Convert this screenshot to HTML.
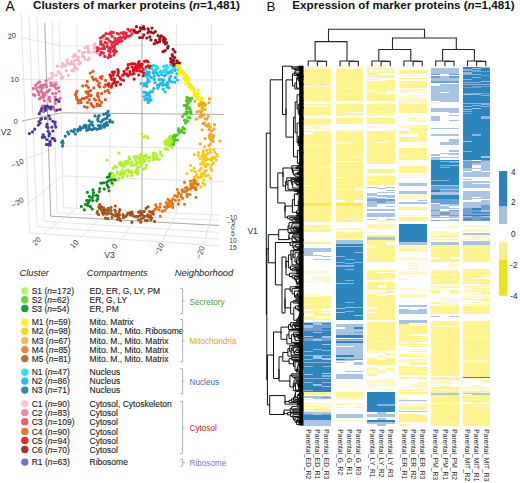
<!DOCTYPE html>
<html><head><meta charset="utf-8"><style>
html,body{margin:0;padding:0;background:#fff;}
svg{display:block;font-family:"Liberation Sans", sans-serif;}
.t{stroke:currentColor;stroke-width:0.22px;}
</style></head><body>
<svg width="520" height="483" viewBox="0 0 520 483">
<rect width="520" height="483" fill="#fff"/>
<text x="5.6" y="10.8" font-size="13.8" fill="#111">A</text>
<text x="33.0" y="9.3" font-size="11.7" font-weight="bold" fill="#111">Clusters of marker proteins (<tspan font-style="italic">n</tspan>=1,481)</text>
<text x="266.6" y="11.0" font-size="13.4" fill="#111">B</text>
<text x="292.3" y="9.3" font-size="11.65" font-weight="bold" fill="#111">Expression of marker proteins (<tspan font-style="italic">n</tspan>=1,481)</text>
<line x1="62.0" y1="46.0" x2="223.5" y2="44.3" stroke="#dedede" stroke-width="0.8"/>
<line x1="62.0" y1="79.6" x2="223.5" y2="80.0" stroke="#dedede" stroke-width="0.8"/>
<line x1="62.0" y1="112.8" x2="223.5" y2="114.5" stroke="#a9a9a9" stroke-width="1.0"/>
<line x1="62.0" y1="145.8" x2="223.5" y2="148.8" stroke="#dedede" stroke-width="0.8"/>
<line x1="62.0" y1="176.0" x2="223.5" y2="181.6" stroke="#dedede" stroke-width="0.8"/>
<line x1="76.7" y1="24.0" x2="76.7" y2="208.3" stroke="#dedede" stroke-width="0.8"/>
<line x1="110.0" y1="24.0" x2="110.0" y2="209.9" stroke="#dedede" stroke-width="0.8"/>
<line x1="142.0" y1="24.0" x2="142.0" y2="211.4" stroke="#a9a9a9" stroke-width="1.0"/>
<line x1="176.6" y1="24.0" x2="176.6" y2="213.1" stroke="#dedede" stroke-width="0.8"/>
<line x1="211.4" y1="24.0" x2="211.4" y2="214.7" stroke="#dedede" stroke-width="0.8"/>
<line x1="21.0" y1="37.6" x2="62.0" y2="46.0" stroke="#dedede" stroke-width="0.8"/>
<line x1="21.0" y1="79.3" x2="62.0" y2="79.6" stroke="#dedede" stroke-width="0.8"/>
<line x1="22.0" y1="121.0" x2="62.0" y2="112.8" stroke="#a9a9a9" stroke-width="1.0"/>
<line x1="25.0" y1="159.5" x2="62.0" y2="145.8" stroke="#dedede" stroke-width="0.8"/>
<line x1="27.0" y1="204.7" x2="62.0" y2="176.0" stroke="#dedede" stroke-width="0.8"/>
<line x1="59.0" y1="22.0" x2="63.4" y2="207.7" stroke="#dedede" stroke-width="0.8"/>
<line x1="63.4" y1="207.7" x2="219.0" y2="215.1" stroke="#dedede" stroke-width="0.8"/>
<line x1="52.0" y1="20.0" x2="57.0" y2="213.0" stroke="#dedede" stroke-width="0.8"/>
<line x1="57.0" y1="213.0" x2="219.0" y2="220.4" stroke="#dedede" stroke-width="0.8"/>
<line x1="44.8" y1="23.0" x2="50.7" y2="216.2" stroke="#a9a9a9" stroke-width="1.0"/>
<line x1="50.7" y1="216.2" x2="219.0" y2="225.5" stroke="#a9a9a9" stroke-width="1.0"/>
<line x1="37.0" y1="17.0" x2="44.3" y2="221.4" stroke="#dedede" stroke-width="0.8"/>
<line x1="44.3" y1="221.4" x2="219.0" y2="232.5" stroke="#dedede" stroke-width="0.8"/>
<line x1="29.0" y1="15.0" x2="37.0" y2="226.7" stroke="#dedede" stroke-width="0.8"/>
<line x1="37.0" y1="226.7" x2="219.0" y2="239.2" stroke="#dedede" stroke-width="0.8"/>
<line x1="21.0" y1="13.0" x2="29.5" y2="233.0" stroke="#dedede" stroke-width="0.8"/>
<line x1="29.5" y1="233.0" x2="219.0" y2="245.8" stroke="#dedede" stroke-width="0.8"/>
<line x1="76.7" y1="208.3" x2="43.0" y2="234.5" stroke="#dedede" stroke-width="0.8"/>
<line x1="110.0" y1="209.9" x2="80.0" y2="238.0" stroke="#dedede" stroke-width="0.8"/>
<line x1="142.0" y1="211.4" x2="119.0" y2="242.0" stroke="#dedede" stroke-width="0.8"/>
<line x1="176.6" y1="213.1" x2="161.0" y2="243.5" stroke="#dedede" stroke-width="0.8"/>
<line x1="211.4" y1="214.7" x2="204.0" y2="245.0" stroke="#dedede" stroke-width="0.8"/>
<text x="8.2" y="39.2" font-size="7.6" fill="#333" transform="rotate(-10 8.2 39.2)">20</text>
<text x="10.6" y="81.9" font-size="7.6" fill="#333">10</text>
<text x="13.6" y="124.2" font-size="7.6" fill="#333">0</text>
<text x="12.6" y="168.2" font-size="7.6" fill="#333" transform="rotate(-24 12.6 168.2)">−10</text>
<text x="13.4" y="208.2" font-size="7.6" fill="#333" transform="rotate(-32 13.4 208.2)">−20</text>
<text x="35.5" y="246" font-size="7.6" fill="#333" transform="rotate(-45 35.5 246)">20</text>
<text x="73.5" y="249" font-size="7.6" fill="#333" transform="rotate(-50 73.5 249)">10</text>
<text x="115.5" y="249.5" font-size="7.6" fill="#333" transform="rotate(-55 115.5 249.5)">0</text>
<text x="158" y="256" font-size="7.6" fill="#333" transform="rotate(-60 158 256)">−10</text>
<text x="200.5" y="259.5" font-size="7.6" fill="#333" transform="rotate(-70 200.5 259.5)">−20</text>
<text x="225.9" y="219.8" font-size="6.6" fill="#333">−10</text>
<text x="227.6" y="224.8" font-size="6.6" fill="#333">−5</text>
<text x="231.0" y="229.8" font-size="6.6" fill="#333">0</text>
<text x="231.0" y="236.0" font-size="6.6" fill="#333">5</text>
<text x="229.3" y="242.8" font-size="6.6" fill="#333">10</text>
<text x="229.3" y="250.0" font-size="6.6" fill="#333">15</text>
<text x="0.8" y="134.6" font-size="8.6" fill="#333">V2</text>
<text x="104.3" y="258.2" font-size="8.6" fill="#333">V3</text>
<text x="247.4" y="233.8" font-size="8.6" fill="#333">V1</text>
<path d="M74.2 55.9a1.6 1.6 0 1 0 3.2 0a1.6 1.6 0 1 0 -3.2 0M76.8 57.4a1.6 1.6 0 1 0 3.2 0a1.6 1.6 0 1 0 -3.2 0M101.9 40.3a1.6 1.6 0 1 0 3.2 0a1.6 1.6 0 1 0 -3.2 0M94.5 52.2a1.6 1.6 0 1 0 3.2 0a1.6 1.6 0 1 0 -3.2 0M59.8 78.0a1.6 1.6 0 1 0 3.2 0a1.6 1.6 0 1 0 -3.2 0M80.7 56.2a1.6 1.6 0 1 0 3.2 0a1.6 1.6 0 1 0 -3.2 0M83.3 59.0a1.6 1.6 0 1 0 3.2 0a1.6 1.6 0 1 0 -3.2 0M60.2 66.7a1.6 1.6 0 1 0 3.2 0a1.6 1.6 0 1 0 -3.2 0M55.8 66.1a1.6 1.6 0 1 0 3.2 0a1.6 1.6 0 1 0 -3.2 0M86.4 52.1a1.6 1.6 0 1 0 3.2 0a1.6 1.6 0 1 0 -3.2 0M102.2 43.8a1.6 1.6 0 1 0 3.2 0a1.6 1.6 0 1 0 -3.2 0M66.7 75.1a1.6 1.6 0 1 0 3.2 0a1.6 1.6 0 1 0 -3.2 0M95.6 53.4a1.6 1.6 0 1 0 3.2 0a1.6 1.6 0 1 0 -3.2 0M76.9 60.4a1.6 1.6 0 1 0 3.2 0a1.6 1.6 0 1 0 -3.2 0M70.3 70.5a1.6 1.6 0 1 0 3.2 0a1.6 1.6 0 1 0 -3.2 0M92.2 51.9a1.6 1.6 0 1 0 3.2 0a1.6 1.6 0 1 0 -3.2 0M64.7 70.8a1.6 1.6 0 1 0 3.2 0a1.6 1.6 0 1 0 -3.2 0M100.7 45.4a1.6 1.6 0 1 0 3.2 0a1.6 1.6 0 1 0 -3.2 0M77.5 50.9a1.6 1.6 0 1 0 3.2 0a1.6 1.6 0 1 0 -3.2 0M63.7 65.8a1.6 1.6 0 1 0 3.2 0a1.6 1.6 0 1 0 -3.2 0M72.9 68.3a1.6 1.6 0 1 0 3.2 0a1.6 1.6 0 1 0 -3.2 0M69.8 61.7a1.6 1.6 0 1 0 3.2 0a1.6 1.6 0 1 0 -3.2 0M92.6 45.9a1.6 1.6 0 1 0 3.2 0a1.6 1.6 0 1 0 -3.2 0M41.9 84.6a1.6 1.6 0 1 0 3.2 0a1.6 1.6 0 1 0 -3.2 0M50.9 75.8a1.6 1.6 0 1 0 3.2 0a1.6 1.6 0 1 0 -3.2 0M56.7 71.9a1.6 1.6 0 1 0 3.2 0a1.6 1.6 0 1 0 -3.2 0M61.3 77.2a1.6 1.6 0 1 0 3.2 0a1.6 1.6 0 1 0 -3.2 0M86.1 46.3a1.6 1.6 0 1 0 3.2 0a1.6 1.6 0 1 0 -3.2 0M49.6 78.5a1.6 1.6 0 1 0 3.2 0a1.6 1.6 0 1 0 -3.2 0M62.5 64.9a1.6 1.6 0 1 0 3.2 0a1.6 1.6 0 1 0 -3.2 0M92.4 48.3a1.6 1.6 0 1 0 3.2 0a1.6 1.6 0 1 0 -3.2 0M48.7 82.6a1.6 1.6 0 1 0 3.2 0a1.6 1.6 0 1 0 -3.2 0M72.0 64.1a1.6 1.6 0 1 0 3.2 0a1.6 1.6 0 1 0 -3.2 0M60.9 63.4a1.6 1.6 0 1 0 3.2 0a1.6 1.6 0 1 0 -3.2 0M79.0 62.8a1.6 1.6 0 1 0 3.2 0a1.6 1.6 0 1 0 -3.2 0M68.9 64.1a1.6 1.6 0 1 0 3.2 0a1.6 1.6 0 1 0 -3.2 0M50.1 73.1a1.6 1.6 0 1 0 3.2 0a1.6 1.6 0 1 0 -3.2 0M65.5 61.9a1.6 1.6 0 1 0 3.2 0a1.6 1.6 0 1 0 -3.2 0M72.9 54.6a1.6 1.6 0 1 0 3.2 0a1.6 1.6 0 1 0 -3.2 0M75.3 59.6a1.6 1.6 0 1 0 3.2 0a1.6 1.6 0 1 0 -3.2 0M44.5 86.3a1.6 1.6 0 1 0 3.2 0a1.6 1.6 0 1 0 -3.2 0M45.0 84.0a1.6 1.6 0 1 0 3.2 0a1.6 1.6 0 1 0 -3.2 0M45.7 80.0a1.6 1.6 0 1 0 3.2 0a1.6 1.6 0 1 0 -3.2 0M88.2 52.2a1.6 1.6 0 1 0 3.2 0a1.6 1.6 0 1 0 -3.2 0M99.3 43.2a1.6 1.6 0 1 0 3.2 0a1.6 1.6 0 1 0 -3.2 0M77.3 63.9a1.6 1.6 0 1 0 3.2 0a1.6 1.6 0 1 0 -3.2 0M47.0 79.0a1.6 1.6 0 1 0 3.2 0a1.6 1.6 0 1 0 -3.2 0M75.6 68.8a1.6 1.6 0 1 0 3.2 0a1.6 1.6 0 1 0 -3.2 0M86.8 50.4a1.6 1.6 0 1 0 3.2 0a1.6 1.6 0 1 0 -3.2 0M86.3 48.1a1.6 1.6 0 1 0 3.2 0a1.6 1.6 0 1 0 -3.2 0M71.5 56.7a1.6 1.6 0 1 0 3.2 0a1.6 1.6 0 1 0 -3.2 0M83.0 52.3a1.6 1.6 0 1 0 3.2 0a1.6 1.6 0 1 0 -3.2 0M72.9 60.8a1.6 1.6 0 1 0 3.2 0a1.6 1.6 0 1 0 -3.2 0M96.7 47.8a1.6 1.6 0 1 0 3.2 0a1.6 1.6 0 1 0 -3.2 0M55.0 82.0a1.6 1.6 0 1 0 3.2 0a1.6 1.6 0 1 0 -3.2 0M93.3 43.9a1.6 1.6 0 1 0 3.2 0a1.6 1.6 0 1 0 -3.2 0M97.2 52.2a1.6 1.6 0 1 0 3.2 0a1.6 1.6 0 1 0 -3.2 0M86.5 60.1a1.6 1.6 0 1 0 3.2 0a1.6 1.6 0 1 0 -3.2 0M59.2 74.2a1.6 1.6 0 1 0 3.2 0a1.6 1.6 0 1 0 -3.2 0M53.5 82.4a1.6 1.6 0 1 0 3.2 0a1.6 1.6 0 1 0 -3.2 0M87.6 58.2a1.6 1.6 0 1 0 3.2 0a1.6 1.6 0 1 0 -3.2 0M66.5 63.7a1.6 1.6 0 1 0 3.2 0a1.6 1.6 0 1 0 -3.2 0M94.8 48.6a1.6 1.6 0 1 0 3.2 0a1.6 1.6 0 1 0 -3.2 0M65.6 59.8a1.6 1.6 0 1 0 3.2 0a1.6 1.6 0 1 0 -3.2 0M81.1 52.9a1.6 1.6 0 1 0 3.2 0a1.6 1.6 0 1 0 -3.2 0M73.4 66.6a1.6 1.6 0 1 0 3.2 0a1.6 1.6 0 1 0 -3.2 0M71.8 71.0a1.6 1.6 0 1 0 3.2 0a1.6 1.6 0 1 0 -3.2 0M83.4 47.7a1.6 1.6 0 1 0 3.2 0a1.6 1.6 0 1 0 -3.2 0M54.4 75.3a1.6 1.6 0 1 0 3.2 0a1.6 1.6 0 1 0 -3.2 0M52.1 83.9a1.6 1.6 0 1 0 3.2 0a1.6 1.6 0 1 0 -3.2 0M82.3 56.6a1.6 1.6 0 1 0 3.2 0a1.6 1.6 0 1 0 -3.2 0M101.1 48.2a1.6 1.6 0 1 0 3.2 0a1.6 1.6 0 1 0 -3.2 0" fill="#f6b6c8"/>
<path d="M40.7 106.1a1.6 1.6 0 1 0 3.2 0a1.6 1.6 0 1 0 -3.2 0M54.2 93.3a1.6 1.6 0 1 0 3.2 0a1.6 1.6 0 1 0 -3.2 0M31.8 94.6a1.6 1.6 0 1 0 3.2 0a1.6 1.6 0 1 0 -3.2 0M41.2 109.3a1.6 1.6 0 1 0 3.2 0a1.6 1.6 0 1 0 -3.2 0M36.0 91.0a1.6 1.6 0 1 0 3.2 0a1.6 1.6 0 1 0 -3.2 0M42.3 105.8a1.6 1.6 0 1 0 3.2 0a1.6 1.6 0 1 0 -3.2 0M57.1 87.5a1.6 1.6 0 1 0 3.2 0a1.6 1.6 0 1 0 -3.2 0M52.1 108.7a1.6 1.6 0 1 0 3.2 0a1.6 1.6 0 1 0 -3.2 0M40.2 88.0a1.6 1.6 0 1 0 3.2 0a1.6 1.6 0 1 0 -3.2 0M57.0 99.9a1.6 1.6 0 1 0 3.2 0a1.6 1.6 0 1 0 -3.2 0M37.2 94.7a1.6 1.6 0 1 0 3.2 0a1.6 1.6 0 1 0 -3.2 0M41.6 87.3a1.6 1.6 0 1 0 3.2 0a1.6 1.6 0 1 0 -3.2 0M42.9 95.3a1.6 1.6 0 1 0 3.2 0a1.6 1.6 0 1 0 -3.2 0M53.7 103.4a1.6 1.6 0 1 0 3.2 0a1.6 1.6 0 1 0 -3.2 0M48.0 89.8a1.6 1.6 0 1 0 3.2 0a1.6 1.6 0 1 0 -3.2 0M39.7 90.9a1.6 1.6 0 1 0 3.2 0a1.6 1.6 0 1 0 -3.2 0M38.1 81.8a1.6 1.6 0 1 0 3.2 0a1.6 1.6 0 1 0 -3.2 0M33.2 95.4a1.6 1.6 0 1 0 3.2 0a1.6 1.6 0 1 0 -3.2 0M51.0 93.7a1.6 1.6 0 1 0 3.2 0a1.6 1.6 0 1 0 -3.2 0M37.2 92.8a1.6 1.6 0 1 0 3.2 0a1.6 1.6 0 1 0 -3.2 0M48.4 101.2a1.6 1.6 0 1 0 3.2 0a1.6 1.6 0 1 0 -3.2 0M52.1 107.0a1.6 1.6 0 1 0 3.2 0a1.6 1.6 0 1 0 -3.2 0M49.7 83.0a1.6 1.6 0 1 0 3.2 0a1.6 1.6 0 1 0 -3.2 0M54.8 88.7a1.6 1.6 0 1 0 3.2 0a1.6 1.6 0 1 0 -3.2 0M46.8 91.3a1.6 1.6 0 1 0 3.2 0a1.6 1.6 0 1 0 -3.2 0M51.8 85.6a1.6 1.6 0 1 0 3.2 0a1.6 1.6 0 1 0 -3.2 0M37.6 87.1a1.6 1.6 0 1 0 3.2 0a1.6 1.6 0 1 0 -3.2 0M41.9 111.8a1.6 1.6 0 1 0 3.2 0a1.6 1.6 0 1 0 -3.2 0M45.1 86.6a1.6 1.6 0 1 0 3.2 0a1.6 1.6 0 1 0 -3.2 0M53.8 100.6a1.6 1.6 0 1 0 3.2 0a1.6 1.6 0 1 0 -3.2 0M44.2 106.0a1.6 1.6 0 1 0 3.2 0a1.6 1.6 0 1 0 -3.2 0M31.6 88.7a1.6 1.6 0 1 0 3.2 0a1.6 1.6 0 1 0 -3.2 0M33.9 85.3a1.6 1.6 0 1 0 3.2 0a1.6 1.6 0 1 0 -3.2 0M58.6 98.2a1.6 1.6 0 1 0 3.2 0a1.6 1.6 0 1 0 -3.2 0M57.4 91.3a1.6 1.6 0 1 0 3.2 0a1.6 1.6 0 1 0 -3.2 0M47.7 99.5a1.6 1.6 0 1 0 3.2 0a1.6 1.6 0 1 0 -3.2 0M37.8 98.8a1.6 1.6 0 1 0 3.2 0a1.6 1.6 0 1 0 -3.2 0M49.3 85.7a1.6 1.6 0 1 0 3.2 0a1.6 1.6 0 1 0 -3.2 0M39.5 85.7a1.6 1.6 0 1 0 3.2 0a1.6 1.6 0 1 0 -3.2 0M53.5 97.1a1.6 1.6 0 1 0 3.2 0a1.6 1.6 0 1 0 -3.2 0M41.9 97.2a1.6 1.6 0 1 0 3.2 0a1.6 1.6 0 1 0 -3.2 0M39.5 97.7a1.6 1.6 0 1 0 3.2 0a1.6 1.6 0 1 0 -3.2 0M40.8 92.7a1.6 1.6 0 1 0 3.2 0a1.6 1.6 0 1 0 -3.2 0M40.9 85.5a1.6 1.6 0 1 0 3.2 0a1.6 1.6 0 1 0 -3.2 0M42.2 108.1a1.6 1.6 0 1 0 3.2 0a1.6 1.6 0 1 0 -3.2 0M43.8 84.4a1.6 1.6 0 1 0 3.2 0a1.6 1.6 0 1 0 -3.2 0M49.0 109.0a1.6 1.6 0 1 0 3.2 0a1.6 1.6 0 1 0 -3.2 0M41.2 95.6a1.6 1.6 0 1 0 3.2 0a1.6 1.6 0 1 0 -3.2 0M34.6 88.3a1.6 1.6 0 1 0 3.2 0a1.6 1.6 0 1 0 -3.2 0M45.5 109.5a1.6 1.6 0 1 0 3.2 0a1.6 1.6 0 1 0 -3.2 0M53.7 110.9a1.6 1.6 0 1 0 3.2 0a1.6 1.6 0 1 0 -3.2 0M36.1 83.2a1.6 1.6 0 1 0 3.2 0a1.6 1.6 0 1 0 -3.2 0M44.4 80.8a1.6 1.6 0 1 0 3.2 0a1.6 1.6 0 1 0 -3.2 0M54.3 84.3a1.6 1.6 0 1 0 3.2 0a1.6 1.6 0 1 0 -3.2 0M53.2 86.3a1.6 1.6 0 1 0 3.2 0a1.6 1.6 0 1 0 -3.2 0M45.4 91.7a1.6 1.6 0 1 0 3.2 0a1.6 1.6 0 1 0 -3.2 0M47.8 97.2a1.6 1.6 0 1 0 3.2 0a1.6 1.6 0 1 0 -3.2 0M42.7 100.7a1.6 1.6 0 1 0 3.2 0a1.6 1.6 0 1 0 -3.2 0M43.4 93.5a1.6 1.6 0 1 0 3.2 0a1.6 1.6 0 1 0 -3.2 0" fill="#dc6e98"/>
<path d="M37.7 113.7a1.6 1.6 0 1 0 3.2 0a1.6 1.6 0 1 0 -3.2 0M43.8 108.3a1.6 1.6 0 1 0 3.2 0a1.6 1.6 0 1 0 -3.2 0M47.3 115.9a1.6 1.6 0 1 0 3.2 0a1.6 1.6 0 1 0 -3.2 0M43.6 106.5a1.6 1.6 0 1 0 3.2 0a1.6 1.6 0 1 0 -3.2 0M39.1 111.0a1.6 1.6 0 1 0 3.2 0a1.6 1.6 0 1 0 -3.2 0M45.7 106.2a1.6 1.6 0 1 0 3.2 0a1.6 1.6 0 1 0 -3.2 0M44.0 110.3a1.6 1.6 0 1 0 3.2 0a1.6 1.6 0 1 0 -3.2 0M49.8 106.9a1.6 1.6 0 1 0 3.2 0a1.6 1.6 0 1 0 -3.2 0M48.5 118.9a1.6 1.6 0 1 0 3.2 0a1.6 1.6 0 1 0 -3.2 0M39.9 118.7a1.6 1.6 0 1 0 3.2 0a1.6 1.6 0 1 0 -3.2 0M43.8 118.4a1.6 1.6 0 1 0 3.2 0a1.6 1.6 0 1 0 -3.2 0M47.2 107.2a1.6 1.6 0 1 0 3.2 0a1.6 1.6 0 1 0 -3.2 0M49.1 108.8a1.6 1.6 0 1 0 3.2 0a1.6 1.6 0 1 0 -3.2 0M40.1 108.7a1.6 1.6 0 1 0 3.2 0a1.6 1.6 0 1 0 -3.2 0" fill="#4b379b"/>
<path d="M57.4 101.5a1.6 1.6 0 1 0 3.2 0a1.6 1.6 0 1 0 -3.2 0M54.6 99.5a1.6 1.6 0 1 0 3.2 0a1.6 1.6 0 1 0 -3.2 0M55.4 110.1a1.6 1.6 0 1 0 3.2 0a1.6 1.6 0 1 0 -3.2 0M58.5 109.5a1.6 1.6 0 1 0 3.2 0a1.6 1.6 0 1 0 -3.2 0" fill="#4b379b"/>
<path d="M37.4 121.7a1.6 1.6 0 1 0 3.2 0a1.6 1.6 0 1 0 -3.2 0M36.7 125.1a1.6 1.6 0 1 0 3.2 0a1.6 1.6 0 1 0 -3.2 0M33.2 129.2a1.6 1.6 0 1 0 3.2 0a1.6 1.6 0 1 0 -3.2 0M27.8 133.6a1.6 1.6 0 1 0 3.2 0a1.6 1.6 0 1 0 -3.2 0M38.6 123.1a1.6 1.6 0 1 0 3.2 0a1.6 1.6 0 1 0 -3.2 0M30.9 131.9a1.6 1.6 0 1 0 3.2 0a1.6 1.6 0 1 0 -3.2 0M39.1 119.4a1.6 1.6 0 1 0 3.2 0a1.6 1.6 0 1 0 -3.2 0" fill="#4b379b"/>
<path d="M53.4 124.3a1.6 1.6 0 1 0 3.2 0a1.6 1.6 0 1 0 -3.2 0M40.7 137.3a1.6 1.6 0 1 0 3.2 0a1.6 1.6 0 1 0 -3.2 0M47.5 135.7a1.6 1.6 0 1 0 3.2 0a1.6 1.6 0 1 0 -3.2 0M45.4 124.4a1.6 1.6 0 1 0 3.2 0a1.6 1.6 0 1 0 -3.2 0M54.2 127.1a1.6 1.6 0 1 0 3.2 0a1.6 1.6 0 1 0 -3.2 0M48.5 142.8a1.6 1.6 0 1 0 3.2 0a1.6 1.6 0 1 0 -3.2 0M51.3 131.0a1.6 1.6 0 1 0 3.2 0a1.6 1.6 0 1 0 -3.2 0M43.1 137.1a1.6 1.6 0 1 0 3.2 0a1.6 1.6 0 1 0 -3.2 0M44.8 144.4a1.6 1.6 0 1 0 3.2 0a1.6 1.6 0 1 0 -3.2 0M50.3 127.2a1.6 1.6 0 1 0 3.2 0a1.6 1.6 0 1 0 -3.2 0M53.6 122.1a1.6 1.6 0 1 0 3.2 0a1.6 1.6 0 1 0 -3.2 0M46.5 131.1a1.6 1.6 0 1 0 3.2 0a1.6 1.6 0 1 0 -3.2 0M51.2 121.3a1.6 1.6 0 1 0 3.2 0a1.6 1.6 0 1 0 -3.2 0M46.9 144.5a1.6 1.6 0 1 0 3.2 0a1.6 1.6 0 1 0 -3.2 0M48.0 133.7a1.6 1.6 0 1 0 3.2 0a1.6 1.6 0 1 0 -3.2 0M48.6 141.3a1.6 1.6 0 1 0 3.2 0a1.6 1.6 0 1 0 -3.2 0M53.3 140.6a1.6 1.6 0 1 0 3.2 0a1.6 1.6 0 1 0 -3.2 0M45.2 139.5a1.6 1.6 0 1 0 3.2 0a1.6 1.6 0 1 0 -3.2 0M45.0 126.6a1.6 1.6 0 1 0 3.2 0a1.6 1.6 0 1 0 -3.2 0M50.6 138.4a1.6 1.6 0 1 0 3.2 0a1.6 1.6 0 1 0 -3.2 0M52.5 138.8a1.6 1.6 0 1 0 3.2 0a1.6 1.6 0 1 0 -3.2 0M41.5 134.8a1.6 1.6 0 1 0 3.2 0a1.6 1.6 0 1 0 -3.2 0M46.3 127.6a1.6 1.6 0 1 0 3.2 0a1.6 1.6 0 1 0 -3.2 0M48.6 145.1a1.6 1.6 0 1 0 3.2 0a1.6 1.6 0 1 0 -3.2 0" fill="#4b379b"/>
<path d="M61.5 143.3a1.6 1.6 0 1 0 3.2 0a1.6 1.6 0 1 0 -3.2 0M61.0 140.9a1.6 1.6 0 1 0 3.2 0a1.6 1.6 0 1 0 -3.2 0M66.2 132.2a1.6 1.6 0 1 0 3.2 0a1.6 1.6 0 1 0 -3.2 0M63.7 136.2a1.6 1.6 0 1 0 3.2 0a1.6 1.6 0 1 0 -3.2 0M60.1 142.3a1.6 1.6 0 1 0 3.2 0a1.6 1.6 0 1 0 -3.2 0M60.9 146.0a1.6 1.6 0 1 0 3.2 0a1.6 1.6 0 1 0 -3.2 0M67.2 134.0a1.6 1.6 0 1 0 3.2 0a1.6 1.6 0 1 0 -3.2 0" fill="#1a7a98"/>
<path d="M99.2 125.5a1.6 1.6 0 1 0 3.2 0a1.6 1.6 0 1 0 -3.2 0M99.4 128.2a1.6 1.6 0 1 0 3.2 0a1.6 1.6 0 1 0 -3.2 0M85.0 130.3a1.6 1.6 0 1 0 3.2 0a1.6 1.6 0 1 0 -3.2 0M72.2 131.6a1.6 1.6 0 1 0 3.2 0a1.6 1.6 0 1 0 -3.2 0M96.6 116.5a1.6 1.6 0 1 0 3.2 0a1.6 1.6 0 1 0 -3.2 0M102.0 114.3a1.6 1.6 0 1 0 3.2 0a1.6 1.6 0 1 0 -3.2 0M81.6 127.6a1.6 1.6 0 1 0 3.2 0a1.6 1.6 0 1 0 -3.2 0M110.9 122.1a1.6 1.6 0 1 0 3.2 0a1.6 1.6 0 1 0 -3.2 0M106.0 125.1a1.6 1.6 0 1 0 3.2 0a1.6 1.6 0 1 0 -3.2 0M88.2 129.1a1.6 1.6 0 1 0 3.2 0a1.6 1.6 0 1 0 -3.2 0M84.3 127.3a1.6 1.6 0 1 0 3.2 0a1.6 1.6 0 1 0 -3.2 0M106.5 111.4a1.6 1.6 0 1 0 3.2 0a1.6 1.6 0 1 0 -3.2 0M104.7 113.4a1.6 1.6 0 1 0 3.2 0a1.6 1.6 0 1 0 -3.2 0M90.5 129.7a1.6 1.6 0 1 0 3.2 0a1.6 1.6 0 1 0 -3.2 0M99.5 122.0a1.6 1.6 0 1 0 3.2 0a1.6 1.6 0 1 0 -3.2 0M72.9 129.5a1.6 1.6 0 1 0 3.2 0a1.6 1.6 0 1 0 -3.2 0M96.4 118.2a1.6 1.6 0 1 0 3.2 0a1.6 1.6 0 1 0 -3.2 0M108.2 122.0a1.6 1.6 0 1 0 3.2 0a1.6 1.6 0 1 0 -3.2 0M92.3 128.6a1.6 1.6 0 1 0 3.2 0a1.6 1.6 0 1 0 -3.2 0M101.8 125.8a1.6 1.6 0 1 0 3.2 0a1.6 1.6 0 1 0 -3.2 0M76.1 130.9a1.6 1.6 0 1 0 3.2 0a1.6 1.6 0 1 0 -3.2 0M97.9 128.3a1.6 1.6 0 1 0 3.2 0a1.6 1.6 0 1 0 -3.2 0M102.7 124.1a1.6 1.6 0 1 0 3.2 0a1.6 1.6 0 1 0 -3.2 0M107.5 115.2a1.6 1.6 0 1 0 3.2 0a1.6 1.6 0 1 0 -3.2 0M73.8 134.0a1.6 1.6 0 1 0 3.2 0a1.6 1.6 0 1 0 -3.2 0M100.9 120.3a1.6 1.6 0 1 0 3.2 0a1.6 1.6 0 1 0 -3.2 0M86.6 129.6a1.6 1.6 0 1 0 3.2 0a1.6 1.6 0 1 0 -3.2 0M96.6 121.0a1.6 1.6 0 1 0 3.2 0a1.6 1.6 0 1 0 -3.2 0M108.4 120.2a1.6 1.6 0 1 0 3.2 0a1.6 1.6 0 1 0 -3.2 0M94.1 128.5a1.6 1.6 0 1 0 3.2 0a1.6 1.6 0 1 0 -3.2 0M102.7 127.2a1.6 1.6 0 1 0 3.2 0a1.6 1.6 0 1 0 -3.2 0M82.9 125.3a1.6 1.6 0 1 0 3.2 0a1.6 1.6 0 1 0 -3.2 0M87.6 120.8a1.6 1.6 0 1 0 3.2 0a1.6 1.6 0 1 0 -3.2 0M96.1 119.6a1.6 1.6 0 1 0 3.2 0a1.6 1.6 0 1 0 -3.2 0M102.9 119.1a1.6 1.6 0 1 0 3.2 0a1.6 1.6 0 1 0 -3.2 0M76.3 129.3a1.6 1.6 0 1 0 3.2 0a1.6 1.6 0 1 0 -3.2 0M91.4 125.6a1.6 1.6 0 1 0 3.2 0a1.6 1.6 0 1 0 -3.2 0M105.0 122.6a1.6 1.6 0 1 0 3.2 0a1.6 1.6 0 1 0 -3.2 0M78.4 126.8a1.6 1.6 0 1 0 3.2 0a1.6 1.6 0 1 0 -3.2 0M87.5 127.2a1.6 1.6 0 1 0 3.2 0a1.6 1.6 0 1 0 -3.2 0M79.1 128.3a1.6 1.6 0 1 0 3.2 0a1.6 1.6 0 1 0 -3.2 0M78.8 129.8a1.6 1.6 0 1 0 3.2 0a1.6 1.6 0 1 0 -3.2 0M104.2 125.5a1.6 1.6 0 1 0 3.2 0a1.6 1.6 0 1 0 -3.2 0M89.6 123.6a1.6 1.6 0 1 0 3.2 0a1.6 1.6 0 1 0 -3.2 0M84.6 125.6a1.6 1.6 0 1 0 3.2 0a1.6 1.6 0 1 0 -3.2 0M105.3 118.2a1.6 1.6 0 1 0 3.2 0a1.6 1.6 0 1 0 -3.2 0M106.0 116.0a1.6 1.6 0 1 0 3.2 0a1.6 1.6 0 1 0 -3.2 0M87.8 125.6a1.6 1.6 0 1 0 3.2 0a1.6 1.6 0 1 0 -3.2 0M97.6 115.5a1.6 1.6 0 1 0 3.2 0a1.6 1.6 0 1 0 -3.2 0M95.6 129.3a1.6 1.6 0 1 0 3.2 0a1.6 1.6 0 1 0 -3.2 0M93.3 115.9a1.6 1.6 0 1 0 3.2 0a1.6 1.6 0 1 0 -3.2 0M90.5 122.0a1.6 1.6 0 1 0 3.2 0a1.6 1.6 0 1 0 -3.2 0M69.7 130.9a1.6 1.6 0 1 0 3.2 0a1.6 1.6 0 1 0 -3.2 0M96.8 125.5a1.6 1.6 0 1 0 3.2 0a1.6 1.6 0 1 0 -3.2 0" fill="#1a7a98"/>
<path d="M74.5 92.8a1.6 1.6 0 1 0 3.2 0a1.6 1.6 0 1 0 -3.2 0M98.7 105.3a1.6 1.6 0 1 0 3.2 0a1.6 1.6 0 1 0 -3.2 0M85.6 107.3a1.6 1.6 0 1 0 3.2 0a1.6 1.6 0 1 0 -3.2 0M92.3 87.9a1.6 1.6 0 1 0 3.2 0a1.6 1.6 0 1 0 -3.2 0M100.0 93.4a1.6 1.6 0 1 0 3.2 0a1.6 1.6 0 1 0 -3.2 0M85.9 102.6a1.6 1.6 0 1 0 3.2 0a1.6 1.6 0 1 0 -3.2 0M86.9 87.5a1.6 1.6 0 1 0 3.2 0a1.6 1.6 0 1 0 -3.2 0M92.8 99.1a1.6 1.6 0 1 0 3.2 0a1.6 1.6 0 1 0 -3.2 0M81.2 86.0a1.6 1.6 0 1 0 3.2 0a1.6 1.6 0 1 0 -3.2 0M89.0 90.6a1.6 1.6 0 1 0 3.2 0a1.6 1.6 0 1 0 -3.2 0M104.0 80.4a1.6 1.6 0 1 0 3.2 0a1.6 1.6 0 1 0 -3.2 0M104.0 84.7a1.6 1.6 0 1 0 3.2 0a1.6 1.6 0 1 0 -3.2 0M92.0 79.6a1.6 1.6 0 1 0 3.2 0a1.6 1.6 0 1 0 -3.2 0M92.1 107.0a1.6 1.6 0 1 0 3.2 0a1.6 1.6 0 1 0 -3.2 0M97.6 99.9a1.6 1.6 0 1 0 3.2 0a1.6 1.6 0 1 0 -3.2 0M85.6 81.4a1.6 1.6 0 1 0 3.2 0a1.6 1.6 0 1 0 -3.2 0M84.5 91.9a1.6 1.6 0 1 0 3.2 0a1.6 1.6 0 1 0 -3.2 0M74.9 97.2a1.6 1.6 0 1 0 3.2 0a1.6 1.6 0 1 0 -3.2 0M106.2 90.3a1.6 1.6 0 1 0 3.2 0a1.6 1.6 0 1 0 -3.2 0M107.5 92.7a1.6 1.6 0 1 0 3.2 0a1.6 1.6 0 1 0 -3.2 0M96.2 93.4a1.6 1.6 0 1 0 3.2 0a1.6 1.6 0 1 0 -3.2 0M98.6 77.3a1.6 1.6 0 1 0 3.2 0a1.6 1.6 0 1 0 -3.2 0M98.1 86.9a1.6 1.6 0 1 0 3.2 0a1.6 1.6 0 1 0 -3.2 0M97.7 83.4a1.6 1.6 0 1 0 3.2 0a1.6 1.6 0 1 0 -3.2 0M103.8 99.7a1.6 1.6 0 1 0 3.2 0a1.6 1.6 0 1 0 -3.2 0M94.2 79.1a1.6 1.6 0 1 0 3.2 0a1.6 1.6 0 1 0 -3.2 0M84.6 85.4a1.6 1.6 0 1 0 3.2 0a1.6 1.6 0 1 0 -3.2 0M97.1 105.4a1.6 1.6 0 1 0 3.2 0a1.6 1.6 0 1 0 -3.2 0M75.4 91.1a1.6 1.6 0 1 0 3.2 0a1.6 1.6 0 1 0 -3.2 0M103.4 91.4a1.6 1.6 0 1 0 3.2 0a1.6 1.6 0 1 0 -3.2 0M107.4 86.4a1.6 1.6 0 1 0 3.2 0a1.6 1.6 0 1 0 -3.2 0M95.3 105.6a1.6 1.6 0 1 0 3.2 0a1.6 1.6 0 1 0 -3.2 0M109.7 87.5a1.6 1.6 0 1 0 3.2 0a1.6 1.6 0 1 0 -3.2 0M88.7 73.0a1.6 1.6 0 1 0 3.2 0a1.6 1.6 0 1 0 -3.2 0M76.7 102.9a1.6 1.6 0 1 0 3.2 0a1.6 1.6 0 1 0 -3.2 0M100.0 78.4a1.6 1.6 0 1 0 3.2 0a1.6 1.6 0 1 0 -3.2 0M100.5 76.3a1.6 1.6 0 1 0 3.2 0a1.6 1.6 0 1 0 -3.2 0M75.3 99.2a1.6 1.6 0 1 0 3.2 0a1.6 1.6 0 1 0 -3.2 0M99.8 102.4a1.6 1.6 0 1 0 3.2 0a1.6 1.6 0 1 0 -3.2 0M96.7 96.7a1.6 1.6 0 1 0 3.2 0a1.6 1.6 0 1 0 -3.2 0M90.4 105.4a1.6 1.6 0 1 0 3.2 0a1.6 1.6 0 1 0 -3.2 0M82.8 106.6a1.6 1.6 0 1 0 3.2 0a1.6 1.6 0 1 0 -3.2 0M73.9 94.4a1.6 1.6 0 1 0 3.2 0a1.6 1.6 0 1 0 -3.2 0M84.9 97.4a1.6 1.6 0 1 0 3.2 0a1.6 1.6 0 1 0 -3.2 0M79.5 102.6a1.6 1.6 0 1 0 3.2 0a1.6 1.6 0 1 0 -3.2 0M91.4 71.3a1.6 1.6 0 1 0 3.2 0a1.6 1.6 0 1 0 -3.2 0M87.0 91.4a1.6 1.6 0 1 0 3.2 0a1.6 1.6 0 1 0 -3.2 0M89.6 95.4a1.6 1.6 0 1 0 3.2 0a1.6 1.6 0 1 0 -3.2 0M78.8 100.1a1.6 1.6 0 1 0 3.2 0a1.6 1.6 0 1 0 -3.2 0M86.8 94.2a1.6 1.6 0 1 0 3.2 0a1.6 1.6 0 1 0 -3.2 0M96.7 85.3a1.6 1.6 0 1 0 3.2 0a1.6 1.6 0 1 0 -3.2 0M87.7 99.7a1.6 1.6 0 1 0 3.2 0a1.6 1.6 0 1 0 -3.2 0M85.7 92.6a1.6 1.6 0 1 0 3.2 0a1.6 1.6 0 1 0 -3.2 0M95.6 81.0a1.6 1.6 0 1 0 3.2 0a1.6 1.6 0 1 0 -3.2 0M89.3 103.6a1.6 1.6 0 1 0 3.2 0a1.6 1.6 0 1 0 -3.2 0M87.3 95.7a1.6 1.6 0 1 0 3.2 0a1.6 1.6 0 1 0 -3.2 0M95.7 103.9a1.6 1.6 0 1 0 3.2 0a1.6 1.6 0 1 0 -3.2 0M93.9 100.1a1.6 1.6 0 1 0 3.2 0a1.6 1.6 0 1 0 -3.2 0M80.8 98.3a1.6 1.6 0 1 0 3.2 0a1.6 1.6 0 1 0 -3.2 0M95.9 95.4a1.6 1.6 0 1 0 3.2 0a1.6 1.6 0 1 0 -3.2 0M90.6 77.1a1.6 1.6 0 1 0 3.2 0a1.6 1.6 0 1 0 -3.2 0M82.8 98.3a1.6 1.6 0 1 0 3.2 0a1.6 1.6 0 1 0 -3.2 0M102.7 86.9a1.6 1.6 0 1 0 3.2 0a1.6 1.6 0 1 0 -3.2 0M76.6 100.5a1.6 1.6 0 1 0 3.2 0a1.6 1.6 0 1 0 -3.2 0" fill="#ee5418"/>
<path d="M139.9 66.3a1.6 1.6 0 1 0 3.2 0a1.6 1.6 0 1 0 -3.2 0M145.1 74.1a1.6 1.6 0 1 0 3.2 0a1.6 1.6 0 1 0 -3.2 0M126.3 75.9a1.6 1.6 0 1 0 3.2 0a1.6 1.6 0 1 0 -3.2 0M112.7 78.9a1.6 1.6 0 1 0 3.2 0a1.6 1.6 0 1 0 -3.2 0M121.1 75.2a1.6 1.6 0 1 0 3.2 0a1.6 1.6 0 1 0 -3.2 0M122.9 74.0a1.6 1.6 0 1 0 3.2 0a1.6 1.6 0 1 0 -3.2 0M109.3 77.1a1.6 1.6 0 1 0 3.2 0a1.6 1.6 0 1 0 -3.2 0M140.6 64.2a1.6 1.6 0 1 0 3.2 0a1.6 1.6 0 1 0 -3.2 0M131.9 69.3a1.6 1.6 0 1 0 3.2 0a1.6 1.6 0 1 0 -3.2 0M130.5 67.1a1.6 1.6 0 1 0 3.2 0a1.6 1.6 0 1 0 -3.2 0M140.2 71.5a1.6 1.6 0 1 0 3.2 0a1.6 1.6 0 1 0 -3.2 0M146.3 61.7a1.6 1.6 0 1 0 3.2 0a1.6 1.6 0 1 0 -3.2 0M131.9 70.7a1.6 1.6 0 1 0 3.2 0a1.6 1.6 0 1 0 -3.2 0M109.9 85.9a1.6 1.6 0 1 0 3.2 0a1.6 1.6 0 1 0 -3.2 0M116.2 75.2a1.6 1.6 0 1 0 3.2 0a1.6 1.6 0 1 0 -3.2 0M135.2 70.6a1.6 1.6 0 1 0 3.2 0a1.6 1.6 0 1 0 -3.2 0M116.2 69.5a1.6 1.6 0 1 0 3.2 0a1.6 1.6 0 1 0 -3.2 0M142.9 61.3a1.6 1.6 0 1 0 3.2 0a1.6 1.6 0 1 0 -3.2 0M135.5 68.1a1.6 1.6 0 1 0 3.2 0a1.6 1.6 0 1 0 -3.2 0M126.5 64.6a1.6 1.6 0 1 0 3.2 0a1.6 1.6 0 1 0 -3.2 0M137.4 65.3a1.6 1.6 0 1 0 3.2 0a1.6 1.6 0 1 0 -3.2 0M106.1 85.0a1.6 1.6 0 1 0 3.2 0a1.6 1.6 0 1 0 -3.2 0M114.5 85.2a1.6 1.6 0 1 0 3.2 0a1.6 1.6 0 1 0 -3.2 0M110.8 72.1a1.6 1.6 0 1 0 3.2 0a1.6 1.6 0 1 0 -3.2 0M125.2 69.2a1.6 1.6 0 1 0 3.2 0a1.6 1.6 0 1 0 -3.2 0M142.3 72.9a1.6 1.6 0 1 0 3.2 0a1.6 1.6 0 1 0 -3.2 0M133.3 63.9a1.6 1.6 0 1 0 3.2 0a1.6 1.6 0 1 0 -3.2 0M137.2 74.9a1.6 1.6 0 1 0 3.2 0a1.6 1.6 0 1 0 -3.2 0M111.1 83.5a1.6 1.6 0 1 0 3.2 0a1.6 1.6 0 1 0 -3.2 0M116.7 71.1a1.6 1.6 0 1 0 3.2 0a1.6 1.6 0 1 0 -3.2 0M143.0 69.0a1.6 1.6 0 1 0 3.2 0a1.6 1.6 0 1 0 -3.2 0M112.1 73.3a1.6 1.6 0 1 0 3.2 0a1.6 1.6 0 1 0 -3.2 0M119.0 84.4a1.6 1.6 0 1 0 3.2 0a1.6 1.6 0 1 0 -3.2 0M135.1 65.7a1.6 1.6 0 1 0 3.2 0a1.6 1.6 0 1 0 -3.2 0M126.4 67.7a1.6 1.6 0 1 0 3.2 0a1.6 1.6 0 1 0 -3.2 0M137.8 67.9a1.6 1.6 0 1 0 3.2 0a1.6 1.6 0 1 0 -3.2 0M141.5 69.2a1.6 1.6 0 1 0 3.2 0a1.6 1.6 0 1 0 -3.2 0M112.9 71.8a1.6 1.6 0 1 0 3.2 0a1.6 1.6 0 1 0 -3.2 0M146.4 65.9a1.6 1.6 0 1 0 3.2 0a1.6 1.6 0 1 0 -3.2 0M130.7 63.7a1.6 1.6 0 1 0 3.2 0a1.6 1.6 0 1 0 -3.2 0M112.7 80.8a1.6 1.6 0 1 0 3.2 0a1.6 1.6 0 1 0 -3.2 0M132.4 73.4a1.6 1.6 0 1 0 3.2 0a1.6 1.6 0 1 0 -3.2 0M132.6 79.1a1.6 1.6 0 1 0 3.2 0a1.6 1.6 0 1 0 -3.2 0M141.7 75.7a1.6 1.6 0 1 0 3.2 0a1.6 1.6 0 1 0 -3.2 0M138.1 71.0a1.6 1.6 0 1 0 3.2 0a1.6 1.6 0 1 0 -3.2 0M137.6 61.5a1.6 1.6 0 1 0 3.2 0a1.6 1.6 0 1 0 -3.2 0M146.3 72.9a1.6 1.6 0 1 0 3.2 0a1.6 1.6 0 1 0 -3.2 0M144.5 67.2a1.6 1.6 0 1 0 3.2 0a1.6 1.6 0 1 0 -3.2 0M113.0 82.5a1.6 1.6 0 1 0 3.2 0a1.6 1.6 0 1 0 -3.2 0M124.9 73.9a1.6 1.6 0 1 0 3.2 0a1.6 1.6 0 1 0 -3.2 0M110.0 79.3a1.6 1.6 0 1 0 3.2 0a1.6 1.6 0 1 0 -3.2 0M119.2 79.2a1.6 1.6 0 1 0 3.2 0a1.6 1.6 0 1 0 -3.2 0M121.9 80.3a1.6 1.6 0 1 0 3.2 0a1.6 1.6 0 1 0 -3.2 0M107.2 83.6a1.6 1.6 0 1 0 3.2 0a1.6 1.6 0 1 0 -3.2 0M128.0 74.3a1.6 1.6 0 1 0 3.2 0a1.6 1.6 0 1 0 -3.2 0M148.9 66.0a1.6 1.6 0 1 0 3.2 0a1.6 1.6 0 1 0 -3.2 0M115.9 82.1a1.6 1.6 0 1 0 3.2 0a1.6 1.6 0 1 0 -3.2 0M130.9 74.1a1.6 1.6 0 1 0 3.2 0a1.6 1.6 0 1 0 -3.2 0M136.7 62.8a1.6 1.6 0 1 0 3.2 0a1.6 1.6 0 1 0 -3.2 0M111.2 75.5a1.6 1.6 0 1 0 3.2 0a1.6 1.6 0 1 0 -3.2 0M138.7 64.4a1.6 1.6 0 1 0 3.2 0a1.6 1.6 0 1 0 -3.2 0M122.3 71.4a1.6 1.6 0 1 0 3.2 0a1.6 1.6 0 1 0 -3.2 0M143.0 74.2a1.6 1.6 0 1 0 3.2 0a1.6 1.6 0 1 0 -3.2 0M133.5 69.8a1.6 1.6 0 1 0 3.2 0a1.6 1.6 0 1 0 -3.2 0M145.1 60.9a1.6 1.6 0 1 0 3.2 0a1.6 1.6 0 1 0 -3.2 0M133.9 67.2a1.6 1.6 0 1 0 3.2 0a1.6 1.6 0 1 0 -3.2 0M128.3 71.7a1.6 1.6 0 1 0 3.2 0a1.6 1.6 0 1 0 -3.2 0M148.1 67.8a1.6 1.6 0 1 0 3.2 0a1.6 1.6 0 1 0 -3.2 0M118.4 77.5a1.6 1.6 0 1 0 3.2 0a1.6 1.6 0 1 0 -3.2 0M116.7 72.6a1.6 1.6 0 1 0 3.2 0a1.6 1.6 0 1 0 -3.2 0M129.0 64.0a1.6 1.6 0 1 0 3.2 0a1.6 1.6 0 1 0 -3.2 0M108.4 74.8a1.6 1.6 0 1 0 3.2 0a1.6 1.6 0 1 0 -3.2 0" fill="#dc1018"/>
<path d="M102.9 48.7a1.6 1.6 0 1 0 3.2 0a1.6 1.6 0 1 0 -3.2 0M113.8 43.5a1.6 1.6 0 1 0 3.2 0a1.6 1.6 0 1 0 -3.2 0M120.1 41.0a1.6 1.6 0 1 0 3.2 0a1.6 1.6 0 1 0 -3.2 0M107.4 33.8a1.6 1.6 0 1 0 3.2 0a1.6 1.6 0 1 0 -3.2 0M103.7 42.4a1.6 1.6 0 1 0 3.2 0a1.6 1.6 0 1 0 -3.2 0M110.5 44.7a1.6 1.6 0 1 0 3.2 0a1.6 1.6 0 1 0 -3.2 0M130.6 33.6a1.6 1.6 0 1 0 3.2 0a1.6 1.6 0 1 0 -3.2 0M117.8 41.7a1.6 1.6 0 1 0 3.2 0a1.6 1.6 0 1 0 -3.2 0M106.4 57.6a1.6 1.6 0 1 0 3.2 0a1.6 1.6 0 1 0 -3.2 0M106.8 50.7a1.6 1.6 0 1 0 3.2 0a1.6 1.6 0 1 0 -3.2 0M112.9 49.5a1.6 1.6 0 1 0 3.2 0a1.6 1.6 0 1 0 -3.2 0M100.9 36.8a1.6 1.6 0 1 0 3.2 0a1.6 1.6 0 1 0 -3.2 0M109.2 47.6a1.6 1.6 0 1 0 3.2 0a1.6 1.6 0 1 0 -3.2 0M132.8 30.1a1.6 1.6 0 1 0 3.2 0a1.6 1.6 0 1 0 -3.2 0M118.4 39.4a1.6 1.6 0 1 0 3.2 0a1.6 1.6 0 1 0 -3.2 0M119.9 38.1a1.6 1.6 0 1 0 3.2 0a1.6 1.6 0 1 0 -3.2 0M113.4 40.7a1.6 1.6 0 1 0 3.2 0a1.6 1.6 0 1 0 -3.2 0M124.8 35.4a1.6 1.6 0 1 0 3.2 0a1.6 1.6 0 1 0 -3.2 0M110.5 36.3a1.6 1.6 0 1 0 3.2 0a1.6 1.6 0 1 0 -3.2 0M115.4 40.2a1.6 1.6 0 1 0 3.2 0a1.6 1.6 0 1 0 -3.2 0M102.1 35.7a1.6 1.6 0 1 0 3.2 0a1.6 1.6 0 1 0 -3.2 0M100.5 44.4a1.6 1.6 0 1 0 3.2 0a1.6 1.6 0 1 0 -3.2 0M134.7 32.5a1.6 1.6 0 1 0 3.2 0a1.6 1.6 0 1 0 -3.2 0M112.3 55.1a1.6 1.6 0 1 0 3.2 0a1.6 1.6 0 1 0 -3.2 0M116.1 42.6a1.6 1.6 0 1 0 3.2 0a1.6 1.6 0 1 0 -3.2 0M123.2 38.5a1.6 1.6 0 1 0 3.2 0a1.6 1.6 0 1 0 -3.2 0M109.1 56.3a1.6 1.6 0 1 0 3.2 0a1.6 1.6 0 1 0 -3.2 0M98.6 38.0a1.6 1.6 0 1 0 3.2 0a1.6 1.6 0 1 0 -3.2 0M112.9 46.0a1.6 1.6 0 1 0 3.2 0a1.6 1.6 0 1 0 -3.2 0M111.7 51.2a1.6 1.6 0 1 0 3.2 0a1.6 1.6 0 1 0 -3.2 0M107.3 48.1a1.6 1.6 0 1 0 3.2 0a1.6 1.6 0 1 0 -3.2 0M122.5 32.3a1.6 1.6 0 1 0 3.2 0a1.6 1.6 0 1 0 -3.2 0M115.3 43.7a1.6 1.6 0 1 0 3.2 0a1.6 1.6 0 1 0 -3.2 0M105.6 46.7a1.6 1.6 0 1 0 3.2 0a1.6 1.6 0 1 0 -3.2 0M126.3 29.4a1.6 1.6 0 1 0 3.2 0a1.6 1.6 0 1 0 -3.2 0M126.8 36.3a1.6 1.6 0 1 0 3.2 0a1.6 1.6 0 1 0 -3.2 0M124.4 37.3a1.6 1.6 0 1 0 3.2 0a1.6 1.6 0 1 0 -3.2 0M98.6 54.9a1.6 1.6 0 1 0 3.2 0a1.6 1.6 0 1 0 -3.2 0M118.9 37.2a1.6 1.6 0 1 0 3.2 0a1.6 1.6 0 1 0 -3.2 0M113.3 38.3a1.6 1.6 0 1 0 3.2 0a1.6 1.6 0 1 0 -3.2 0M107.6 54.8a1.6 1.6 0 1 0 3.2 0a1.6 1.6 0 1 0 -3.2 0M128.7 35.7a1.6 1.6 0 1 0 3.2 0a1.6 1.6 0 1 0 -3.2 0M104.6 38.5a1.6 1.6 0 1 0 3.2 0a1.6 1.6 0 1 0 -3.2 0M124.6 33.1a1.6 1.6 0 1 0 3.2 0a1.6 1.6 0 1 0 -3.2 0M114.7 51.4a1.6 1.6 0 1 0 3.2 0a1.6 1.6 0 1 0 -3.2 0M109.5 32.0a1.6 1.6 0 1 0 3.2 0a1.6 1.6 0 1 0 -3.2 0M116.8 38.3a1.6 1.6 0 1 0 3.2 0a1.6 1.6 0 1 0 -3.2 0M99.6 52.4a1.6 1.6 0 1 0 3.2 0a1.6 1.6 0 1 0 -3.2 0M109.2 33.8a1.6 1.6 0 1 0 3.2 0a1.6 1.6 0 1 0 -3.2 0M122.3 36.9a1.6 1.6 0 1 0 3.2 0a1.6 1.6 0 1 0 -3.2 0M100.9 48.6a1.6 1.6 0 1 0 3.2 0a1.6 1.6 0 1 0 -3.2 0M129.5 30.1a1.6 1.6 0 1 0 3.2 0a1.6 1.6 0 1 0 -3.2 0M113.0 52.8a1.6 1.6 0 1 0 3.2 0a1.6 1.6 0 1 0 -3.2 0M128.2 31.1a1.6 1.6 0 1 0 3.2 0a1.6 1.6 0 1 0 -3.2 0M109.2 49.1a1.6 1.6 0 1 0 3.2 0a1.6 1.6 0 1 0 -3.2 0M103.1 56.4a1.6 1.6 0 1 0 3.2 0a1.6 1.6 0 1 0 -3.2 0M115.6 33.3a1.6 1.6 0 1 0 3.2 0a1.6 1.6 0 1 0 -3.2 0M119.9 32.8a1.6 1.6 0 1 0 3.2 0a1.6 1.6 0 1 0 -3.2 0M131.0 29.9a1.6 1.6 0 1 0 3.2 0a1.6 1.6 0 1 0 -3.2 0M110.6 47.0a1.6 1.6 0 1 0 3.2 0a1.6 1.6 0 1 0 -3.2 0M101.8 53.2a1.6 1.6 0 1 0 3.2 0a1.6 1.6 0 1 0 -3.2 0M99.0 44.0a1.6 1.6 0 1 0 3.2 0a1.6 1.6 0 1 0 -3.2 0M109.6 42.0a1.6 1.6 0 1 0 3.2 0a1.6 1.6 0 1 0 -3.2 0M106.3 38.9a1.6 1.6 0 1 0 3.2 0a1.6 1.6 0 1 0 -3.2 0M95.6 47.7a1.6 1.6 0 1 0 3.2 0a1.6 1.6 0 1 0 -3.2 0M112.7 47.9a1.6 1.6 0 1 0 3.2 0a1.6 1.6 0 1 0 -3.2 0M112.4 42.4a1.6 1.6 0 1 0 3.2 0a1.6 1.6 0 1 0 -3.2 0M105.4 43.5a1.6 1.6 0 1 0 3.2 0a1.6 1.6 0 1 0 -3.2 0M117.2 34.0a1.6 1.6 0 1 0 3.2 0a1.6 1.6 0 1 0 -3.2 0M111.7 32.4a1.6 1.6 0 1 0 3.2 0a1.6 1.6 0 1 0 -3.2 0M104.4 33.7a1.6 1.6 0 1 0 3.2 0a1.6 1.6 0 1 0 -3.2 0M108.4 52.1a1.6 1.6 0 1 0 3.2 0a1.6 1.6 0 1 0 -3.2 0M108.0 41.0a1.6 1.6 0 1 0 3.2 0a1.6 1.6 0 1 0 -3.2 0M97.9 48.9a1.6 1.6 0 1 0 3.2 0a1.6 1.6 0 1 0 -3.2 0M99.0 41.6a1.6 1.6 0 1 0 3.2 0a1.6 1.6 0 1 0 -3.2 0M121.8 34.0a1.6 1.6 0 1 0 3.2 0a1.6 1.6 0 1 0 -3.2 0M95.6 50.8a1.6 1.6 0 1 0 3.2 0a1.6 1.6 0 1 0 -3.2 0M102.2 46.4a1.6 1.6 0 1 0 3.2 0a1.6 1.6 0 1 0 -3.2 0" fill="#e8283e"/>
<path d="M171.1 56.2a1.6 1.6 0 1 0 3.2 0a1.6 1.6 0 1 0 -3.2 0M146.4 32.8a1.6 1.6 0 1 0 3.2 0a1.6 1.6 0 1 0 -3.2 0M142.1 26.7a1.6 1.6 0 1 0 3.2 0a1.6 1.6 0 1 0 -3.2 0M170.6 54.6a1.6 1.6 0 1 0 3.2 0a1.6 1.6 0 1 0 -3.2 0M174.8 64.7a1.6 1.6 0 1 0 3.2 0a1.6 1.6 0 1 0 -3.2 0M138.1 37.6a1.6 1.6 0 1 0 3.2 0a1.6 1.6 0 1 0 -3.2 0M134.8 26.7a1.6 1.6 0 1 0 3.2 0a1.6 1.6 0 1 0 -3.2 0M151.9 33.0a1.6 1.6 0 1 0 3.2 0a1.6 1.6 0 1 0 -3.2 0M171.6 60.9a1.6 1.6 0 1 0 3.2 0a1.6 1.6 0 1 0 -3.2 0M155.6 42.7a1.6 1.6 0 1 0 3.2 0a1.6 1.6 0 1 0 -3.2 0M158.0 39.6a1.6 1.6 0 1 0 3.2 0a1.6 1.6 0 1 0 -3.2 0M140.0 28.6a1.6 1.6 0 1 0 3.2 0a1.6 1.6 0 1 0 -3.2 0M178.0 63.2a1.6 1.6 0 1 0 3.2 0a1.6 1.6 0 1 0 -3.2 0M163.5 50.6a1.6 1.6 0 1 0 3.2 0a1.6 1.6 0 1 0 -3.2 0M162.1 37.6a1.6 1.6 0 1 0 3.2 0a1.6 1.6 0 1 0 -3.2 0M163.7 43.8a1.6 1.6 0 1 0 3.2 0a1.6 1.6 0 1 0 -3.2 0M158.1 41.6a1.6 1.6 0 1 0 3.2 0a1.6 1.6 0 1 0 -3.2 0M136.0 32.6a1.6 1.6 0 1 0 3.2 0a1.6 1.6 0 1 0 -3.2 0M142.8 29.0a1.6 1.6 0 1 0 3.2 0a1.6 1.6 0 1 0 -3.2 0M156.4 35.6a1.6 1.6 0 1 0 3.2 0a1.6 1.6 0 1 0 -3.2 0M150.4 28.1a1.6 1.6 0 1 0 3.2 0a1.6 1.6 0 1 0 -3.2 0M149.6 32.2a1.6 1.6 0 1 0 3.2 0a1.6 1.6 0 1 0 -3.2 0M140.8 37.6a1.6 1.6 0 1 0 3.2 0a1.6 1.6 0 1 0 -3.2 0M165.1 42.9a1.6 1.6 0 1 0 3.2 0a1.6 1.6 0 1 0 -3.2 0M175.4 61.6a1.6 1.6 0 1 0 3.2 0a1.6 1.6 0 1 0 -3.2 0M171.5 49.4a1.6 1.6 0 1 0 3.2 0a1.6 1.6 0 1 0 -3.2 0M147.2 31.3a1.6 1.6 0 1 0 3.2 0a1.6 1.6 0 1 0 -3.2 0M163.7 41.5a1.6 1.6 0 1 0 3.2 0a1.6 1.6 0 1 0 -3.2 0M153.7 31.6a1.6 1.6 0 1 0 3.2 0a1.6 1.6 0 1 0 -3.2 0M149.4 39.9a1.6 1.6 0 1 0 3.2 0a1.6 1.6 0 1 0 -3.2 0M132.6 31.1a1.6 1.6 0 1 0 3.2 0a1.6 1.6 0 1 0 -3.2 0M173.1 57.5a1.6 1.6 0 1 0 3.2 0a1.6 1.6 0 1 0 -3.2 0M161.4 51.7a1.6 1.6 0 1 0 3.2 0a1.6 1.6 0 1 0 -3.2 0M148.2 36.8a1.6 1.6 0 1 0 3.2 0a1.6 1.6 0 1 0 -3.2 0M166.6 46.4a1.6 1.6 0 1 0 3.2 0a1.6 1.6 0 1 0 -3.2 0M161.5 39.7a1.6 1.6 0 1 0 3.2 0a1.6 1.6 0 1 0 -3.2 0M154.0 40.4a1.6 1.6 0 1 0 3.2 0a1.6 1.6 0 1 0 -3.2 0M142.3 34.9a1.6 1.6 0 1 0 3.2 0a1.6 1.6 0 1 0 -3.2 0M152.6 43.7a1.6 1.6 0 1 0 3.2 0a1.6 1.6 0 1 0 -3.2 0M158.3 37.7a1.6 1.6 0 1 0 3.2 0a1.6 1.6 0 1 0 -3.2 0M138.7 27.8a1.6 1.6 0 1 0 3.2 0a1.6 1.6 0 1 0 -3.2 0M145.2 38.0a1.6 1.6 0 1 0 3.2 0a1.6 1.6 0 1 0 -3.2 0M166.0 48.2a1.6 1.6 0 1 0 3.2 0a1.6 1.6 0 1 0 -3.2 0M134.3 32.5a1.6 1.6 0 1 0 3.2 0a1.6 1.6 0 1 0 -3.2 0M173.3 51.9a1.6 1.6 0 1 0 3.2 0a1.6 1.6 0 1 0 -3.2 0M162.2 42.0a1.6 1.6 0 1 0 3.2 0a1.6 1.6 0 1 0 -3.2 0M163.7 39.2a1.6 1.6 0 1 0 3.2 0a1.6 1.6 0 1 0 -3.2 0M159.7 35.8a1.6 1.6 0 1 0 3.2 0a1.6 1.6 0 1 0 -3.2 0M146.5 28.9a1.6 1.6 0 1 0 3.2 0a1.6 1.6 0 1 0 -3.2 0M138.1 31.0a1.6 1.6 0 1 0 3.2 0a1.6 1.6 0 1 0 -3.2 0" fill="#a0101c"/>
<path d="M171.4 64.8a1.6 1.6 0 1 0 3.2 0a1.6 1.6 0 1 0 -3.2 0M172.8 67.8a1.6 1.6 0 1 0 3.2 0a1.6 1.6 0 1 0 -3.2 0M164.6 69.3a1.6 1.6 0 1 0 3.2 0a1.6 1.6 0 1 0 -3.2 0M166.4 67.0a1.6 1.6 0 1 0 3.2 0a1.6 1.6 0 1 0 -3.2 0M170.6 66.3a1.6 1.6 0 1 0 3.2 0a1.6 1.6 0 1 0 -3.2 0M169.7 70.9a1.6 1.6 0 1 0 3.2 0a1.6 1.6 0 1 0 -3.2 0M162.0 66.5a1.6 1.6 0 1 0 3.2 0a1.6 1.6 0 1 0 -3.2 0M162.7 69.9a1.6 1.6 0 1 0 3.2 0a1.6 1.6 0 1 0 -3.2 0M150.2 68.5a1.6 1.6 0 1 0 3.2 0a1.6 1.6 0 1 0 -3.2 0M165.1 65.6a1.6 1.6 0 1 0 3.2 0a1.6 1.6 0 1 0 -3.2 0M176.6 67.3a1.6 1.6 0 1 0 3.2 0a1.6 1.6 0 1 0 -3.2 0M152.9 65.6a1.6 1.6 0 1 0 3.2 0a1.6 1.6 0 1 0 -3.2 0M170.5 72.3a1.6 1.6 0 1 0 3.2 0a1.6 1.6 0 1 0 -3.2 0M177.9 68.5a1.6 1.6 0 1 0 3.2 0a1.6 1.6 0 1 0 -3.2 0M158.1 72.1a1.6 1.6 0 1 0 3.2 0a1.6 1.6 0 1 0 -3.2 0M151.6 70.6a1.6 1.6 0 1 0 3.2 0a1.6 1.6 0 1 0 -3.2 0M160.5 71.8a1.6 1.6 0 1 0 3.2 0a1.6 1.6 0 1 0 -3.2 0M176.7 69.6a1.6 1.6 0 1 0 3.2 0a1.6 1.6 0 1 0 -3.2 0M155.1 66.3a1.6 1.6 0 1 0 3.2 0a1.6 1.6 0 1 0 -3.2 0M156.3 67.9a1.6 1.6 0 1 0 3.2 0a1.6 1.6 0 1 0 -3.2 0M171.2 69.8a1.6 1.6 0 1 0 3.2 0a1.6 1.6 0 1 0 -3.2 0M154.9 69.1a1.6 1.6 0 1 0 3.2 0a1.6 1.6 0 1 0 -3.2 0M153.1 71.8a1.6 1.6 0 1 0 3.2 0a1.6 1.6 0 1 0 -3.2 0M174.5 66.4a1.6 1.6 0 1 0 3.2 0a1.6 1.6 0 1 0 -3.2 0M163.0 72.0a1.6 1.6 0 1 0 3.2 0a1.6 1.6 0 1 0 -3.2 0M153.2 70.1a1.6 1.6 0 1 0 3.2 0a1.6 1.6 0 1 0 -3.2 0M165.8 71.9a1.6 1.6 0 1 0 3.2 0a1.6 1.6 0 1 0 -3.2 0M154.7 72.0a1.6 1.6 0 1 0 3.2 0a1.6 1.6 0 1 0 -3.2 0M159.2 71.0a1.6 1.6 0 1 0 3.2 0a1.6 1.6 0 1 0 -3.2 0M151.7 72.8a1.6 1.6 0 1 0 3.2 0a1.6 1.6 0 1 0 -3.2 0M151.3 65.5a1.6 1.6 0 1 0 3.2 0a1.6 1.6 0 1 0 -3.2 0M168.9 64.8a1.6 1.6 0 1 0 3.2 0a1.6 1.6 0 1 0 -3.2 0M163.5 66.1a1.6 1.6 0 1 0 3.2 0a1.6 1.6 0 1 0 -3.2 0" fill="#22dcf2"/>
<path d="M160.9 85.2a1.6 1.6 0 1 0 3.2 0a1.6 1.6 0 1 0 -3.2 0M145.1 98.4a1.6 1.6 0 1 0 3.2 0a1.6 1.6 0 1 0 -3.2 0M173.8 77.4a1.6 1.6 0 1 0 3.2 0a1.6 1.6 0 1 0 -3.2 0M147.9 93.0a1.6 1.6 0 1 0 3.2 0a1.6 1.6 0 1 0 -3.2 0M167.2 87.7a1.6 1.6 0 1 0 3.2 0a1.6 1.6 0 1 0 -3.2 0M148.1 100.7a1.6 1.6 0 1 0 3.2 0a1.6 1.6 0 1 0 -3.2 0M167.7 80.8a1.6 1.6 0 1 0 3.2 0a1.6 1.6 0 1 0 -3.2 0M156.7 86.8a1.6 1.6 0 1 0 3.2 0a1.6 1.6 0 1 0 -3.2 0M162.1 80.1a1.6 1.6 0 1 0 3.2 0a1.6 1.6 0 1 0 -3.2 0M156.1 88.1a1.6 1.6 0 1 0 3.2 0a1.6 1.6 0 1 0 -3.2 0M146.6 102.7a1.6 1.6 0 1 0 3.2 0a1.6 1.6 0 1 0 -3.2 0M146.2 100.1a1.6 1.6 0 1 0 3.2 0a1.6 1.6 0 1 0 -3.2 0M163.7 84.8a1.6 1.6 0 1 0 3.2 0a1.6 1.6 0 1 0 -3.2 0M143.9 92.3a1.6 1.6 0 1 0 3.2 0a1.6 1.6 0 1 0 -3.2 0M151.0 91.7a1.6 1.6 0 1 0 3.2 0a1.6 1.6 0 1 0 -3.2 0M149.5 99.8a1.6 1.6 0 1 0 3.2 0a1.6 1.6 0 1 0 -3.2 0M147.8 98.7a1.6 1.6 0 1 0 3.2 0a1.6 1.6 0 1 0 -3.2 0M152.2 88.7a1.6 1.6 0 1 0 3.2 0a1.6 1.6 0 1 0 -3.2 0M166.4 84.0a1.6 1.6 0 1 0 3.2 0a1.6 1.6 0 1 0 -3.2 0M170.2 81.8a1.6 1.6 0 1 0 3.2 0a1.6 1.6 0 1 0 -3.2 0M169.1 76.3a1.6 1.6 0 1 0 3.2 0a1.6 1.6 0 1 0 -3.2 0M146.9 95.2a1.6 1.6 0 1 0 3.2 0a1.6 1.6 0 1 0 -3.2 0M161.3 82.3a1.6 1.6 0 1 0 3.2 0a1.6 1.6 0 1 0 -3.2 0M148.3 96.3a1.6 1.6 0 1 0 3.2 0a1.6 1.6 0 1 0 -3.2 0M157.4 85.5a1.6 1.6 0 1 0 3.2 0a1.6 1.6 0 1 0 -3.2 0M149.1 91.7a1.6 1.6 0 1 0 3.2 0a1.6 1.6 0 1 0 -3.2 0M168.6 72.1a1.6 1.6 0 1 0 3.2 0a1.6 1.6 0 1 0 -3.2 0M173.1 82.2a1.6 1.6 0 1 0 3.2 0a1.6 1.6 0 1 0 -3.2 0M175.3 73.8a1.6 1.6 0 1 0 3.2 0a1.6 1.6 0 1 0 -3.2 0M165.7 86.9a1.6 1.6 0 1 0 3.2 0a1.6 1.6 0 1 0 -3.2 0M161.6 89.2a1.6 1.6 0 1 0 3.2 0a1.6 1.6 0 1 0 -3.2 0M143.4 99.7a1.6 1.6 0 1 0 3.2 0a1.6 1.6 0 1 0 -3.2 0M155.9 85.2a1.6 1.6 0 1 0 3.2 0a1.6 1.6 0 1 0 -3.2 0M146.4 93.1a1.6 1.6 0 1 0 3.2 0a1.6 1.6 0 1 0 -3.2 0M145.1 95.0a1.6 1.6 0 1 0 3.2 0a1.6 1.6 0 1 0 -3.2 0M163.5 92.0a1.6 1.6 0 1 0 3.2 0a1.6 1.6 0 1 0 -3.2 0M175.8 80.0a1.6 1.6 0 1 0 3.2 0a1.6 1.6 0 1 0 -3.2 0M173.5 70.4a1.6 1.6 0 1 0 3.2 0a1.6 1.6 0 1 0 -3.2 0M167.8 78.5a1.6 1.6 0 1 0 3.2 0a1.6 1.6 0 1 0 -3.2 0M142.3 92.2a1.6 1.6 0 1 0 3.2 0a1.6 1.6 0 1 0 -3.2 0M165.5 82.5a1.6 1.6 0 1 0 3.2 0a1.6 1.6 0 1 0 -3.2 0M158.7 83.5a1.6 1.6 0 1 0 3.2 0a1.6 1.6 0 1 0 -3.2 0M142.5 96.5a1.6 1.6 0 1 0 3.2 0a1.6 1.6 0 1 0 -3.2 0M153.4 82.5a1.6 1.6 0 1 0 3.2 0a1.6 1.6 0 1 0 -3.2 0" fill="#1fb8ec"/>
<path d="M145.6 82.3a1.6 1.6 0 1 0 3.2 0a1.6 1.6 0 1 0 -3.2 0M145.4 71.8a1.6 1.6 0 1 0 3.2 0a1.6 1.6 0 1 0 -3.2 0M144.8 85.0a1.6 1.6 0 1 0 3.2 0a1.6 1.6 0 1 0 -3.2 0M147.6 81.4a1.6 1.6 0 1 0 3.2 0a1.6 1.6 0 1 0 -3.2 0M144.2 74.6a1.6 1.6 0 1 0 3.2 0a1.6 1.6 0 1 0 -3.2 0M142.7 83.7a1.6 1.6 0 1 0 3.2 0a1.6 1.6 0 1 0 -3.2 0M152.0 72.8a1.6 1.6 0 1 0 3.2 0a1.6 1.6 0 1 0 -3.2 0M147.7 72.1a1.6 1.6 0 1 0 3.2 0a1.6 1.6 0 1 0 -3.2 0M139.4 83.6a1.6 1.6 0 1 0 3.2 0a1.6 1.6 0 1 0 -3.2 0M147.6 76.0a1.6 1.6 0 1 0 3.2 0a1.6 1.6 0 1 0 -3.2 0M142.4 85.7a1.6 1.6 0 1 0 3.2 0a1.6 1.6 0 1 0 -3.2 0M143.7 69.0a1.6 1.6 0 1 0 3.2 0a1.6 1.6 0 1 0 -3.2 0M144.5 76.1a1.6 1.6 0 1 0 3.2 0a1.6 1.6 0 1 0 -3.2 0M146.2 79.0a1.6 1.6 0 1 0 3.2 0a1.6 1.6 0 1 0 -3.2 0M147.5 74.4a1.6 1.6 0 1 0 3.2 0a1.6 1.6 0 1 0 -3.2 0M146.3 80.4a1.6 1.6 0 1 0 3.2 0a1.6 1.6 0 1 0 -3.2 0M149.9 77.6a1.6 1.6 0 1 0 3.2 0a1.6 1.6 0 1 0 -3.2 0M145.3 86.4a1.6 1.6 0 1 0 3.2 0a1.6 1.6 0 1 0 -3.2 0" fill="#1fb8ec"/>
<path d="M152.5 79.4a1.6 1.6 0 1 0 3.2 0a1.6 1.6 0 1 0 -3.2 0M160.0 74.5a1.6 1.6 0 1 0 3.2 0a1.6 1.6 0 1 0 -3.2 0M160.0 79.6a1.6 1.6 0 1 0 3.2 0a1.6 1.6 0 1 0 -3.2 0M157.0 75.6a1.6 1.6 0 1 0 3.2 0a1.6 1.6 0 1 0 -3.2 0M152.7 76.1a1.6 1.6 0 1 0 3.2 0a1.6 1.6 0 1 0 -3.2 0M166.4 73.2a1.6 1.6 0 1 0 3.2 0a1.6 1.6 0 1 0 -3.2 0M162.8 76.0a1.6 1.6 0 1 0 3.2 0a1.6 1.6 0 1 0 -3.2 0M163.9 75.0a1.6 1.6 0 1 0 3.2 0a1.6 1.6 0 1 0 -3.2 0M155.2 73.4a1.6 1.6 0 1 0 3.2 0a1.6 1.6 0 1 0 -3.2 0M157.5 79.7a1.6 1.6 0 1 0 3.2 0a1.6 1.6 0 1 0 -3.2 0" fill="#1fb8ec"/>
<path d="M169.2 61.8a1.6 1.6 0 1 0 3.2 0a1.6 1.6 0 1 0 -3.2 0M170.5 62.0a1.6 1.6 0 1 0 3.2 0a1.6 1.6 0 1 0 -3.2 0M175.5 63.1a1.6 1.6 0 1 0 3.2 0a1.6 1.6 0 1 0 -3.2 0M169.0 58.5a1.6 1.6 0 1 0 3.2 0a1.6 1.6 0 1 0 -3.2 0M174.6 64.1a1.6 1.6 0 1 0 3.2 0a1.6 1.6 0 1 0 -3.2 0M171.5 64.1a1.6 1.6 0 1 0 3.2 0a1.6 1.6 0 1 0 -3.2 0M172.6 65.2a1.6 1.6 0 1 0 3.2 0a1.6 1.6 0 1 0 -3.2 0M172.1 60.1a1.6 1.6 0 1 0 3.2 0a1.6 1.6 0 1 0 -3.2 0M169.8 59.4a1.6 1.6 0 1 0 3.2 0a1.6 1.6 0 1 0 -3.2 0M175.5 60.8a1.6 1.6 0 1 0 3.2 0a1.6 1.6 0 1 0 -3.2 0M172.9 63.8a1.6 1.6 0 1 0 3.2 0a1.6 1.6 0 1 0 -3.2 0" fill="#a0101c"/>
<path d="M196.1 97.6a1.6 1.6 0 1 0 3.2 0a1.6 1.6 0 1 0 -3.2 0M180.5 71.5a1.6 1.6 0 1 0 3.2 0a1.6 1.6 0 1 0 -3.2 0M192.4 91.1a1.6 1.6 0 1 0 3.2 0a1.6 1.6 0 1 0 -3.2 0M198.3 100.1a1.6 1.6 0 1 0 3.2 0a1.6 1.6 0 1 0 -3.2 0M197.4 99.1a1.6 1.6 0 1 0 3.2 0a1.6 1.6 0 1 0 -3.2 0M194.1 94.3a1.6 1.6 0 1 0 3.2 0a1.6 1.6 0 1 0 -3.2 0M200.1 99.4a1.6 1.6 0 1 0 3.2 0a1.6 1.6 0 1 0 -3.2 0M192.6 95.7a1.6 1.6 0 1 0 3.2 0a1.6 1.6 0 1 0 -3.2 0M181.2 73.7a1.6 1.6 0 1 0 3.2 0a1.6 1.6 0 1 0 -3.2 0M183.2 78.9a1.6 1.6 0 1 0 3.2 0a1.6 1.6 0 1 0 -3.2 0M196.6 93.7a1.6 1.6 0 1 0 3.2 0a1.6 1.6 0 1 0 -3.2 0M189.8 88.1a1.6 1.6 0 1 0 3.2 0a1.6 1.6 0 1 0 -3.2 0M195.8 93.1a1.6 1.6 0 1 0 3.2 0a1.6 1.6 0 1 0 -3.2 0M175.3 65.7a1.6 1.6 0 1 0 3.2 0a1.6 1.6 0 1 0 -3.2 0M185.3 82.4a1.6 1.6 0 1 0 3.2 0a1.6 1.6 0 1 0 -3.2 0M182.3 78.2a1.6 1.6 0 1 0 3.2 0a1.6 1.6 0 1 0 -3.2 0M190.4 89.1a1.6 1.6 0 1 0 3.2 0a1.6 1.6 0 1 0 -3.2 0M195.4 95.0a1.6 1.6 0 1 0 3.2 0a1.6 1.6 0 1 0 -3.2 0M200.7 98.1a1.6 1.6 0 1 0 3.2 0a1.6 1.6 0 1 0 -3.2 0M177.8 71.8a1.6 1.6 0 1 0 3.2 0a1.6 1.6 0 1 0 -3.2 0M184.9 77.9a1.6 1.6 0 1 0 3.2 0a1.6 1.6 0 1 0 -3.2 0M196.7 96.7a1.6 1.6 0 1 0 3.2 0a1.6 1.6 0 1 0 -3.2 0M192.5 89.1a1.6 1.6 0 1 0 3.2 0a1.6 1.6 0 1 0 -3.2 0M184.8 81.2a1.6 1.6 0 1 0 3.2 0a1.6 1.6 0 1 0 -3.2 0M197.9 97.4a1.6 1.6 0 1 0 3.2 0a1.6 1.6 0 1 0 -3.2 0M177.5 65.6a1.6 1.6 0 1 0 3.2 0a1.6 1.6 0 1 0 -3.2 0M176.3 66.9a1.6 1.6 0 1 0 3.2 0a1.6 1.6 0 1 0 -3.2 0M191.7 88.0a1.6 1.6 0 1 0 3.2 0a1.6 1.6 0 1 0 -3.2 0M191.9 90.2a1.6 1.6 0 1 0 3.2 0a1.6 1.6 0 1 0 -3.2 0M187.1 86.3a1.6 1.6 0 1 0 3.2 0a1.6 1.6 0 1 0 -3.2 0M187.3 83.8a1.6 1.6 0 1 0 3.2 0a1.6 1.6 0 1 0 -3.2 0M192.9 92.5a1.6 1.6 0 1 0 3.2 0a1.6 1.6 0 1 0 -3.2 0M185.6 78.8a1.6 1.6 0 1 0 3.2 0a1.6 1.6 0 1 0 -3.2 0M182.0 71.4a1.6 1.6 0 1 0 3.2 0a1.6 1.6 0 1 0 -3.2 0M187.3 78.2a1.6 1.6 0 1 0 3.2 0a1.6 1.6 0 1 0 -3.2 0M195.4 98.5a1.6 1.6 0 1 0 3.2 0a1.6 1.6 0 1 0 -3.2 0M182.4 74.8a1.6 1.6 0 1 0 3.2 0a1.6 1.6 0 1 0 -3.2 0M192.4 93.5a1.6 1.6 0 1 0 3.2 0a1.6 1.6 0 1 0 -3.2 0M189.1 89.0a1.6 1.6 0 1 0 3.2 0a1.6 1.6 0 1 0 -3.2 0M185.3 76.4a1.6 1.6 0 1 0 3.2 0a1.6 1.6 0 1 0 -3.2 0M195.0 96.6a1.6 1.6 0 1 0 3.2 0a1.6 1.6 0 1 0 -3.2 0M183.6 80.2a1.6 1.6 0 1 0 3.2 0a1.6 1.6 0 1 0 -3.2 0M178.8 68.7a1.6 1.6 0 1 0 3.2 0a1.6 1.6 0 1 0 -3.2 0M190.9 86.7a1.6 1.6 0 1 0 3.2 0a1.6 1.6 0 1 0 -3.2 0M188.7 87.3a1.6 1.6 0 1 0 3.2 0a1.6 1.6 0 1 0 -3.2 0M183.1 77.3a1.6 1.6 0 1 0 3.2 0a1.6 1.6 0 1 0 -3.2 0M178.6 72.9a1.6 1.6 0 1 0 3.2 0a1.6 1.6 0 1 0 -3.2 0M194.6 93.3a1.6 1.6 0 1 0 3.2 0a1.6 1.6 0 1 0 -3.2 0M177.3 74.9a1.6 1.6 0 1 0 3.2 0a1.6 1.6 0 1 0 -3.2 0M186.4 82.4a1.6 1.6 0 1 0 3.2 0a1.6 1.6 0 1 0 -3.2 0M187.1 81.1a1.6 1.6 0 1 0 3.2 0a1.6 1.6 0 1 0 -3.2 0M196.5 90.1a1.6 1.6 0 1 0 3.2 0a1.6 1.6 0 1 0 -3.2 0M182.2 73.1a1.6 1.6 0 1 0 3.2 0a1.6 1.6 0 1 0 -3.2 0M185.0 75.0a1.6 1.6 0 1 0 3.2 0a1.6 1.6 0 1 0 -3.2 0M178.4 69.8a1.6 1.6 0 1 0 3.2 0a1.6 1.6 0 1 0 -3.2 0M184.4 83.6a1.6 1.6 0 1 0 3.2 0a1.6 1.6 0 1 0 -3.2 0M189.1 85.2a1.6 1.6 0 1 0 3.2 0a1.6 1.6 0 1 0 -3.2 0" fill="#fbee14"/>
<path d="M169.7 139.4a1.6 1.6 0 1 0 3.2 0a1.6 1.6 0 1 0 -3.2 0M170.6 144.9a1.6 1.6 0 1 0 3.2 0a1.6 1.6 0 1 0 -3.2 0M170.9 136.8a1.6 1.6 0 1 0 3.2 0a1.6 1.6 0 1 0 -3.2 0M188.3 109.5a1.6 1.6 0 1 0 3.2 0a1.6 1.6 0 1 0 -3.2 0M174.2 135.6a1.6 1.6 0 1 0 3.2 0a1.6 1.6 0 1 0 -3.2 0M171.5 140.2a1.6 1.6 0 1 0 3.2 0a1.6 1.6 0 1 0 -3.2 0M168.5 138.7a1.6 1.6 0 1 0 3.2 0a1.6 1.6 0 1 0 -3.2 0M188.1 108.0a1.6 1.6 0 1 0 3.2 0a1.6 1.6 0 1 0 -3.2 0M181.3 127.5a1.6 1.6 0 1 0 3.2 0a1.6 1.6 0 1 0 -3.2 0M186.2 121.0a1.6 1.6 0 1 0 3.2 0a1.6 1.6 0 1 0 -3.2 0M188.7 100.7a1.6 1.6 0 1 0 3.2 0a1.6 1.6 0 1 0 -3.2 0M180.2 130.2a1.6 1.6 0 1 0 3.2 0a1.6 1.6 0 1 0 -3.2 0M184.0 105.4a1.6 1.6 0 1 0 3.2 0a1.6 1.6 0 1 0 -3.2 0M167.5 144.7a1.6 1.6 0 1 0 3.2 0a1.6 1.6 0 1 0 -3.2 0M172.8 135.0a1.6 1.6 0 1 0 3.2 0a1.6 1.6 0 1 0 -3.2 0M186.0 99.3a1.6 1.6 0 1 0 3.2 0a1.6 1.6 0 1 0 -3.2 0M170.5 142.5a1.6 1.6 0 1 0 3.2 0a1.6 1.6 0 1 0 -3.2 0M187.2 102.4a1.6 1.6 0 1 0 3.2 0a1.6 1.6 0 1 0 -3.2 0M186.1 106.9a1.6 1.6 0 1 0 3.2 0a1.6 1.6 0 1 0 -3.2 0M175.6 134.9a1.6 1.6 0 1 0 3.2 0a1.6 1.6 0 1 0 -3.2 0M185.4 97.2a1.6 1.6 0 1 0 3.2 0a1.6 1.6 0 1 0 -3.2 0M184.9 100.8a1.6 1.6 0 1 0 3.2 0a1.6 1.6 0 1 0 -3.2 0M185.0 108.6a1.6 1.6 0 1 0 3.2 0a1.6 1.6 0 1 0 -3.2 0M169.3 145.7a1.6 1.6 0 1 0 3.2 0a1.6 1.6 0 1 0 -3.2 0M186.6 117.3a1.6 1.6 0 1 0 3.2 0a1.6 1.6 0 1 0 -3.2 0M166.5 142.8a1.6 1.6 0 1 0 3.2 0a1.6 1.6 0 1 0 -3.2 0M177.0 128.7a1.6 1.6 0 1 0 3.2 0a1.6 1.6 0 1 0 -3.2 0M175.8 140.0a1.6 1.6 0 1 0 3.2 0a1.6 1.6 0 1 0 -3.2 0M176.9 130.8a1.6 1.6 0 1 0 3.2 0a1.6 1.6 0 1 0 -3.2 0M169.0 143.3a1.6 1.6 0 1 0 3.2 0a1.6 1.6 0 1 0 -3.2 0M184.6 120.4a1.6 1.6 0 1 0 3.2 0a1.6 1.6 0 1 0 -3.2 0M187.1 112.5a1.6 1.6 0 1 0 3.2 0a1.6 1.6 0 1 0 -3.2 0M188.0 98.5a1.6 1.6 0 1 0 3.2 0a1.6 1.6 0 1 0 -3.2 0M189.2 111.4a1.6 1.6 0 1 0 3.2 0a1.6 1.6 0 1 0 -3.2 0M184.6 114.3a1.6 1.6 0 1 0 3.2 0a1.6 1.6 0 1 0 -3.2 0M177.8 132.5a1.6 1.6 0 1 0 3.2 0a1.6 1.6 0 1 0 -3.2 0M182.9 120.3a1.6 1.6 0 1 0 3.2 0a1.6 1.6 0 1 0 -3.2 0M172.1 144.3a1.6 1.6 0 1 0 3.2 0a1.6 1.6 0 1 0 -3.2 0M178.8 131.4a1.6 1.6 0 1 0 3.2 0a1.6 1.6 0 1 0 -3.2 0M182.6 105.4a1.6 1.6 0 1 0 3.2 0a1.6 1.6 0 1 0 -3.2 0M181.0 116.5a1.6 1.6 0 1 0 3.2 0a1.6 1.6 0 1 0 -3.2 0M185.7 104.1a1.6 1.6 0 1 0 3.2 0a1.6 1.6 0 1 0 -3.2 0M189.4 113.4a1.6 1.6 0 1 0 3.2 0a1.6 1.6 0 1 0 -3.2 0M182.7 132.8a1.6 1.6 0 1 0 3.2 0a1.6 1.6 0 1 0 -3.2 0M182.7 114.0a1.6 1.6 0 1 0 3.2 0a1.6 1.6 0 1 0 -3.2 0M190.3 98.3a1.6 1.6 0 1 0 3.2 0a1.6 1.6 0 1 0 -3.2 0M184.0 123.0a1.6 1.6 0 1 0 3.2 0a1.6 1.6 0 1 0 -3.2 0M188.2 117.8a1.6 1.6 0 1 0 3.2 0a1.6 1.6 0 1 0 -3.2 0M180.3 131.8a1.6 1.6 0 1 0 3.2 0a1.6 1.6 0 1 0 -3.2 0M173.3 137.0a1.6 1.6 0 1 0 3.2 0a1.6 1.6 0 1 0 -3.2 0M183.2 129.1a1.6 1.6 0 1 0 3.2 0a1.6 1.6 0 1 0 -3.2 0M173.8 139.8a1.6 1.6 0 1 0 3.2 0a1.6 1.6 0 1 0 -3.2 0M172.5 141.5a1.6 1.6 0 1 0 3.2 0a1.6 1.6 0 1 0 -3.2 0M184.9 111.8a1.6 1.6 0 1 0 3.2 0a1.6 1.6 0 1 0 -3.2 0" fill="#4cc81e"/>
<path d="M129.9 171.3a1.6 1.6 0 1 0 3.2 0a1.6 1.6 0 1 0 -3.2 0M111.4 173.2a1.6 1.6 0 1 0 3.2 0a1.6 1.6 0 1 0 -3.2 0M134.0 165.2a1.6 1.6 0 1 0 3.2 0a1.6 1.6 0 1 0 -3.2 0M136.2 172.3a1.6 1.6 0 1 0 3.2 0a1.6 1.6 0 1 0 -3.2 0M134.9 156.4a1.6 1.6 0 1 0 3.2 0a1.6 1.6 0 1 0 -3.2 0M117.9 163.9a1.6 1.6 0 1 0 3.2 0a1.6 1.6 0 1 0 -3.2 0M147.7 157.2a1.6 1.6 0 1 0 3.2 0a1.6 1.6 0 1 0 -3.2 0M145.3 158.0a1.6 1.6 0 1 0 3.2 0a1.6 1.6 0 1 0 -3.2 0M138.5 161.8a1.6 1.6 0 1 0 3.2 0a1.6 1.6 0 1 0 -3.2 0M135.6 174.0a1.6 1.6 0 1 0 3.2 0a1.6 1.6 0 1 0 -3.2 0M125.1 163.6a1.6 1.6 0 1 0 3.2 0a1.6 1.6 0 1 0 -3.2 0M111.6 168.5a1.6 1.6 0 1 0 3.2 0a1.6 1.6 0 1 0 -3.2 0M123.0 172.1a1.6 1.6 0 1 0 3.2 0a1.6 1.6 0 1 0 -3.2 0M134.7 170.0a1.6 1.6 0 1 0 3.2 0a1.6 1.6 0 1 0 -3.2 0M116.4 174.0a1.6 1.6 0 1 0 3.2 0a1.6 1.6 0 1 0 -3.2 0M142.1 169.0a1.6 1.6 0 1 0 3.2 0a1.6 1.6 0 1 0 -3.2 0M132.5 156.9a1.6 1.6 0 1 0 3.2 0a1.6 1.6 0 1 0 -3.2 0M138.2 159.2a1.6 1.6 0 1 0 3.2 0a1.6 1.6 0 1 0 -3.2 0M115.5 171.9a1.6 1.6 0 1 0 3.2 0a1.6 1.6 0 1 0 -3.2 0M119.3 172.3a1.6 1.6 0 1 0 3.2 0a1.6 1.6 0 1 0 -3.2 0M113.1 179.0a1.6 1.6 0 1 0 3.2 0a1.6 1.6 0 1 0 -3.2 0M122.1 166.7a1.6 1.6 0 1 0 3.2 0a1.6 1.6 0 1 0 -3.2 0M121.5 163.5a1.6 1.6 0 1 0 3.2 0a1.6 1.6 0 1 0 -3.2 0M128.0 158.8a1.6 1.6 0 1 0 3.2 0a1.6 1.6 0 1 0 -3.2 0M134.0 171.9a1.6 1.6 0 1 0 3.2 0a1.6 1.6 0 1 0 -3.2 0M119.2 174.8a1.6 1.6 0 1 0 3.2 0a1.6 1.6 0 1 0 -3.2 0M136.8 162.6a1.6 1.6 0 1 0 3.2 0a1.6 1.6 0 1 0 -3.2 0M135.6 168.0a1.6 1.6 0 1 0 3.2 0a1.6 1.6 0 1 0 -3.2 0M134.4 158.2a1.6 1.6 0 1 0 3.2 0a1.6 1.6 0 1 0 -3.2 0M130.3 172.7a1.6 1.6 0 1 0 3.2 0a1.6 1.6 0 1 0 -3.2 0M109.7 172.7a1.6 1.6 0 1 0 3.2 0a1.6 1.6 0 1 0 -3.2 0M141.0 160.3a1.6 1.6 0 1 0 3.2 0a1.6 1.6 0 1 0 -3.2 0M121.3 172.6a1.6 1.6 0 1 0 3.2 0a1.6 1.6 0 1 0 -3.2 0M113.3 166.2a1.6 1.6 0 1 0 3.2 0a1.6 1.6 0 1 0 -3.2 0M129.8 161.9a1.6 1.6 0 1 0 3.2 0a1.6 1.6 0 1 0 -3.2 0M137.8 166.9a1.6 1.6 0 1 0 3.2 0a1.6 1.6 0 1 0 -3.2 0M140.2 154.2a1.6 1.6 0 1 0 3.2 0a1.6 1.6 0 1 0 -3.2 0M135.8 157.7a1.6 1.6 0 1 0 3.2 0a1.6 1.6 0 1 0 -3.2 0M121.4 165.3a1.6 1.6 0 1 0 3.2 0a1.6 1.6 0 1 0 -3.2 0M123.6 164.4a1.6 1.6 0 1 0 3.2 0a1.6 1.6 0 1 0 -3.2 0M127.1 170.1a1.6 1.6 0 1 0 3.2 0a1.6 1.6 0 1 0 -3.2 0M133.8 160.0a1.6 1.6 0 1 0 3.2 0a1.6 1.6 0 1 0 -3.2 0M140.0 164.1a1.6 1.6 0 1 0 3.2 0a1.6 1.6 0 1 0 -3.2 0M115.1 167.0a1.6 1.6 0 1 0 3.2 0a1.6 1.6 0 1 0 -3.2 0M142.6 156.1a1.6 1.6 0 1 0 3.2 0a1.6 1.6 0 1 0 -3.2 0M125.9 161.1a1.6 1.6 0 1 0 3.2 0a1.6 1.6 0 1 0 -3.2 0M127.5 172.5a1.6 1.6 0 1 0 3.2 0a1.6 1.6 0 1 0 -3.2 0M138.5 154.9a1.6 1.6 0 1 0 3.2 0a1.6 1.6 0 1 0 -3.2 0M116.3 179.7a1.6 1.6 0 1 0 3.2 0a1.6 1.6 0 1 0 -3.2 0M112.8 175.4a1.6 1.6 0 1 0 3.2 0a1.6 1.6 0 1 0 -3.2 0M118.9 165.1a1.6 1.6 0 1 0 3.2 0a1.6 1.6 0 1 0 -3.2 0M143.4 160.6a1.6 1.6 0 1 0 3.2 0a1.6 1.6 0 1 0 -3.2 0M125.6 175.7a1.6 1.6 0 1 0 3.2 0a1.6 1.6 0 1 0 -3.2 0M143.8 168.2a1.6 1.6 0 1 0 3.2 0a1.6 1.6 0 1 0 -3.2 0M108.8 173.9a1.6 1.6 0 1 0 3.2 0a1.6 1.6 0 1 0 -3.2 0M147.4 160.8a1.6 1.6 0 1 0 3.2 0a1.6 1.6 0 1 0 -3.2 0M119.3 162.0a1.6 1.6 0 1 0 3.2 0a1.6 1.6 0 1 0 -3.2 0M123.8 161.6a1.6 1.6 0 1 0 3.2 0a1.6 1.6 0 1 0 -3.2 0M117.7 178.3a1.6 1.6 0 1 0 3.2 0a1.6 1.6 0 1 0 -3.2 0M125.2 170.1a1.6 1.6 0 1 0 3.2 0a1.6 1.6 0 1 0 -3.2 0M141.7 158.6a1.6 1.6 0 1 0 3.2 0a1.6 1.6 0 1 0 -3.2 0M135.3 162.4a1.6 1.6 0 1 0 3.2 0a1.6 1.6 0 1 0 -3.2 0M142.0 161.4a1.6 1.6 0 1 0 3.2 0a1.6 1.6 0 1 0 -3.2 0M144.4 155.2a1.6 1.6 0 1 0 3.2 0a1.6 1.6 0 1 0 -3.2 0M136.2 170.6a1.6 1.6 0 1 0 3.2 0a1.6 1.6 0 1 0 -3.2 0M110.4 177.1a1.6 1.6 0 1 0 3.2 0a1.6 1.6 0 1 0 -3.2 0M130.9 164.7a1.6 1.6 0 1 0 3.2 0a1.6 1.6 0 1 0 -3.2 0M122.3 174.5a1.6 1.6 0 1 0 3.2 0a1.6 1.6 0 1 0 -3.2 0M138.8 157.0a1.6 1.6 0 1 0 3.2 0a1.6 1.6 0 1 0 -3.2 0M127.3 163.1a1.6 1.6 0 1 0 3.2 0a1.6 1.6 0 1 0 -3.2 0M121.1 170.0a1.6 1.6 0 1 0 3.2 0a1.6 1.6 0 1 0 -3.2 0M145.1 165.1a1.6 1.6 0 1 0 3.2 0a1.6 1.6 0 1 0 -3.2 0M121.2 177.2a1.6 1.6 0 1 0 3.2 0a1.6 1.6 0 1 0 -3.2 0M129.7 165.5a1.6 1.6 0 1 0 3.2 0a1.6 1.6 0 1 0 -3.2 0M129.9 175.6a1.6 1.6 0 1 0 3.2 0a1.6 1.6 0 1 0 -3.2 0" fill="#b3f02c"/>
<path d="M158.9 153.6a1.6 1.6 0 1 0 3.2 0a1.6 1.6 0 1 0 -3.2 0M152.1 157.4a1.6 1.6 0 1 0 3.2 0a1.6 1.6 0 1 0 -3.2 0M154.6 153.8a1.6 1.6 0 1 0 3.2 0a1.6 1.6 0 1 0 -3.2 0M157.9 159.3a1.6 1.6 0 1 0 3.2 0a1.6 1.6 0 1 0 -3.2 0M151.8 153.0a1.6 1.6 0 1 0 3.2 0a1.6 1.6 0 1 0 -3.2 0M151.6 155.5a1.6 1.6 0 1 0 3.2 0a1.6 1.6 0 1 0 -3.2 0M155.4 156.7a1.6 1.6 0 1 0 3.2 0a1.6 1.6 0 1 0 -3.2 0M151.1 159.6a1.6 1.6 0 1 0 3.2 0a1.6 1.6 0 1 0 -3.2 0M158.9 151.8a1.6 1.6 0 1 0 3.2 0a1.6 1.6 0 1 0 -3.2 0M160.3 155.5a1.6 1.6 0 1 0 3.2 0a1.6 1.6 0 1 0 -3.2 0M153.7 159.2a1.6 1.6 0 1 0 3.2 0a1.6 1.6 0 1 0 -3.2 0M155.4 159.0a1.6 1.6 0 1 0 3.2 0a1.6 1.6 0 1 0 -3.2 0" fill="#b3f02c"/>
<path d="M168.7 138.2a1.6 1.6 0 1 0 3.2 0a1.6 1.6 0 1 0 -3.2 0M166.9 145.0a1.6 1.6 0 1 0 3.2 0a1.6 1.6 0 1 0 -3.2 0M164.8 140.1a1.6 1.6 0 1 0 3.2 0a1.6 1.6 0 1 0 -3.2 0M167.5 137.4a1.6 1.6 0 1 0 3.2 0a1.6 1.6 0 1 0 -3.2 0M170.7 147.2a1.6 1.6 0 1 0 3.2 0a1.6 1.6 0 1 0 -3.2 0M164.0 144.8a1.6 1.6 0 1 0 3.2 0a1.6 1.6 0 1 0 -3.2 0M164.9 148.6a1.6 1.6 0 1 0 3.2 0a1.6 1.6 0 1 0 -3.2 0M163.2 142.9a1.6 1.6 0 1 0 3.2 0a1.6 1.6 0 1 0 -3.2 0M169.4 140.5a1.6 1.6 0 1 0 3.2 0a1.6 1.6 0 1 0 -3.2 0M165.5 143.6a1.6 1.6 0 1 0 3.2 0a1.6 1.6 0 1 0 -3.2 0M167.5 139.0a1.6 1.6 0 1 0 3.2 0a1.6 1.6 0 1 0 -3.2 0M166.6 141.3a1.6 1.6 0 1 0 3.2 0a1.6 1.6 0 1 0 -3.2 0M170.4 141.9a1.6 1.6 0 1 0 3.2 0a1.6 1.6 0 1 0 -3.2 0M163.4 149.0a1.6 1.6 0 1 0 3.2 0a1.6 1.6 0 1 0 -3.2 0M168.8 136.1a1.6 1.6 0 1 0 3.2 0a1.6 1.6 0 1 0 -3.2 0M168.6 145.9a1.6 1.6 0 1 0 3.2 0a1.6 1.6 0 1 0 -3.2 0M163.3 141.5a1.6 1.6 0 1 0 3.2 0a1.6 1.6 0 1 0 -3.2 0M168.5 142.0a1.6 1.6 0 1 0 3.2 0a1.6 1.6 0 1 0 -3.2 0M167.6 143.4a1.6 1.6 0 1 0 3.2 0a1.6 1.6 0 1 0 -3.2 0M166.1 149.4a1.6 1.6 0 1 0 3.2 0a1.6 1.6 0 1 0 -3.2 0" fill="#b3f02c"/>
<path d="M140.4 134.0a1.6 1.6 0 1 0 3.2 0a1.6 1.6 0 1 0 -3.2 0" fill="#b3f02c"/>
<path d="M144.4 136.0a1.6 1.6 0 1 0 3.2 0a1.6 1.6 0 1 0 -3.2 0" fill="#b3f02c"/>
<path d="M146.4 138.0a1.6 1.6 0 1 0 3.2 0a1.6 1.6 0 1 0 -3.2 0" fill="#b3f02c"/>
<path d="M117.4 153.0a1.6 1.6 0 1 0 3.2 0a1.6 1.6 0 1 0 -3.2 0" fill="#b3f02c"/>
<path d="M105.4 160.0a1.6 1.6 0 1 0 3.2 0a1.6 1.6 0 1 0 -3.2 0" fill="#b3f02c"/>
<path d="M142.4 137.0a1.6 1.6 0 1 0 3.2 0a1.6 1.6 0 1 0 -3.2 0" fill="#b3f02c"/>
<path d="M127.4 157.0a1.6 1.6 0 1 0 3.2 0a1.6 1.6 0 1 0 -3.2 0" fill="#b3f02c"/>
<path d="M111.4 185.0a1.6 1.6 0 1 0 3.2 0a1.6 1.6 0 1 0 -3.2 0" fill="#b3f02c"/>
<path d="M85.8 192.3a1.6 1.6 0 1 0 3.2 0a1.6 1.6 0 1 0 -3.2 0M87.8 196.4a1.6 1.6 0 1 0 3.2 0a1.6 1.6 0 1 0 -3.2 0M105.0 182.3a1.6 1.6 0 1 0 3.2 0a1.6 1.6 0 1 0 -3.2 0M109.4 179.9a1.6 1.6 0 1 0 3.2 0a1.6 1.6 0 1 0 -3.2 0M90.5 197.8a1.6 1.6 0 1 0 3.2 0a1.6 1.6 0 1 0 -3.2 0M86.8 202.4a1.6 1.6 0 1 0 3.2 0a1.6 1.6 0 1 0 -3.2 0M85.7 204.1a1.6 1.6 0 1 0 3.2 0a1.6 1.6 0 1 0 -3.2 0M106.9 187.3a1.6 1.6 0 1 0 3.2 0a1.6 1.6 0 1 0 -3.2 0M97.7 191.6a1.6 1.6 0 1 0 3.2 0a1.6 1.6 0 1 0 -3.2 0M85.1 200.4a1.6 1.6 0 1 0 3.2 0a1.6 1.6 0 1 0 -3.2 0M96.2 198.7a1.6 1.6 0 1 0 3.2 0a1.6 1.6 0 1 0 -3.2 0M108.2 174.1a1.6 1.6 0 1 0 3.2 0a1.6 1.6 0 1 0 -3.2 0M88.9 206.7a1.6 1.6 0 1 0 3.2 0a1.6 1.6 0 1 0 -3.2 0M102.7 188.9a1.6 1.6 0 1 0 3.2 0a1.6 1.6 0 1 0 -3.2 0M91.7 195.6a1.6 1.6 0 1 0 3.2 0a1.6 1.6 0 1 0 -3.2 0M113.7 180.1a1.6 1.6 0 1 0 3.2 0a1.6 1.6 0 1 0 -3.2 0M86.3 205.4a1.6 1.6 0 1 0 3.2 0a1.6 1.6 0 1 0 -3.2 0M79.7 206.4a1.6 1.6 0 1 0 3.2 0a1.6 1.6 0 1 0 -3.2 0M105.9 177.2a1.6 1.6 0 1 0 3.2 0a1.6 1.6 0 1 0 -3.2 0M110.5 183.0a1.6 1.6 0 1 0 3.2 0a1.6 1.6 0 1 0 -3.2 0M82.7 209.8a1.6 1.6 0 1 0 3.2 0a1.6 1.6 0 1 0 -3.2 0M99.2 183.2a1.6 1.6 0 1 0 3.2 0a1.6 1.6 0 1 0 -3.2 0M112.1 179.6a1.6 1.6 0 1 0 3.2 0a1.6 1.6 0 1 0 -3.2 0M91.2 200.6a1.6 1.6 0 1 0 3.2 0a1.6 1.6 0 1 0 -3.2 0M105.6 185.2a1.6 1.6 0 1 0 3.2 0a1.6 1.6 0 1 0 -3.2 0M102.0 182.9a1.6 1.6 0 1 0 3.2 0a1.6 1.6 0 1 0 -3.2 0M90.6 209.0a1.6 1.6 0 1 0 3.2 0a1.6 1.6 0 1 0 -3.2 0M91.9 192.7a1.6 1.6 0 1 0 3.2 0a1.6 1.6 0 1 0 -3.2 0M96.2 195.9a1.6 1.6 0 1 0 3.2 0a1.6 1.6 0 1 0 -3.2 0M95.2 200.6a1.6 1.6 0 1 0 3.2 0a1.6 1.6 0 1 0 -3.2 0M98.1 188.7a1.6 1.6 0 1 0 3.2 0a1.6 1.6 0 1 0 -3.2 0M94.9 195.3a1.6 1.6 0 1 0 3.2 0a1.6 1.6 0 1 0 -3.2 0M83.9 204.4a1.6 1.6 0 1 0 3.2 0a1.6 1.6 0 1 0 -3.2 0M107.4 190.8a1.6 1.6 0 1 0 3.2 0a1.6 1.6 0 1 0 -3.2 0M88.0 200.2a1.6 1.6 0 1 0 3.2 0a1.6 1.6 0 1 0 -3.2 0M106.9 180.8a1.6 1.6 0 1 0 3.2 0a1.6 1.6 0 1 0 -3.2 0M91.4 189.9a1.6 1.6 0 1 0 3.2 0a1.6 1.6 0 1 0 -3.2 0M107.6 176.6a1.6 1.6 0 1 0 3.2 0a1.6 1.6 0 1 0 -3.2 0" fill="#0f8c22"/>
<path d="M207.6 136.1a1.6 1.6 0 1 0 3.2 0a1.6 1.6 0 1 0 -3.2 0M201.1 106.3a1.6 1.6 0 1 0 3.2 0a1.6 1.6 0 1 0 -3.2 0M210.1 135.2a1.6 1.6 0 1 0 3.2 0a1.6 1.6 0 1 0 -3.2 0M200.5 129.9a1.6 1.6 0 1 0 3.2 0a1.6 1.6 0 1 0 -3.2 0M212.9 124.7a1.6 1.6 0 1 0 3.2 0a1.6 1.6 0 1 0 -3.2 0M209.6 140.2a1.6 1.6 0 1 0 3.2 0a1.6 1.6 0 1 0 -3.2 0M208.5 133.8a1.6 1.6 0 1 0 3.2 0a1.6 1.6 0 1 0 -3.2 0M218.5 141.0a1.6 1.6 0 1 0 3.2 0a1.6 1.6 0 1 0 -3.2 0M207.2 124.1a1.6 1.6 0 1 0 3.2 0a1.6 1.6 0 1 0 -3.2 0M201.3 123.6a1.6 1.6 0 1 0 3.2 0a1.6 1.6 0 1 0 -3.2 0M204.2 125.2a1.6 1.6 0 1 0 3.2 0a1.6 1.6 0 1 0 -3.2 0M198.0 116.9a1.6 1.6 0 1 0 3.2 0a1.6 1.6 0 1 0 -3.2 0M207.3 102.7a1.6 1.6 0 1 0 3.2 0a1.6 1.6 0 1 0 -3.2 0M199.6 114.2a1.6 1.6 0 1 0 3.2 0a1.6 1.6 0 1 0 -3.2 0M201.8 103.1a1.6 1.6 0 1 0 3.2 0a1.6 1.6 0 1 0 -3.2 0M210.0 130.6a1.6 1.6 0 1 0 3.2 0a1.6 1.6 0 1 0 -3.2 0M208.6 126.9a1.6 1.6 0 1 0 3.2 0a1.6 1.6 0 1 0 -3.2 0M200.1 111.3a1.6 1.6 0 1 0 3.2 0a1.6 1.6 0 1 0 -3.2 0M200.4 108.5a1.6 1.6 0 1 0 3.2 0a1.6 1.6 0 1 0 -3.2 0M211.0 138.4a1.6 1.6 0 1 0 3.2 0a1.6 1.6 0 1 0 -3.2 0M212.5 128.8a1.6 1.6 0 1 0 3.2 0a1.6 1.6 0 1 0 -3.2 0M207.9 98.7a1.6 1.6 0 1 0 3.2 0a1.6 1.6 0 1 0 -3.2 0M193.2 101.2a1.6 1.6 0 1 0 3.2 0a1.6 1.6 0 1 0 -3.2 0M205.7 126.2a1.6 1.6 0 1 0 3.2 0a1.6 1.6 0 1 0 -3.2 0M208.2 138.4a1.6 1.6 0 1 0 3.2 0a1.6 1.6 0 1 0 -3.2 0M198.1 111.3a1.6 1.6 0 1 0 3.2 0a1.6 1.6 0 1 0 -3.2 0M194.7 119.2a1.6 1.6 0 1 0 3.2 0a1.6 1.6 0 1 0 -3.2 0M202.4 105.7a1.6 1.6 0 1 0 3.2 0a1.6 1.6 0 1 0 -3.2 0M198.7 143.8a1.6 1.6 0 1 0 3.2 0a1.6 1.6 0 1 0 -3.2 0M203.8 104.7a1.6 1.6 0 1 0 3.2 0a1.6 1.6 0 1 0 -3.2 0M200.1 116.3a1.6 1.6 0 1 0 3.2 0a1.6 1.6 0 1 0 -3.2 0M197.8 105.7a1.6 1.6 0 1 0 3.2 0a1.6 1.6 0 1 0 -3.2 0M203.6 118.8a1.6 1.6 0 1 0 3.2 0a1.6 1.6 0 1 0 -3.2 0M195.4 111.8a1.6 1.6 0 1 0 3.2 0a1.6 1.6 0 1 0 -3.2 0M206.7 116.5a1.6 1.6 0 1 0 3.2 0a1.6 1.6 0 1 0 -3.2 0M203.4 138.6a1.6 1.6 0 1 0 3.2 0a1.6 1.6 0 1 0 -3.2 0M211.4 141.4a1.6 1.6 0 1 0 3.2 0a1.6 1.6 0 1 0 -3.2 0M202.4 114.9a1.6 1.6 0 1 0 3.2 0a1.6 1.6 0 1 0 -3.2 0M205.3 118.8a1.6 1.6 0 1 0 3.2 0a1.6 1.6 0 1 0 -3.2 0M199.5 104.2a1.6 1.6 0 1 0 3.2 0a1.6 1.6 0 1 0 -3.2 0M199.8 102.7a1.6 1.6 0 1 0 3.2 0a1.6 1.6 0 1 0 -3.2 0M202.9 122.8a1.6 1.6 0 1 0 3.2 0a1.6 1.6 0 1 0 -3.2 0M197.5 103.8a1.6 1.6 0 1 0 3.2 0a1.6 1.6 0 1 0 -3.2 0M203.3 109.5a1.6 1.6 0 1 0 3.2 0a1.6 1.6 0 1 0 -3.2 0M207.3 145.5a1.6 1.6 0 1 0 3.2 0a1.6 1.6 0 1 0 -3.2 0M207.5 129.4a1.6 1.6 0 1 0 3.2 0a1.6 1.6 0 1 0 -3.2 0M208.8 144.1a1.6 1.6 0 1 0 3.2 0a1.6 1.6 0 1 0 -3.2 0M212.4 135.8a1.6 1.6 0 1 0 3.2 0a1.6 1.6 0 1 0 -3.2 0" fill="#f2a81e"/>
<path d="M213.2 152.0a1.6 1.6 0 1 0 3.2 0a1.6 1.6 0 1 0 -3.2 0M201.6 173.9a1.6 1.6 0 1 0 3.2 0a1.6 1.6 0 1 0 -3.2 0M200.1 173.6a1.6 1.6 0 1 0 3.2 0a1.6 1.6 0 1 0 -3.2 0M200.4 155.9a1.6 1.6 0 1 0 3.2 0a1.6 1.6 0 1 0 -3.2 0M203.7 176.1a1.6 1.6 0 1 0 3.2 0a1.6 1.6 0 1 0 -3.2 0M201.6 154.8a1.6 1.6 0 1 0 3.2 0a1.6 1.6 0 1 0 -3.2 0M201.8 150.8a1.6 1.6 0 1 0 3.2 0a1.6 1.6 0 1 0 -3.2 0M198.0 170.5a1.6 1.6 0 1 0 3.2 0a1.6 1.6 0 1 0 -3.2 0M192.8 154.7a1.6 1.6 0 1 0 3.2 0a1.6 1.6 0 1 0 -3.2 0M189.9 170.6a1.6 1.6 0 1 0 3.2 0a1.6 1.6 0 1 0 -3.2 0M199.5 186.9a1.6 1.6 0 1 0 3.2 0a1.6 1.6 0 1 0 -3.2 0M204.0 166.7a1.6 1.6 0 1 0 3.2 0a1.6 1.6 0 1 0 -3.2 0M211.8 162.9a1.6 1.6 0 1 0 3.2 0a1.6 1.6 0 1 0 -3.2 0M199.0 164.0a1.6 1.6 0 1 0 3.2 0a1.6 1.6 0 1 0 -3.2 0M192.6 168.2a1.6 1.6 0 1 0 3.2 0a1.6 1.6 0 1 0 -3.2 0M201.7 153.1a1.6 1.6 0 1 0 3.2 0a1.6 1.6 0 1 0 -3.2 0M201.8 159.3a1.6 1.6 0 1 0 3.2 0a1.6 1.6 0 1 0 -3.2 0M203.8 164.3a1.6 1.6 0 1 0 3.2 0a1.6 1.6 0 1 0 -3.2 0M204.4 157.9a1.6 1.6 0 1 0 3.2 0a1.6 1.6 0 1 0 -3.2 0M206.5 175.3a1.6 1.6 0 1 0 3.2 0a1.6 1.6 0 1 0 -3.2 0M202.8 156.2a1.6 1.6 0 1 0 3.2 0a1.6 1.6 0 1 0 -3.2 0M198.0 177.6a1.6 1.6 0 1 0 3.2 0a1.6 1.6 0 1 0 -3.2 0M193.7 171.7a1.6 1.6 0 1 0 3.2 0a1.6 1.6 0 1 0 -3.2 0M214.7 160.0a1.6 1.6 0 1 0 3.2 0a1.6 1.6 0 1 0 -3.2 0M201.1 183.0a1.6 1.6 0 1 0 3.2 0a1.6 1.6 0 1 0 -3.2 0M192.6 178.9a1.6 1.6 0 1 0 3.2 0a1.6 1.6 0 1 0 -3.2 0M193.0 176.8a1.6 1.6 0 1 0 3.2 0a1.6 1.6 0 1 0 -3.2 0M198.5 158.3a1.6 1.6 0 1 0 3.2 0a1.6 1.6 0 1 0 -3.2 0M210.1 164.9a1.6 1.6 0 1 0 3.2 0a1.6 1.6 0 1 0 -3.2 0M204.1 160.7a1.6 1.6 0 1 0 3.2 0a1.6 1.6 0 1 0 -3.2 0M215.2 154.3a1.6 1.6 0 1 0 3.2 0a1.6 1.6 0 1 0 -3.2 0M203.1 170.9a1.6 1.6 0 1 0 3.2 0a1.6 1.6 0 1 0 -3.2 0M215.6 156.1a1.6 1.6 0 1 0 3.2 0a1.6 1.6 0 1 0 -3.2 0M208.9 168.0a1.6 1.6 0 1 0 3.2 0a1.6 1.6 0 1 0 -3.2 0M210.6 159.6a1.6 1.6 0 1 0 3.2 0a1.6 1.6 0 1 0 -3.2 0M195.0 185.5a1.6 1.6 0 1 0 3.2 0a1.6 1.6 0 1 0 -3.2 0M211.1 157.7a1.6 1.6 0 1 0 3.2 0a1.6 1.6 0 1 0 -3.2 0M195.8 177.2a1.6 1.6 0 1 0 3.2 0a1.6 1.6 0 1 0 -3.2 0M202.2 163.6a1.6 1.6 0 1 0 3.2 0a1.6 1.6 0 1 0 -3.2 0M199.5 168.3a1.6 1.6 0 1 0 3.2 0a1.6 1.6 0 1 0 -3.2 0M210.1 170.2a1.6 1.6 0 1 0 3.2 0a1.6 1.6 0 1 0 -3.2 0M195.1 174.6a1.6 1.6 0 1 0 3.2 0a1.6 1.6 0 1 0 -3.2 0M212.2 149.7a1.6 1.6 0 1 0 3.2 0a1.6 1.6 0 1 0 -3.2 0M208.2 149.3a1.6 1.6 0 1 0 3.2 0a1.6 1.6 0 1 0 -3.2 0M206.1 164.7a1.6 1.6 0 1 0 3.2 0a1.6 1.6 0 1 0 -3.2 0M208.7 152.3a1.6 1.6 0 1 0 3.2 0a1.6 1.6 0 1 0 -3.2 0M208.6 159.5a1.6 1.6 0 1 0 3.2 0a1.6 1.6 0 1 0 -3.2 0M197.0 152.6a1.6 1.6 0 1 0 3.2 0a1.6 1.6 0 1 0 -3.2 0M202.9 172.9a1.6 1.6 0 1 0 3.2 0a1.6 1.6 0 1 0 -3.2 0M188.9 165.5a1.6 1.6 0 1 0 3.2 0a1.6 1.6 0 1 0 -3.2 0M212.8 157.7a1.6 1.6 0 1 0 3.2 0a1.6 1.6 0 1 0 -3.2 0M199.9 177.0a1.6 1.6 0 1 0 3.2 0a1.6 1.6 0 1 0 -3.2 0M200.6 162.0a1.6 1.6 0 1 0 3.2 0a1.6 1.6 0 1 0 -3.2 0M191.9 181.1a1.6 1.6 0 1 0 3.2 0a1.6 1.6 0 1 0 -3.2 0M194.5 176.0a1.6 1.6 0 1 0 3.2 0a1.6 1.6 0 1 0 -3.2 0M195.0 180.6a1.6 1.6 0 1 0 3.2 0a1.6 1.6 0 1 0 -3.2 0M209.0 178.2a1.6 1.6 0 1 0 3.2 0a1.6 1.6 0 1 0 -3.2 0M196.5 155.3a1.6 1.6 0 1 0 3.2 0a1.6 1.6 0 1 0 -3.2 0M202.8 146.7a1.6 1.6 0 1 0 3.2 0a1.6 1.6 0 1 0 -3.2 0M185.3 173.7a1.6 1.6 0 1 0 3.2 0a1.6 1.6 0 1 0 -3.2 0M204.6 155.0a1.6 1.6 0 1 0 3.2 0a1.6 1.6 0 1 0 -3.2 0M199.5 174.9a1.6 1.6 0 1 0 3.2 0a1.6 1.6 0 1 0 -3.2 0M204.8 170.6a1.6 1.6 0 1 0 3.2 0a1.6 1.6 0 1 0 -3.2 0M193.5 182.9a1.6 1.6 0 1 0 3.2 0a1.6 1.6 0 1 0 -3.2 0M205.9 153.5a1.6 1.6 0 1 0 3.2 0a1.6 1.6 0 1 0 -3.2 0M203.2 184.7a1.6 1.6 0 1 0 3.2 0a1.6 1.6 0 1 0 -3.2 0M205.7 159.0a1.6 1.6 0 1 0 3.2 0a1.6 1.6 0 1 0 -3.2 0M205.2 150.4a1.6 1.6 0 1 0 3.2 0a1.6 1.6 0 1 0 -3.2 0M202.3 165.3a1.6 1.6 0 1 0 3.2 0a1.6 1.6 0 1 0 -3.2 0M202.3 180.0a1.6 1.6 0 1 0 3.2 0a1.6 1.6 0 1 0 -3.2 0" fill="#f7c814"/>
<path d="M171.4 204.1a1.6 1.6 0 1 0 3.2 0a1.6 1.6 0 1 0 -3.2 0M179.6 196.8a1.6 1.6 0 1 0 3.2 0a1.6 1.6 0 1 0 -3.2 0M183.5 188.0a1.6 1.6 0 1 0 3.2 0a1.6 1.6 0 1 0 -3.2 0M192.3 187.7a1.6 1.6 0 1 0 3.2 0a1.6 1.6 0 1 0 -3.2 0M158.3 207.1a1.6 1.6 0 1 0 3.2 0a1.6 1.6 0 1 0 -3.2 0M170.1 205.4a1.6 1.6 0 1 0 3.2 0a1.6 1.6 0 1 0 -3.2 0M194.0 188.1a1.6 1.6 0 1 0 3.2 0a1.6 1.6 0 1 0 -3.2 0M189.2 188.8a1.6 1.6 0 1 0 3.2 0a1.6 1.6 0 1 0 -3.2 0M176.2 195.5a1.6 1.6 0 1 0 3.2 0a1.6 1.6 0 1 0 -3.2 0M193.3 182.1a1.6 1.6 0 1 0 3.2 0a1.6 1.6 0 1 0 -3.2 0M171.2 198.8a1.6 1.6 0 1 0 3.2 0a1.6 1.6 0 1 0 -3.2 0M165.3 207.6a1.6 1.6 0 1 0 3.2 0a1.6 1.6 0 1 0 -3.2 0M166.3 199.3a1.6 1.6 0 1 0 3.2 0a1.6 1.6 0 1 0 -3.2 0M164.6 202.5a1.6 1.6 0 1 0 3.2 0a1.6 1.6 0 1 0 -3.2 0M190.8 184.0a1.6 1.6 0 1 0 3.2 0a1.6 1.6 0 1 0 -3.2 0M185.4 194.3a1.6 1.6 0 1 0 3.2 0a1.6 1.6 0 1 0 -3.2 0M194.2 189.7a1.6 1.6 0 1 0 3.2 0a1.6 1.6 0 1 0 -3.2 0M180.6 189.9a1.6 1.6 0 1 0 3.2 0a1.6 1.6 0 1 0 -3.2 0M194.4 197.4a1.6 1.6 0 1 0 3.2 0a1.6 1.6 0 1 0 -3.2 0M176.9 192.7a1.6 1.6 0 1 0 3.2 0a1.6 1.6 0 1 0 -3.2 0M154.6 208.7a1.6 1.6 0 1 0 3.2 0a1.6 1.6 0 1 0 -3.2 0M179.4 194.3a1.6 1.6 0 1 0 3.2 0a1.6 1.6 0 1 0 -3.2 0M173.8 200.3a1.6 1.6 0 1 0 3.2 0a1.6 1.6 0 1 0 -3.2 0M175.6 189.5a1.6 1.6 0 1 0 3.2 0a1.6 1.6 0 1 0 -3.2 0M169.9 200.9a1.6 1.6 0 1 0 3.2 0a1.6 1.6 0 1 0 -3.2 0M170.0 203.1a1.6 1.6 0 1 0 3.2 0a1.6 1.6 0 1 0 -3.2 0M196.5 184.3a1.6 1.6 0 1 0 3.2 0a1.6 1.6 0 1 0 -3.2 0M167.7 206.4a1.6 1.6 0 1 0 3.2 0a1.6 1.6 0 1 0 -3.2 0M194.2 183.5a1.6 1.6 0 1 0 3.2 0a1.6 1.6 0 1 0 -3.2 0M173.2 195.7a1.6 1.6 0 1 0 3.2 0a1.6 1.6 0 1 0 -3.2 0M177.4 200.1a1.6 1.6 0 1 0 3.2 0a1.6 1.6 0 1 0 -3.2 0M185.6 187.5a1.6 1.6 0 1 0 3.2 0a1.6 1.6 0 1 0 -3.2 0M167.8 200.8a1.6 1.6 0 1 0 3.2 0a1.6 1.6 0 1 0 -3.2 0M155.1 207.3a1.6 1.6 0 1 0 3.2 0a1.6 1.6 0 1 0 -3.2 0M185.5 196.5a1.6 1.6 0 1 0 3.2 0a1.6 1.6 0 1 0 -3.2 0M189.0 184.4a1.6 1.6 0 1 0 3.2 0a1.6 1.6 0 1 0 -3.2 0M189.5 187.2a1.6 1.6 0 1 0 3.2 0a1.6 1.6 0 1 0 -3.2 0M158.8 204.0a1.6 1.6 0 1 0 3.2 0a1.6 1.6 0 1 0 -3.2 0M188.9 181.1a1.6 1.6 0 1 0 3.2 0a1.6 1.6 0 1 0 -3.2 0M175.6 196.8a1.6 1.6 0 1 0 3.2 0a1.6 1.6 0 1 0 -3.2 0M165.7 204.8a1.6 1.6 0 1 0 3.2 0a1.6 1.6 0 1 0 -3.2 0M160.6 211.2a1.6 1.6 0 1 0 3.2 0a1.6 1.6 0 1 0 -3.2 0M158.7 216.2a1.6 1.6 0 1 0 3.2 0a1.6 1.6 0 1 0 -3.2 0M176.8 203.9a1.6 1.6 0 1 0 3.2 0a1.6 1.6 0 1 0 -3.2 0M181.1 198.3a1.6 1.6 0 1 0 3.2 0a1.6 1.6 0 1 0 -3.2 0M182.9 182.3a1.6 1.6 0 1 0 3.2 0a1.6 1.6 0 1 0 -3.2 0M182.9 204.3a1.6 1.6 0 1 0 3.2 0a1.6 1.6 0 1 0 -3.2 0M188.4 194.6a1.6 1.6 0 1 0 3.2 0a1.6 1.6 0 1 0 -3.2 0M171.2 207.4a1.6 1.6 0 1 0 3.2 0a1.6 1.6 0 1 0 -3.2 0M180.9 191.3a1.6 1.6 0 1 0 3.2 0a1.6 1.6 0 1 0 -3.2 0M192.3 180.2a1.6 1.6 0 1 0 3.2 0a1.6 1.6 0 1 0 -3.2 0M186.4 189.6a1.6 1.6 0 1 0 3.2 0a1.6 1.6 0 1 0 -3.2 0M191.4 185.7a1.6 1.6 0 1 0 3.2 0a1.6 1.6 0 1 0 -3.2 0M184.6 191.2a1.6 1.6 0 1 0 3.2 0a1.6 1.6 0 1 0 -3.2 0M153.1 209.7a1.6 1.6 0 1 0 3.2 0a1.6 1.6 0 1 0 -3.2 0M167.0 203.6a1.6 1.6 0 1 0 3.2 0a1.6 1.6 0 1 0 -3.2 0M163.4 210.3a1.6 1.6 0 1 0 3.2 0a1.6 1.6 0 1 0 -3.2 0M157.4 209.8a1.6 1.6 0 1 0 3.2 0a1.6 1.6 0 1 0 -3.2 0M154.1 204.8a1.6 1.6 0 1 0 3.2 0a1.6 1.6 0 1 0 -3.2 0M182.6 191.7a1.6 1.6 0 1 0 3.2 0a1.6 1.6 0 1 0 -3.2 0M163.0 206.8a1.6 1.6 0 1 0 3.2 0a1.6 1.6 0 1 0 -3.2 0" fill="#e2771a"/>
<path d="M102.7 211.1a1.6 1.6 0 1 0 3.2 0a1.6 1.6 0 1 0 -3.2 0M150.2 218.2a1.6 1.6 0 1 0 3.2 0a1.6 1.6 0 1 0 -3.2 0M106.6 208.4a1.6 1.6 0 1 0 3.2 0a1.6 1.6 0 1 0 -3.2 0M99.8 210.0a1.6 1.6 0 1 0 3.2 0a1.6 1.6 0 1 0 -3.2 0M148.9 215.5a1.6 1.6 0 1 0 3.2 0a1.6 1.6 0 1 0 -3.2 0M139.5 213.9a1.6 1.6 0 1 0 3.2 0a1.6 1.6 0 1 0 -3.2 0M116.7 217.8a1.6 1.6 0 1 0 3.2 0a1.6 1.6 0 1 0 -3.2 0M113.7 206.0a1.6 1.6 0 1 0 3.2 0a1.6 1.6 0 1 0 -3.2 0M95.5 213.0a1.6 1.6 0 1 0 3.2 0a1.6 1.6 0 1 0 -3.2 0M118.2 218.8a1.6 1.6 0 1 0 3.2 0a1.6 1.6 0 1 0 -3.2 0M128.7 215.0a1.6 1.6 0 1 0 3.2 0a1.6 1.6 0 1 0 -3.2 0M117.9 215.1a1.6 1.6 0 1 0 3.2 0a1.6 1.6 0 1 0 -3.2 0M115.7 216.3a1.6 1.6 0 1 0 3.2 0a1.6 1.6 0 1 0 -3.2 0M130.7 214.2a1.6 1.6 0 1 0 3.2 0a1.6 1.6 0 1 0 -3.2 0M139.2 222.2a1.6 1.6 0 1 0 3.2 0a1.6 1.6 0 1 0 -3.2 0M148.0 211.6a1.6 1.6 0 1 0 3.2 0a1.6 1.6 0 1 0 -3.2 0M109.5 210.5a1.6 1.6 0 1 0 3.2 0a1.6 1.6 0 1 0 -3.2 0M130.3 222.3a1.6 1.6 0 1 0 3.2 0a1.6 1.6 0 1 0 -3.2 0M146.5 206.8a1.6 1.6 0 1 0 3.2 0a1.6 1.6 0 1 0 -3.2 0M97.3 206.8a1.6 1.6 0 1 0 3.2 0a1.6 1.6 0 1 0 -3.2 0M136.8 219.8a1.6 1.6 0 1 0 3.2 0a1.6 1.6 0 1 0 -3.2 0M125.2 215.1a1.6 1.6 0 1 0 3.2 0a1.6 1.6 0 1 0 -3.2 0M98.0 208.5a1.6 1.6 0 1 0 3.2 0a1.6 1.6 0 1 0 -3.2 0M95.9 211.6a1.6 1.6 0 1 0 3.2 0a1.6 1.6 0 1 0 -3.2 0M115.9 219.5a1.6 1.6 0 1 0 3.2 0a1.6 1.6 0 1 0 -3.2 0M109.2 213.5a1.6 1.6 0 1 0 3.2 0a1.6 1.6 0 1 0 -3.2 0M103.5 212.8a1.6 1.6 0 1 0 3.2 0a1.6 1.6 0 1 0 -3.2 0M104.2 210.2a1.6 1.6 0 1 0 3.2 0a1.6 1.6 0 1 0 -3.2 0M140.7 215.2a1.6 1.6 0 1 0 3.2 0a1.6 1.6 0 1 0 -3.2 0M141.9 218.0a1.6 1.6 0 1 0 3.2 0a1.6 1.6 0 1 0 -3.2 0M144.0 220.5a1.6 1.6 0 1 0 3.2 0a1.6 1.6 0 1 0 -3.2 0M142.5 211.4a1.6 1.6 0 1 0 3.2 0a1.6 1.6 0 1 0 -3.2 0M109.5 207.5a1.6 1.6 0 1 0 3.2 0a1.6 1.6 0 1 0 -3.2 0M100.9 212.7a1.6 1.6 0 1 0 3.2 0a1.6 1.6 0 1 0 -3.2 0M111.1 214.5a1.6 1.6 0 1 0 3.2 0a1.6 1.6 0 1 0 -3.2 0M142.2 216.1a1.6 1.6 0 1 0 3.2 0a1.6 1.6 0 1 0 -3.2 0M103.9 218.1a1.6 1.6 0 1 0 3.2 0a1.6 1.6 0 1 0 -3.2 0M145.6 220.4a1.6 1.6 0 1 0 3.2 0a1.6 1.6 0 1 0 -3.2 0M139.0 211.0a1.6 1.6 0 1 0 3.2 0a1.6 1.6 0 1 0 -3.2 0M106.3 218.7a1.6 1.6 0 1 0 3.2 0a1.6 1.6 0 1 0 -3.2 0M149.2 219.8a1.6 1.6 0 1 0 3.2 0a1.6 1.6 0 1 0 -3.2 0M145.0 216.0a1.6 1.6 0 1 0 3.2 0a1.6 1.6 0 1 0 -3.2 0M139.7 218.9a1.6 1.6 0 1 0 3.2 0a1.6 1.6 0 1 0 -3.2 0M151.3 211.7a1.6 1.6 0 1 0 3.2 0a1.6 1.6 0 1 0 -3.2 0M118.2 209.7a1.6 1.6 0 1 0 3.2 0a1.6 1.6 0 1 0 -3.2 0M110.4 217.6a1.6 1.6 0 1 0 3.2 0a1.6 1.6 0 1 0 -3.2 0M144.5 208.4a1.6 1.6 0 1 0 3.2 0a1.6 1.6 0 1 0 -3.2 0M106.7 212.9a1.6 1.6 0 1 0 3.2 0a1.6 1.6 0 1 0 -3.2 0M151.8 214.1a1.6 1.6 0 1 0 3.2 0a1.6 1.6 0 1 0 -3.2 0M147.4 217.1a1.6 1.6 0 1 0 3.2 0a1.6 1.6 0 1 0 -3.2 0M116.0 214.7a1.6 1.6 0 1 0 3.2 0a1.6 1.6 0 1 0 -3.2 0M121.4 214.7a1.6 1.6 0 1 0 3.2 0a1.6 1.6 0 1 0 -3.2 0M113.8 211.5a1.6 1.6 0 1 0 3.2 0a1.6 1.6 0 1 0 -3.2 0M113.4 215.8a1.6 1.6 0 1 0 3.2 0a1.6 1.6 0 1 0 -3.2 0M119.0 220.6a1.6 1.6 0 1 0 3.2 0a1.6 1.6 0 1 0 -3.2 0M97.0 214.6a1.6 1.6 0 1 0 3.2 0a1.6 1.6 0 1 0 -3.2 0M100.0 206.8a1.6 1.6 0 1 0 3.2 0a1.6 1.6 0 1 0 -3.2 0M123.8 216.7a1.6 1.6 0 1 0 3.2 0a1.6 1.6 0 1 0 -3.2 0M131.6 215.9a1.6 1.6 0 1 0 3.2 0a1.6 1.6 0 1 0 -3.2 0M105.3 214.1a1.6 1.6 0 1 0 3.2 0a1.6 1.6 0 1 0 -3.2 0M136.9 212.2a1.6 1.6 0 1 0 3.2 0a1.6 1.6 0 1 0 -3.2 0M117.6 212.1a1.6 1.6 0 1 0 3.2 0a1.6 1.6 0 1 0 -3.2 0M149.9 212.3a1.6 1.6 0 1 0 3.2 0a1.6 1.6 0 1 0 -3.2 0M114.6 214.3a1.6 1.6 0 1 0 3.2 0a1.6 1.6 0 1 0 -3.2 0M98.1 204.5a1.6 1.6 0 1 0 3.2 0a1.6 1.6 0 1 0 -3.2 0M113.3 210.0a1.6 1.6 0 1 0 3.2 0a1.6 1.6 0 1 0 -3.2 0M153.0 221.3a1.6 1.6 0 1 0 3.2 0a1.6 1.6 0 1 0 -3.2 0M121.8 217.4a1.6 1.6 0 1 0 3.2 0a1.6 1.6 0 1 0 -3.2 0M130.5 212.1a1.6 1.6 0 1 0 3.2 0a1.6 1.6 0 1 0 -3.2 0M134.2 216.7a1.6 1.6 0 1 0 3.2 0a1.6 1.6 0 1 0 -3.2 0M106.7 210.6a1.6 1.6 0 1 0 3.2 0a1.6 1.6 0 1 0 -3.2 0M102.3 208.2a1.6 1.6 0 1 0 3.2 0a1.6 1.6 0 1 0 -3.2 0M137.8 216.0a1.6 1.6 0 1 0 3.2 0a1.6 1.6 0 1 0 -3.2 0M146.2 214.9a1.6 1.6 0 1 0 3.2 0a1.6 1.6 0 1 0 -3.2 0M101.7 214.2a1.6 1.6 0 1 0 3.2 0a1.6 1.6 0 1 0 -3.2 0M128.7 212.7a1.6 1.6 0 1 0 3.2 0a1.6 1.6 0 1 0 -3.2 0M135.9 216.5a1.6 1.6 0 1 0 3.2 0a1.6 1.6 0 1 0 -3.2 0M140.1 212.6a1.6 1.6 0 1 0 3.2 0a1.6 1.6 0 1 0 -3.2 0M126.3 213.2a1.6 1.6 0 1 0 3.2 0a1.6 1.6 0 1 0 -3.2 0" fill="#a4521a"/>
<text x="19.5" y="276.3" font-size="9.3" font-style="italic" fill="#222">Cluster</text>
<text x="86.8" y="276.3" font-size="9.3" font-style="italic" fill="#222">Compartments</text>
<text x="174.8" y="276.3" font-size="9.3" font-style="italic" fill="#222">Neighborhood</text>
<circle cx="24.8" cy="290.9" r="3.7" fill="#b8f26a"/>
<text x="31.7" y="294.0" font-size="8.5" fill="#1a1a1a" stroke="#1a1a1a" stroke-width="0.12">S1 (<tspan font-style="italic">n</tspan>=172)</text>
<text x="89.6" y="294.0" font-size="8.5" fill="#1a1a1a" stroke="#1a1a1a" stroke-width="0.12">ED, ER, G, LY, PM</text>
<circle cx="24.8" cy="299.7" r="3.7" fill="#6ad43a"/>
<text x="31.7" y="302.8" font-size="8.5" fill="#1a1a1a" stroke="#1a1a1a" stroke-width="0.12">S2 (<tspan font-style="italic">n</tspan>=62)</text>
<text x="89.6" y="302.8" font-size="8.5" fill="#1a1a1a" stroke="#1a1a1a" stroke-width="0.12">ER, G, LY</text>
<circle cx="24.8" cy="308.5" r="3.7" fill="#1aa03a"/>
<text x="31.7" y="311.6" font-size="8.5" fill="#1a1a1a" stroke="#1a1a1a" stroke-width="0.12">S3 (<tspan font-style="italic">n</tspan>=54)</text>
<text x="89.6" y="311.6" font-size="8.5" fill="#1a1a1a" stroke="#1a1a1a" stroke-width="0.12">ER, PM</text>
<circle cx="24.8" cy="322.3" r="3.7" fill="#fff21c"/>
<text x="31.7" y="325.4" font-size="8.5" fill="#1a1a1a" stroke="#1a1a1a" stroke-width="0.12">M1 (<tspan font-style="italic">n</tspan>=59)</text>
<text x="89.6" y="325.4" font-size="8.5" fill="#1a1a1a" stroke="#1a1a1a" stroke-width="0.12">Mito. Matrix</text>
<circle cx="24.8" cy="331.2" r="3.7" fill="#fed41c"/>
<text x="31.7" y="334.3" font-size="8.5" fill="#1a1a1a" stroke="#1a1a1a" stroke-width="0.12">M2 (<tspan font-style="italic">n</tspan>=98)</text>
<text x="89.6" y="334.3" font-size="8.5" fill="#1a1a1a" stroke="#1a1a1a" stroke-width="0.12">Mito. M., Mito. Ribosome</text>
<circle cx="24.8" cy="340.4" r="3.7" fill="#f8bb52"/>
<text x="31.7" y="343.5" font-size="8.5" fill="#1a1a1a" stroke="#1a1a1a" stroke-width="0.12">M3 (<tspan font-style="italic">n</tspan>=67)</text>
<text x="89.6" y="343.5" font-size="8.5" fill="#1a1a1a" stroke="#1a1a1a" stroke-width="0.12">Mito. M., Mito. Matrix</text>
<circle cx="24.8" cy="349.6" r="3.7" fill="#e98a34"/>
<text x="31.7" y="352.7" font-size="8.5" fill="#1a1a1a" stroke="#1a1a1a" stroke-width="0.12">M4 (<tspan font-style="italic">n</tspan>=85)</text>
<text x="89.6" y="352.7" font-size="8.5" fill="#1a1a1a" stroke="#1a1a1a" stroke-width="0.12">Mito. M., Mito. Matrix</text>
<circle cx="24.8" cy="358.6" r="3.7" fill="#b0703a"/>
<text x="31.7" y="361.7" font-size="8.5" fill="#1a1a1a" stroke="#1a1a1a" stroke-width="0.12">M5 (<tspan font-style="italic">n</tspan>=81)</text>
<text x="89.6" y="361.7" font-size="8.5" fill="#1a1a1a" stroke="#1a1a1a" stroke-width="0.12">Mito. M., Mito. Matrix</text>
<circle cx="24.8" cy="372.2" r="3.7" fill="#22eaf4"/>
<text x="31.7" y="375.3" font-size="8.5" fill="#1a1a1a" stroke="#1a1a1a" stroke-width="0.12">N1 (<tspan font-style="italic">n</tspan>=47)</text>
<text x="89.6" y="375.3" font-size="8.5" fill="#1a1a1a" stroke="#1a1a1a" stroke-width="0.12">Nucleus</text>
<circle cx="24.8" cy="381.1" r="3.7" fill="#1ec2f0"/>
<text x="31.7" y="384.2" font-size="8.5" fill="#1a1a1a" stroke="#1a1a1a" stroke-width="0.12">N2 (<tspan font-style="italic">n</tspan>=86)</text>
<text x="89.6" y="384.2" font-size="8.5" fill="#1a1a1a" stroke="#1a1a1a" stroke-width="0.12">Nucleus</text>
<circle cx="24.8" cy="390.1" r="3.7" fill="#2a8cac"/>
<text x="31.7" y="393.2" font-size="8.5" fill="#1a1a1a" stroke="#1a1a1a" stroke-width="0.12">N3 (<tspan font-style="italic">n</tspan>=71)</text>
<text x="89.6" y="393.2" font-size="8.5" fill="#1a1a1a" stroke="#1a1a1a" stroke-width="0.12">Nucleus</text>
<circle cx="24.8" cy="403.7" r="3.7" fill="#f9c8d8"/>
<text x="31.7" y="406.8" font-size="8.5" fill="#1a1a1a" stroke="#1a1a1a" stroke-width="0.12">C1 (<tspan font-style="italic">n</tspan>=90)</text>
<text x="89.6" y="406.8" font-size="8.5" fill="#1a1a1a" stroke="#1a1a1a" stroke-width="0.12">Cytosol, Cytoskeleton</text>
<circle cx="24.8" cy="412.6" r="3.7" fill="#e28fb0"/>
<text x="31.7" y="415.7" font-size="8.5" fill="#1a1a1a" stroke="#1a1a1a" stroke-width="0.12">C2 (<tspan font-style="italic">n</tspan>=83)</text>
<text x="89.6" y="415.7" font-size="8.5" fill="#1a1a1a" stroke="#1a1a1a" stroke-width="0.12">Cytosol</text>
<circle cx="24.8" cy="421.7" r="3.7" fill="#f05c68"/>
<text x="31.7" y="424.8" font-size="8.5" fill="#1a1a1a" stroke="#1a1a1a" stroke-width="0.12">C3 (<tspan font-style="italic">n</tspan>=109)</text>
<text x="89.6" y="424.8" font-size="8.5" fill="#1a1a1a" stroke="#1a1a1a" stroke-width="0.12">Cytosol</text>
<circle cx="24.8" cy="431.4" r="3.7" fill="#f27030"/>
<text x="31.7" y="434.5" font-size="8.5" fill="#1a1a1a" stroke="#1a1a1a" stroke-width="0.12">C4 (<tspan font-style="italic">n</tspan>=90)</text>
<text x="89.6" y="434.5" font-size="8.5" fill="#1a1a1a" stroke="#1a1a1a" stroke-width="0.12">Cytosol</text>
<circle cx="24.8" cy="440.5" r="3.7" fill="#e5283a"/>
<text x="31.7" y="443.6" font-size="8.5" fill="#1a1a1a" stroke="#1a1a1a" stroke-width="0.12">C5 (<tspan font-style="italic">n</tspan>=94)</text>
<text x="89.6" y="443.6" font-size="8.5" fill="#1a1a1a" stroke="#1a1a1a" stroke-width="0.12">Cytosol</text>
<circle cx="24.8" cy="449.5" r="3.7" fill="#b03038"/>
<text x="31.7" y="452.6" font-size="8.5" fill="#1a1a1a" stroke="#1a1a1a" stroke-width="0.12">C6 (<tspan font-style="italic">n</tspan>=70)</text>
<text x="89.6" y="452.6" font-size="8.5" fill="#1a1a1a" stroke="#1a1a1a" stroke-width="0.12">Cytosol</text>
<circle cx="24.8" cy="462.1" r="3.7" fill="#7a70c0"/>
<text x="31.7" y="465.2" font-size="8.5" fill="#1a1a1a" stroke="#1a1a1a" stroke-width="0.12">R1 (<tspan font-style="italic">n</tspan>=63)</text>
<text x="89.6" y="465.2" font-size="8.5" fill="#1a1a1a" stroke="#1a1a1a" stroke-width="0.12">Ribosome</text>
<path d="M180.2 288.4 H182.6 V313.5 H180.2 M182.6 300.9 H184.6" fill="none" stroke="#a8a8a8" stroke-width="0.9"/>
<text x="189.5" y="304.6" font-size="8.2" fill="#4f9a3a">Secretory</text>
<path d="M180.2 319.5 H182.6 V361.9 H180.2 M182.6 340.7 H184.6" fill="none" stroke="#a8a8a8" stroke-width="0.9"/>
<text x="189.5" y="344.3" font-size="8.2" fill="#d9a42a">Mitochondria</text>
<path d="M180.2 368.7 H182.6 V393.7 H180.2 M182.6 381.2 H184.6" fill="none" stroke="#a8a8a8" stroke-width="0.9"/>
<text x="189.5" y="384.8" font-size="8.2" fill="#3a6cb0">Nucleus</text>
<path d="M180.2 401.5 H182.6 V453.5 H180.2 M182.6 427.5 H184.6" fill="none" stroke="#a8a8a8" stroke-width="0.9"/>
<text x="189.5" y="431.1" font-size="8.2" fill="#c8202c">Cytosol</text>
<path d="M180.2 459.2 H182.6 V466.0 H180.2 M182.6 462.6 H184.6" fill="none" stroke="#a8a8a8" stroke-width="0.9"/>
<text x="189.5" y="466.2" font-size="8.2" fill="#8a72c4">Ribosome</text>
<path d="M321.9 66.0h9.2v1.2h-9.2zM303.6 67.2h27.5v1.8h-27.5zM312.8 85.8h9.2v1.2h-9.2zM312.8 96.6h9.2v1.5h-9.2zM303.6 101.0h27.5v1.2h-27.5zM303.6 104.8h27.5v2.5h-27.5zM303.6 118.0h27.5v0.8h-27.5zM303.6 124.0h27.5v2.0h-27.5zM303.6 126.0h18.3v0.8h-18.3zM312.8 126.8h9.2v0.8h-9.2zM303.6 127.6h27.5v1.0h-27.5zM312.8 130.9h18.3v0.1h-18.3zM303.6 133.8h9.2v1.0h-9.2zM303.6 145.3h27.5v1.0h-27.5zM321.9 165.6h9.2v2.5h-9.2zM303.6 227.0h9.2v2.0h-9.2zM321.9 227.0h9.2v2.0h-9.2zM312.8 229.0h9.2v1.2h-9.2zM303.6 270.8h27.5v2.5h-27.5zM312.8 277.0h18.3v2.5h-18.3zM321.9 279.5h9.2v1.0h-9.2zM303.6 280.5h27.5v0.8h-27.5zM303.6 281.3h27.5v0.7h-27.5zM303.6 293.5h18.3v1.2h-18.3zM303.6 296.2h18.3v1.0h-18.3zM303.6 304.0h9.2v1.0h-9.2zM303.6 308.5h9.2v1.0h-9.2zM303.6 315.5h27.5v1.5h-27.5zM312.8 321.3h9.2v0.7h-9.2zM303.6 398.5h27.5v1.5h-27.5zM303.6 402.9h27.5v2.5h-27.5zM321.9 406.4h9.2v1.0h-9.2zM303.6 407.4h27.5v1.5h-27.5zM303.6 408.9h27.5v0.1h-27.5zM335.5 66.0h27.5v1.0h-27.5zM335.5 68.2h9.2v0.8h-9.2zM353.8 68.2h9.2v0.8h-9.2zM344.7 88.2h9.2v1.0h-9.2zM335.5 115.0h9.2v1.0h-9.2zM353.8 123.3h9.2v0.7h-9.2zM353.8 128.5h9.2v1.5h-9.2zM335.5 130.0h9.2v1.0h-9.2zM335.5 142.3h18.3v1.5h-18.3zM353.8 156.4h9.2v1.2h-9.2zM344.7 174.1h9.2v1.2h-9.2zM353.8 187.0h9.2v2.0h-9.2zM353.8 190.0h9.2v0.8h-9.2zM353.8 201.9h9.2v1.1h-9.2zM335.5 228.0h9.2v0.5h-9.2zM353.8 228.0h9.2v0.5h-9.2zM335.5 228.5h27.5v1.0h-27.5zM335.5 231.0h9.2v1.0h-9.2zM353.8 231.0h9.2v1.0h-9.2zM344.7 232.0h9.2v1.0h-9.2zM335.5 238.7h27.5v1.0h-27.5zM335.5 385.5h18.3v1.0h-18.3zM353.8 386.5h9.2v1.5h-9.2zM335.5 396.5h27.5v1.0h-27.5zM335.5 397.5h27.5v2.5h-27.5zM335.5 402.5h27.5v1.2h-27.5zM344.7 403.7h18.3v1.0h-18.3zM335.5 407.2h9.2v1.0h-9.2zM335.5 420.2h27.5v0.8h-27.5zM367.3 66.0h18.3v2.0h-18.3zM367.3 68.0h27.5v1.0h-27.5zM367.3 75.6h9.2v1.2h-9.2zM367.3 89.5h9.2v2.5h-9.2zM385.6 89.5h9.2v2.5h-9.2zM376.5 92.0h9.2v1.5h-9.2zM376.5 110.5h9.2v1.2h-9.2zM367.3 113.2h27.5v1.0h-27.5zM367.3 117.0h9.2v1.0h-9.2zM367.3 126.0h9.2v0.8h-9.2zM367.3 126.8h18.3v1.2h-18.3zM385.6 128.8h9.2v0.8h-9.2zM367.3 134.8h9.2v0.8h-9.2zM385.6 140.8h9.2v1.0h-9.2zM367.3 178.5h9.2v1.0h-9.2zM376.5 220.0h18.3v1.5h-18.3zM367.3 223.5h27.5v1.0h-27.5zM376.5 224.5h9.2v1.0h-9.2zM376.5 225.5h18.3v1.2h-18.3zM367.3 226.7h27.5v2.5h-27.5zM367.3 231.7h9.2v1.0h-9.2zM367.3 245.7h9.2v2.5h-9.2zM385.6 251.0h9.2v0.8h-9.2zM385.6 278.0h9.2v1.5h-9.2zM367.3 291.2h18.3v1.5h-18.3zM376.5 340.9h9.2v0.8h-9.2zM367.3 350.0h9.2v1.0h-9.2zM385.6 350.0h9.2v1.0h-9.2zM367.3 351.0h18.3v2.0h-18.3zM367.3 353.0h27.5v1.2h-27.5zM376.5 355.0h9.2v2.5h-9.2zM376.5 364.8h9.2v0.8h-9.2zM367.3 369.3h27.5v1.2h-27.5zM367.3 370.5h9.2v1.5h-9.2zM385.6 370.5h9.2v1.5h-9.2zM367.3 372.0h18.3v2.0h-18.3zM376.5 378.5h18.3v1.5h-18.3zM367.3 380.0h27.5v1.0h-27.5zM367.3 381.0h27.5v1.5h-27.5zM367.3 382.5h9.2v2.0h-9.2zM385.6 382.5h9.2v2.0h-9.2zM367.3 384.5h27.5v1.5h-27.5zM367.3 386.8h9.2v1.2h-9.2zM376.5 388.0h9.2v1.2h-9.2zM385.6 389.2h9.2v1.5h-9.2zM399.3 71.5h9.2v0.8h-9.2zM417.6 71.5h9.2v0.8h-9.2zM399.3 75.2h27.5v0.8h-27.5zM399.3 82.5h9.2v1.0h-9.2zM417.6 88.8h9.2v0.2h-9.2zM399.3 89.0h27.5v2.0h-27.5zM399.3 91.0h18.3v1.0h-18.3zM399.3 92.0h9.2v0.8h-9.2zM417.6 92.0h9.2v0.8h-9.2zM408.5 94.8h18.3v1.5h-18.3zM399.3 96.3h18.3v1.0h-18.3zM399.3 98.0h27.5v0.8h-27.5zM399.3 98.8h27.5v2.5h-27.5zM399.3 101.3h27.5v0.7h-27.5zM399.3 102.0h9.2v2.0h-9.2zM417.6 102.0h9.2v2.0h-9.2zM408.5 120.0h18.3v1.5h-18.3zM399.3 124.8h27.5v1.2h-27.5zM399.3 126.0h18.3v0.8h-18.3zM399.3 126.8h27.5v1.0h-27.5zM408.5 133.1h9.2v1.0h-9.2zM417.6 144.0h9.2v0.8h-9.2zM399.3 154.8h9.2v1.5h-9.2zM417.6 154.8h9.2v1.5h-9.2zM399.3 174.7h27.5v1.2h-27.5zM399.3 176.9h27.5v1.2h-27.5zM417.6 193.7h9.2v1.0h-9.2zM399.3 194.7h27.5v0.8h-27.5zM399.3 195.5h27.5v2.5h-27.5zM399.3 198.0h27.5v2.0h-27.5zM399.3 214.5h27.5v1.2h-27.5zM399.3 245.0h27.5v1.0h-27.5zM399.3 246.0h27.5v2.5h-27.5zM417.6 248.5h9.2v2.0h-9.2zM399.3 252.0h9.2v1.0h-9.2zM399.3 257.0h18.3v1.2h-18.3zM399.3 258.2h27.5v2.0h-27.5zM417.6 261.0h9.2v1.0h-9.2zM408.5 262.0h9.2v1.5h-9.2zM408.5 265.0h9.2v1.5h-9.2zM408.5 267.5h9.2v1.0h-9.2zM408.5 268.5h18.3v1.5h-18.3zM399.3 271.0h18.3v1.2h-18.3zM399.3 272.2h27.5v2.0h-27.5zM399.3 274.2h9.2v1.0h-9.2zM417.6 274.2h9.2v1.0h-9.2zM408.5 276.0h9.2v1.2h-9.2zM399.3 278.7h9.2v1.2h-9.2zM399.3 287.9h18.3v1.0h-18.3zM399.3 288.9h18.3v1.0h-18.3zM417.6 289.9h9.2v1.5h-9.2zM399.3 294.4h27.5v1.2h-27.5zM399.3 295.6h27.5v2.4h-27.5zM408.5 323.6h18.3v2.5h-18.3zM408.5 339.9h18.3v1.0h-18.3zM399.3 341.9h18.3v2.0h-18.3zM399.3 344.7h9.2v2.0h-9.2zM417.6 344.7h9.2v2.0h-9.2zM399.3 349.0h27.5v1.2h-27.5zM417.6 353.5h9.2v1.0h-9.2zM399.3 358.9h27.5v1.5h-27.5zM399.3 360.4h27.5v2.0h-27.5zM399.3 362.4h27.5v1.0h-27.5zM399.3 368.7h18.3v1.5h-18.3zM417.6 378.8h9.2v0.8h-9.2zM417.6 381.6h9.2v2.5h-9.2zM408.5 384.1h18.3v1.0h-18.3zM408.5 385.1h18.3v2.0h-18.3zM399.3 387.1h27.5v1.0h-27.5zM417.6 388.1h9.2v1.0h-9.2zM399.3 389.1h27.5v0.4h-27.5zM399.3 389.5h9.2v0.8h-9.2zM417.6 389.5h9.2v0.8h-9.2zM417.6 390.3h9.2v0.8h-9.2zM399.3 391.1h9.2v1.0h-9.2zM399.3 394.1h27.5v1.2h-27.5zM399.3 397.8h9.2v1.7h-9.2zM399.3 401.0h27.5v0.8h-27.5zM399.3 403.0h9.2v1.0h-9.2zM417.6 403.0h9.2v1.0h-9.2zM399.3 404.0h27.5v0.8h-27.5zM399.3 404.8h27.5v2.5h-27.5zM417.6 421.5h9.2v1.0h-9.2zM417.6 422.5h9.2v0.8h-9.2zM431.1 102.0h9.2v1.5h-9.2zM449.4 224.7h9.2v2.5h-9.2zM431.1 227.2h27.5v1.0h-27.5zM431.1 230.7h18.3v1.0h-18.3zM431.1 231.7h27.5v1.5h-27.5zM431.1 233.2h27.5v1.5h-27.5zM431.1 234.7h9.2v1.0h-9.2zM431.1 236.7h27.5v1.5h-27.5zM431.1 240.2h27.5v1.0h-27.5zM449.4 264.3h9.2v2.5h-9.2zM431.1 269.0h27.5v2.0h-27.5zM431.1 273.5h9.2v1.5h-9.2zM449.4 273.5h9.2v1.5h-9.2zM431.1 284.8h27.5v1.5h-27.5zM431.1 286.3h27.5v0.8h-27.5zM431.1 287.1h9.2v1.2h-9.2zM431.1 288.3h18.3v1.0h-18.3zM431.1 292.8h9.2v1.2h-9.2zM449.4 292.8h9.2v1.2h-9.2zM440.3 297.5h9.2v1.0h-9.2zM440.3 301.8h9.2v2.5h-9.2zM440.3 304.3h18.3v1.7h-18.3zM431.1 322.5h9.2v1.2h-9.2zM431.1 326.0h27.5v0.8h-27.5zM431.1 380.5h9.2v2.5h-9.2zM431.1 383.0h27.5v1.2h-27.5zM440.3 389.8h18.3v0.8h-18.3zM462.9 224.7h27.5v2.0h-27.5zM462.9 229.2h27.5v1.5h-27.5zM462.9 230.7h27.5v1.0h-27.5zM462.9 232.9h9.2v0.1h-9.2zM462.9 234.5h27.5v1.5h-27.5zM462.9 236.0h27.5v0.8h-27.5zM462.9 237.8h27.5v1.0h-27.5zM462.9 238.8h27.5v1.0h-27.5zM481.2 239.8h9.2v1.2h-9.2zM481.2 275.3h9.2v2.5h-9.2zM481.2 284.0h9.2v1.2h-9.2zM462.9 285.2h27.5v0.8h-27.5zM462.9 286.0h27.5v1.2h-27.5zM462.9 287.2h18.3v0.8h-18.3zM462.9 288.8h27.5v2.5h-27.5zM462.9 291.3h18.3v1.2h-18.3zM472.1 294.0h18.3v1.0h-18.3zM462.9 296.0h27.5v0.8h-27.5zM462.9 296.8h27.5v1.0h-27.5zM462.9 297.8h9.2v0.8h-9.2zM481.2 297.8h9.2v0.8h-9.2zM472.1 302.1h18.3v0.8h-18.3zM462.9 303.7h27.5v1.5h-27.5zM472.1 305.2h18.3v0.8h-18.3zM462.9 336.5h27.5v1.5h-27.5zM462.9 359.8h27.5v2.0h-27.5zM472.1 377.8h9.2v2.0h-9.2zM481.2 379.8h9.2v1.0h-9.2zM462.9 381.8h9.2v0.8h-9.2zM481.2 381.8h9.2v0.8h-9.2zM472.1 384.6h9.2v2.5h-9.2zM462.9 387.1h27.5v2.0h-27.5zM462.9 389.1h27.5v1.2h-27.5zM481.2 392.0h9.2v1.0h-9.2zM481.2 402.3h9.2v0.7h-9.2zM472.1 405.5h18.3v1.0h-18.3z" fill="#fff8c6" shape-rendering="crispEdges"/>
<path d="M303.6 69.0h27.5v0.8h-27.5zM303.6 69.8h27.5v1.2h-27.5zM303.6 71.0h27.5v1.5h-27.5zM303.6 72.5h27.5v1.5h-27.5zM303.6 74.0h27.5v2.0h-27.5zM303.6 76.0h27.5v2.5h-27.5zM303.6 78.5h27.5v1.5h-27.5zM303.6 80.0h27.5v0.8h-27.5zM303.6 80.8h27.5v1.5h-27.5zM303.6 82.3h27.5v1.2h-27.5zM303.6 83.5h27.5v0.8h-27.5zM303.6 84.3h27.5v1.5h-27.5zM303.6 87.0h27.5v0.8h-27.5zM303.6 87.8h27.5v1.0h-27.5zM303.6 88.8h27.5v0.8h-27.5zM303.6 89.6h27.5v1.0h-27.5zM303.6 90.6h27.5v2.5h-27.5zM303.6 93.1h27.5v1.5h-27.5zM303.6 94.6h27.5v1.2h-27.5zM303.6 95.8h27.5v0.8h-27.5zM303.6 96.6h9.2v1.5h-9.2zM321.9 96.6h9.2v1.5h-9.2zM303.6 98.1h27.5v1.2h-27.5zM303.6 99.3h27.5v0.8h-27.5zM303.6 100.1h27.5v0.9h-27.5zM303.6 104.0h27.5v0.8h-27.5zM303.6 107.3h27.5v0.8h-27.5zM303.6 108.1h27.5v1.5h-27.5zM303.6 109.6h27.5v0.8h-27.5zM303.6 110.4h27.5v1.2h-27.5zM303.6 111.6h27.5v1.0h-27.5zM303.6 112.6h27.5v1.2h-27.5zM303.6 113.8h27.5v1.0h-27.5zM303.6 114.8h27.5v0.2h-27.5zM303.6 118.8h27.5v1.0h-27.5zM303.6 119.8h27.5v2.0h-27.5zM303.6 121.8h27.5v2.2h-27.5zM303.6 131.0h27.5v0.8h-27.5zM312.8 131.8h18.3v2.0h-18.3zM312.8 133.8h18.3v1.0h-18.3zM303.6 134.8h27.5v2.0h-27.5zM303.6 136.8h27.5v1.5h-27.5zM303.6 138.3h27.5v0.8h-27.5zM303.6 139.1h27.5v1.5h-27.5zM303.6 140.6h27.5v1.2h-27.5zM303.6 141.8h27.5v2.5h-27.5zM303.6 144.3h27.5v1.0h-27.5zM303.6 146.3h27.5v1.5h-27.5zM303.6 147.8h27.5v0.8h-27.5zM303.6 148.6h27.5v2.0h-27.5zM303.6 150.6h27.5v1.0h-27.5zM303.6 151.6h27.5v1.2h-27.5zM303.6 152.8h27.5v1.0h-27.5zM303.6 153.8h27.5v2.0h-27.5zM303.6 155.8h27.5v1.5h-27.5zM303.6 157.3h27.5v1.5h-27.5zM303.6 158.8h27.5v1.5h-27.5zM303.6 160.3h27.5v2.5h-27.5zM303.6 162.8h27.5v1.0h-27.5zM303.6 163.8h27.5v1.0h-27.5zM303.6 164.8h27.5v0.8h-27.5zM303.6 165.6h18.3v2.5h-18.3zM303.6 168.1h27.5v0.8h-27.5zM303.6 168.9h27.5v2.5h-27.5zM303.6 171.4h27.5v1.5h-27.5zM303.6 172.9h27.5v1.0h-27.5zM303.6 173.9h27.5v2.0h-27.5zM303.6 175.9h27.5v1.2h-27.5zM303.6 177.1h27.5v1.0h-27.5zM303.6 178.1h27.5v1.0h-27.5zM303.6 179.1h27.5v2.0h-27.5zM303.6 181.1h27.5v1.0h-27.5zM303.6 182.1h27.5v1.2h-27.5zM303.6 183.3h27.5v1.2h-27.5zM312.8 184.5h18.3v1.2h-18.3zM303.6 185.7h27.5v2.0h-27.5zM303.6 187.7h27.5v0.8h-27.5zM303.6 188.5h27.5v1.5h-27.5zM303.6 190.0h27.5v2.5h-27.5zM303.6 192.5h27.5v1.0h-27.5zM303.6 193.5h27.5v2.5h-27.5zM303.6 196.0h27.5v1.0h-27.5zM303.6 197.0h27.5v1.2h-27.5zM303.6 198.2h27.5v1.0h-27.5zM303.6 199.2h27.5v2.0h-27.5zM303.6 201.2h27.5v1.0h-27.5zM303.6 202.2h27.5v0.8h-27.5zM303.6 206.0h27.5v1.0h-27.5zM303.6 207.0h27.5v1.2h-27.5zM303.6 208.2h27.5v1.0h-27.5zM303.6 209.2h27.5v1.0h-27.5zM303.6 210.2h27.5v1.0h-27.5zM303.6 211.2h27.5v2.0h-27.5zM303.6 213.2h27.5v1.5h-27.5zM303.6 214.7h27.5v1.0h-27.5zM303.6 215.7h27.5v1.0h-27.5zM303.6 216.7h27.5v1.2h-27.5zM303.6 217.9h27.5v1.0h-27.5zM303.6 218.9h27.5v1.0h-27.5zM303.6 219.9h27.5v0.8h-27.5zM303.6 220.7h27.5v1.3h-27.5zM303.6 225.0h27.5v2.0h-27.5zM312.8 227.0h9.2v2.0h-9.2zM303.6 229.0h9.2v1.2h-9.2zM321.9 229.0h9.2v1.2h-9.2zM303.6 230.2h27.5v1.8h-27.5zM303.6 242.0h27.5v0.8h-27.5zM303.6 242.8h27.5v1.2h-27.5zM321.9 296.2h9.2v1.0h-9.2zM303.6 297.2h27.5v0.8h-27.5zM303.6 298.0h27.5v2.0h-27.5zM303.6 300.0h27.5v2.0h-27.5zM303.6 302.0h27.5v2.0h-27.5zM312.8 304.0h18.3v1.0h-18.3zM303.6 305.0h27.5v2.5h-27.5zM303.6 307.5h27.5v1.0h-27.5zM312.8 309.5h9.2v1.2h-9.2zM303.6 310.7h27.5v0.8h-27.5zM303.6 311.5h18.3v1.5h-18.3zM312.8 313.0h18.3v2.5h-18.3zM303.6 317.0h9.2v1.2h-9.2zM303.6 318.2h27.5v1.3h-27.5zM303.6 391.7h27.5v2.0h-27.5zM303.6 393.7h27.5v0.9h-27.5zM303.6 406.4h18.3v1.0h-18.3zM303.6 409.0h27.5v0.8h-27.5zM312.8 409.8h18.3v1.2h-18.3zM303.6 411.0h27.5v1.0h-27.5zM335.5 69.0h27.5v2.0h-27.5zM335.5 71.0h27.5v2.0h-27.5zM335.5 73.0h27.5v2.5h-27.5zM335.5 75.5h27.5v1.2h-27.5zM335.5 76.7h27.5v2.0h-27.5zM335.5 78.7h27.5v1.0h-27.5zM335.5 79.7h27.5v2.0h-27.5zM335.5 81.7h27.5v1.2h-27.5zM335.5 82.9h27.5v0.8h-27.5zM335.5 83.7h27.5v1.0h-27.5zM335.5 84.7h27.5v1.2h-27.5zM335.5 85.9h27.5v1.5h-27.5zM335.5 87.4h27.5v0.8h-27.5zM335.5 88.2h9.2v1.0h-9.2zM353.8 88.2h9.2v1.0h-9.2zM335.5 89.2h27.5v1.0h-27.5zM335.5 90.2h27.5v1.2h-27.5zM335.5 91.4h27.5v1.0h-27.5zM335.5 92.4h27.5v2.0h-27.5zM335.5 94.4h27.5v2.0h-27.5zM335.5 96.4h27.5v1.0h-27.5zM335.5 97.4h27.5v2.0h-27.5zM335.5 99.4h27.5v1.0h-27.5zM335.5 100.4h27.5v0.6h-27.5zM335.5 104.0h27.5v1.2h-27.5zM335.5 105.2h27.5v2.0h-27.5zM335.5 107.2h27.5v1.0h-27.5zM335.5 108.2h27.5v2.5h-27.5zM335.5 110.7h27.5v1.0h-27.5zM335.5 111.7h9.2v1.0h-9.2zM335.5 112.7h27.5v0.8h-27.5zM335.5 113.5h27.5v1.5h-27.5zM335.5 118.0h27.5v2.0h-27.5zM335.5 120.0h27.5v0.8h-27.5zM335.5 120.8h27.5v2.5h-27.5zM335.5 123.3h18.3v0.7h-18.3zM335.5 131.0h27.5v1.0h-27.5zM335.5 132.0h27.5v1.5h-27.5zM335.5 133.5h27.5v1.0h-27.5zM335.5 134.5h27.5v1.5h-27.5zM335.5 136.0h27.5v1.0h-27.5zM335.5 137.0h27.5v2.5h-27.5zM335.5 139.5h27.5v0.8h-27.5zM335.5 140.3h27.5v1.0h-27.5zM335.5 141.3h27.5v1.0h-27.5zM353.8 142.3h9.2v1.5h-9.2zM335.5 143.8h27.5v1.5h-27.5zM335.5 145.3h27.5v0.8h-27.5zM335.5 146.1h27.5v1.0h-27.5zM335.5 147.1h27.5v1.5h-27.5zM335.5 148.6h27.5v1.0h-27.5zM335.5 149.6h27.5v2.5h-27.5zM335.5 152.1h27.5v1.0h-27.5zM335.5 153.1h27.5v0.8h-27.5zM335.5 153.9h27.5v2.5h-27.5zM335.5 156.4h18.3v1.2h-18.3zM335.5 157.6h27.5v1.0h-27.5zM335.5 158.6h27.5v1.0h-27.5zM335.5 159.6h27.5v0.9h-27.5zM335.5 162.0h27.5v1.0h-27.5zM335.5 163.0h27.5v1.2h-27.5zM335.5 164.2h27.5v1.2h-27.5zM335.5 165.4h27.5v2.0h-27.5zM335.5 167.4h27.5v1.0h-27.5zM335.5 168.4h27.5v1.2h-27.5zM335.5 169.6h27.5v2.5h-27.5zM335.5 172.1h27.5v2.0h-27.5zM335.5 174.1h9.2v1.2h-9.2zM353.8 174.1h9.2v1.2h-9.2zM335.5 175.3h27.5v1.0h-27.5zM335.5 176.3h27.5v1.0h-27.5zM344.7 177.3h18.3v1.0h-18.3zM335.5 178.3h27.5v1.0h-27.5zM335.5 179.3h27.5v1.0h-27.5zM335.5 180.3h27.5v1.0h-27.5zM335.5 181.3h27.5v1.5h-27.5zM335.5 182.8h27.5v2.0h-27.5zM335.5 184.8h27.5v1.2h-27.5zM335.5 186.0h27.5v1.0h-27.5zM335.5 187.0h18.3v2.0h-18.3zM344.7 189.0h9.2v1.0h-9.2zM335.5 190.0h18.3v0.8h-18.3zM335.5 190.8h27.5v2.5h-27.5zM335.5 193.3h27.5v0.8h-27.5zM335.5 194.1h27.5v2.0h-27.5zM335.5 196.1h27.5v0.8h-27.5zM335.5 196.9h27.5v1.0h-27.5zM335.5 197.9h27.5v2.5h-27.5zM344.7 200.4h9.2v1.5h-9.2zM335.5 201.9h18.3v1.1h-18.3zM335.5 206.0h27.5v2.5h-27.5zM335.5 208.5h27.5v1.0h-27.5zM335.5 209.5h27.5v1.5h-27.5zM335.5 211.0h27.5v1.2h-27.5zM335.5 212.2h27.5v2.5h-27.5zM335.5 214.7h27.5v1.5h-27.5zM335.5 216.2h27.5v1.0h-27.5zM335.5 217.2h27.5v0.8h-27.5zM335.5 218.0h9.2v1.0h-9.2zM353.8 218.0h9.2v1.0h-9.2zM335.5 219.0h27.5v1.0h-27.5zM335.5 220.0h27.5v1.0h-27.5zM335.5 221.0h27.5v0.8h-27.5zM335.5 221.8h27.5v0.2h-27.5zM344.7 228.0h9.2v0.5h-9.2zM335.5 232.0h9.2v1.0h-9.2zM353.8 232.0h9.2v1.0h-9.2zM335.5 233.0h27.5v1.2h-27.5zM335.5 234.2h27.5v1.0h-27.5zM335.5 235.2h27.5v2.0h-27.5zM335.5 237.2h27.5v1.5h-27.5zM335.5 239.7h27.5v0.3h-27.5zM335.5 391.5h27.5v2.0h-27.5zM335.5 393.5h27.5v1.0h-27.5zM335.5 394.5h27.5v2.0h-27.5zM335.5 403.7h9.2v1.0h-9.2zM353.8 407.2h9.2v1.0h-9.2zM367.3 69.0h27.5v0.8h-27.5zM367.3 70.8h27.5v1.0h-27.5zM367.3 71.8h27.5v1.0h-27.5zM367.3 72.8h9.2v2.0h-9.2zM367.3 74.8h27.5v0.8h-27.5zM376.5 75.6h18.3v1.2h-18.3zM367.3 76.8h27.5v1.0h-27.5zM367.3 78.8h9.2v0.8h-9.2zM385.6 79.6h9.2v1.0h-9.2zM367.3 80.6h27.5v1.2h-27.5zM367.3 81.8h27.5v0.8h-27.5zM367.3 82.6h27.5v1.0h-27.5zM367.3 83.6h27.5v1.2h-27.5zM367.3 84.8h27.5v1.0h-27.5zM367.3 85.8h27.5v1.2h-27.5zM367.3 87.0h27.5v2.5h-27.5zM376.5 89.5h9.2v2.5h-9.2zM367.3 92.0h9.2v1.5h-9.2zM367.3 93.5h27.5v1.5h-27.5zM367.3 95.0h27.5v1.5h-27.5zM367.3 96.5h27.5v2.0h-27.5zM367.3 98.5h27.5v2.0h-27.5zM367.3 100.5h27.5v0.5h-27.5zM367.3 104.0h27.5v2.5h-27.5zM367.3 106.5h27.5v2.0h-27.5zM367.3 108.5h27.5v1.0h-27.5zM367.3 109.5h27.5v1.0h-27.5zM367.3 110.5h9.2v1.2h-9.2zM385.6 110.5h9.2v1.2h-9.2zM367.3 111.7h27.5v1.5h-27.5zM367.3 114.2h27.5v0.8h-27.5zM367.3 118.0h27.5v2.0h-27.5zM367.3 120.0h27.5v1.2h-27.5zM367.3 121.2h27.5v2.0h-27.5zM367.3 123.2h27.5v0.8h-27.5zM367.3 131.0h27.5v0.8h-27.5zM367.3 131.8h27.5v1.0h-27.5zM367.3 132.8h27.5v1.0h-27.5zM367.3 133.8h27.5v1.0h-27.5zM376.5 134.8h18.3v0.8h-18.3zM367.3 135.6h27.5v1.0h-27.5zM367.3 136.6h27.5v1.5h-27.5zM367.3 138.1h27.5v1.5h-27.5zM367.3 139.6h27.5v1.2h-27.5zM367.3 140.8h18.3v1.0h-18.3zM367.3 141.8h9.2v1.5h-9.2zM385.6 141.8h9.2v1.5h-9.2zM367.3 143.3h27.5v1.5h-27.5zM367.3 144.8h27.5v1.0h-27.5zM367.3 145.8h27.5v2.5h-27.5zM367.3 148.3h27.5v2.0h-27.5zM367.3 150.3h27.5v0.8h-27.5zM367.3 151.1h27.5v1.0h-27.5zM367.3 152.1h27.5v1.0h-27.5zM367.3 153.1h27.5v0.8h-27.5zM367.3 153.9h27.5v0.8h-27.5zM367.3 154.7h27.5v0.8h-27.5zM367.3 155.5h27.5v1.2h-27.5zM367.3 156.7h27.5v1.2h-27.5zM367.3 157.9h27.5v2.0h-27.5zM367.3 159.9h27.5v1.0h-27.5zM367.3 160.9h27.5v1.0h-27.5zM367.3 161.9h27.5v0.8h-27.5zM367.3 162.7h27.5v1.0h-27.5zM367.3 163.7h27.5v0.3h-27.5zM367.3 169.0h27.5v1.0h-27.5zM367.3 170.0h27.5v1.0h-27.5zM367.3 171.0h27.5v2.0h-27.5zM367.3 175.5h27.5v1.2h-27.5zM367.3 176.7h27.5v1.0h-27.5zM367.3 177.7h27.5v0.8h-27.5zM376.5 178.5h18.3v1.0h-18.3zM367.3 179.5h27.5v1.5h-27.5zM367.3 181.0h27.5v1.5h-27.5zM367.3 182.5h27.5v1.2h-27.5zM367.3 183.7h27.5v1.3h-27.5zM367.3 224.5h9.2v1.0h-9.2zM385.6 224.5h9.2v1.0h-9.2zM367.3 225.5h9.2v1.2h-9.2zM367.3 234.7h27.5v2.3h-27.5zM367.3 240.0h27.5v1.2h-27.5zM367.3 241.2h27.5v1.0h-27.5zM367.3 242.2h18.3v2.5h-18.3zM367.3 244.7h27.5v1.0h-27.5zM376.5 245.7h18.3v2.5h-18.3zM367.3 248.2h27.5v1.0h-27.5zM367.3 249.2h27.5v1.0h-27.5zM367.3 250.2h27.5v0.8h-27.5zM367.3 251.0h18.3v0.8h-18.3zM367.3 251.8h27.5v1.0h-27.5zM367.3 252.8h27.5v1.0h-27.5zM367.3 253.8h27.5v0.8h-27.5zM367.3 254.6h27.5v1.0h-27.5zM367.3 255.6h27.5v1.5h-27.5zM367.3 257.1h27.5v2.5h-27.5zM367.3 259.6h27.5v1.5h-27.5zM367.3 261.1h27.5v0.9h-27.5zM367.3 270.0h27.5v1.5h-27.5zM367.3 271.5h9.2v1.0h-9.2zM367.3 272.5h27.5v2.0h-27.5zM367.3 274.5h27.5v1.0h-27.5zM367.3 275.5h27.5v1.5h-27.5zM367.3 277.0h27.5v1.0h-27.5zM367.3 278.0h18.3v1.5h-18.3zM367.3 282.0h27.5v0.8h-27.5zM367.3 282.8h27.5v1.2h-27.5zM367.3 284.0h27.5v1.2h-27.5zM367.3 285.2h9.2v2.5h-9.2zM385.6 285.2h9.2v2.5h-9.2zM367.3 287.7h27.5v2.0h-27.5zM385.6 291.2h9.2v1.5h-9.2zM376.5 292.7h9.2v0.8h-9.2zM367.3 293.5h9.2v1.5h-9.2zM367.3 295.0h9.2v1.2h-9.2zM385.6 295.0h9.2v1.2h-9.2zM367.3 296.2h27.5v1.8h-27.5zM367.3 298.0h27.5v1.2h-27.5zM367.3 299.2h27.5v1.5h-27.5zM367.3 300.7h27.5v1.0h-27.5zM367.3 301.7h27.5v1.2h-27.5zM367.3 302.9h27.5v2.0h-27.5zM367.3 304.9h27.5v2.0h-27.5zM376.5 306.9h18.3v2.0h-18.3zM367.3 308.9h27.5v1.0h-27.5zM367.3 309.9h27.5v1.0h-27.5zM367.3 310.9h27.5v0.8h-27.5zM376.5 311.7h18.3v0.8h-18.3zM367.3 312.5h27.5v0.8h-27.5zM367.3 313.3h27.5v2.5h-27.5zM367.3 315.8h27.5v2.0h-27.5zM367.3 317.8h27.5v1.7h-27.5zM367.3 322.0h27.5v0.8h-27.5zM367.3 322.8h27.5v2.0h-27.5zM367.3 324.8h27.5v0.8h-27.5zM367.3 325.6h27.5v1.0h-27.5zM367.3 326.6h27.5v0.8h-27.5zM367.3 327.4h27.5v1.5h-27.5zM367.3 328.9h27.5v1.2h-27.5zM367.3 330.1h27.5v2.0h-27.5zM367.3 332.1h27.5v2.5h-27.5zM367.3 334.6h27.5v1.0h-27.5zM367.3 335.6h27.5v2.5h-27.5zM367.3 338.1h27.5v0.8h-27.5zM367.3 338.9h27.5v2.0h-27.5zM367.3 340.9h9.2v0.8h-9.2zM385.6 340.9h9.2v0.8h-9.2zM367.3 341.7h27.5v1.5h-27.5zM367.3 343.2h27.5v1.2h-27.5zM367.3 344.4h27.5v1.5h-27.5zM367.3 345.9h27.5v1.2h-27.5zM367.3 347.1h27.5v0.8h-27.5zM367.3 347.9h27.5v2.1h-27.5zM376.5 350.0h9.2v1.0h-9.2zM385.6 354.2h9.2v0.8h-9.2zM367.3 357.5h9.2v2.0h-9.2zM385.6 357.5h9.2v2.0h-9.2zM367.3 359.5h18.3v0.8h-18.3zM367.3 360.3h27.5v2.5h-27.5zM367.3 362.8h27.5v2.0h-27.5zM367.3 368.1h9.2v1.2h-9.2zM385.6 368.1h9.2v1.2h-9.2zM376.5 370.5h9.2v1.5h-9.2zM367.3 374.0h9.2v0.8h-9.2zM367.3 374.8h9.2v0.8h-9.2zM367.3 375.6h27.5v0.4h-27.5zM399.3 69.5h27.5v0.8h-27.5zM399.3 70.3h27.5v1.2h-27.5zM408.5 71.5h9.2v0.8h-9.2zM399.3 72.3h27.5v1.0h-27.5zM399.3 73.3h27.5v1.0h-27.5zM399.3 74.3h27.5v0.1h-27.5zM399.3 78.0h27.5v1.0h-27.5zM399.3 80.5h27.5v1.2h-27.5zM399.3 81.7h27.5v0.8h-27.5zM408.5 82.5h18.3v1.0h-18.3zM399.3 83.5h18.3v0.8h-18.3zM399.3 84.3h27.5v2.5h-27.5zM399.3 86.8h27.5v1.0h-27.5zM408.5 88.8h9.2v0.2h-9.2zM399.3 104.0h27.5v1.2h-27.5zM399.3 105.2h27.5v2.5h-27.5zM399.3 107.7h27.5v1.0h-27.5zM399.3 108.7h27.5v2.0h-27.5zM399.3 110.7h27.5v1.2h-27.5zM399.3 111.9h27.5v1.1h-27.5zM408.5 118.0h9.2v1.0h-9.2zM399.3 121.5h9.2v0.8h-9.2zM417.6 121.5h9.2v0.8h-9.2zM417.6 126.0h9.2v0.8h-9.2zM408.5 127.8h18.3v1.0h-18.3zM408.5 128.8h18.3v2.5h-18.3zM399.3 131.3h9.2v1.0h-9.2zM399.3 132.3h27.5v0.8h-27.5zM399.3 133.1h9.2v1.0h-9.2zM417.6 133.1h9.2v1.0h-9.2zM417.6 134.1h9.2v2.4h-9.2zM399.3 136.5h27.5v2.5h-27.5zM399.3 139.0h27.5v1.0h-27.5zM399.3 140.0h27.5v0.8h-27.5zM399.3 140.8h27.5v1.0h-27.5zM399.3 148.0h27.5v1.0h-27.5zM399.3 149.0h27.5v2.0h-27.5zM399.3 151.0h27.5v0.8h-27.5zM399.3 151.8h27.5v2.0h-27.5zM399.3 153.8h27.5v1.0h-27.5zM408.5 154.8h9.2v1.5h-9.2zM399.3 156.3h27.5v0.8h-27.5zM399.3 157.1h27.5v1.0h-27.5zM399.3 158.1h27.5v1.9h-27.5zM399.3 166.0h27.5v1.0h-27.5zM399.3 167.0h27.5v1.0h-27.5zM399.3 168.0h27.5v1.2h-27.5zM399.3 169.2h27.5v2.0h-27.5zM399.3 171.2h27.5v1.3h-27.5zM399.3 207.0h27.5v2.0h-27.5zM399.3 209.0h27.5v1.0h-27.5zM399.3 217.0h27.5v1.0h-27.5zM399.3 218.0h27.5v2.0h-27.5zM399.3 220.0h27.5v1.0h-27.5zM399.3 248.5h18.3v2.0h-18.3zM417.6 250.5h9.2v1.5h-9.2zM399.3 323.6h9.2v2.5h-9.2zM399.3 326.1h27.5v2.5h-27.5zM399.3 328.6h27.5v0.8h-27.5zM399.3 329.4h27.5v2.0h-27.5zM399.3 331.4h27.5v2.0h-27.5zM399.3 333.4h27.5v1.0h-27.5zM399.3 334.4h9.2v1.5h-9.2zM399.3 335.9h27.5v1.5h-27.5zM399.3 337.4h18.3v1.0h-18.3zM399.3 338.4h27.5v1.5h-27.5zM399.3 339.9h9.2v1.0h-9.2zM399.3 340.9h27.5v1.0h-27.5zM399.3 343.9h27.5v0.8h-27.5zM408.5 344.7h9.2v2.0h-9.2zM408.5 351.0h18.3v1.0h-18.3zM399.3 353.5h18.3v1.0h-18.3zM399.3 354.5h9.2v1.2h-9.2zM399.3 355.7h27.5v1.0h-27.5zM408.5 363.4h18.3v2.0h-18.3zM399.3 366.4h9.2v0.8h-9.2zM399.3 367.2h27.5v1.5h-27.5zM417.6 368.7h9.2v1.5h-9.2zM399.3 370.2h27.5v1.0h-27.5zM399.3 372.4h27.5v2.5h-27.5zM399.3 376.9h27.5v1.0h-27.5zM399.3 377.9h9.2v0.9h-9.2zM417.6 377.9h9.2v0.9h-9.2zM399.3 390.3h18.3v0.8h-18.3zM399.3 392.1h27.5v2.0h-27.5zM399.3 407.3h27.5v2.5h-27.5zM399.3 414.0h18.3v1.2h-18.3zM399.3 415.2h27.5v1.0h-27.5zM399.3 416.2h27.5v1.0h-27.5zM399.3 417.2h27.5v2.0h-27.5zM399.3 419.2h27.5v1.0h-27.5zM399.3 420.2h27.5v1.3h-27.5zM408.5 422.5h9.2v0.8h-9.2zM399.3 424.3h9.2v1.2h-9.2zM440.3 234.7h18.3v1.0h-18.3zM431.1 235.7h27.5v1.0h-27.5zM431.1 239.2h27.5v1.0h-27.5zM431.1 244.6h27.5v2.0h-27.5zM431.1 246.6h27.5v1.5h-27.5zM431.1 248.1h27.5v1.0h-27.5zM431.1 249.1h27.5v0.8h-27.5zM431.1 249.9h27.5v2.5h-27.5zM431.1 252.4h27.5v1.0h-27.5zM431.1 253.4h27.5v1.0h-27.5zM431.1 254.4h27.5v1.0h-27.5zM431.1 255.4h27.5v2.0h-27.5zM440.3 257.4h9.2v1.5h-9.2zM431.1 258.9h27.5v1.0h-27.5zM431.1 259.9h27.5v2.1h-27.5zM431.1 271.0h27.5v2.5h-27.5zM440.3 273.5h9.2v1.5h-9.2zM431.1 275.0h27.5v0.8h-27.5zM431.1 275.8h27.5v1.5h-27.5zM431.1 277.3h27.5v1.0h-27.5zM431.1 278.3h27.5v1.0h-27.5zM431.1 279.3h27.5v1.0h-27.5zM431.1 280.3h27.5v1.5h-27.5zM431.1 281.8h27.5v1.0h-27.5zM431.1 282.8h27.5v1.0h-27.5zM431.1 283.8h27.5v0.2h-27.5zM440.3 287.1h18.3v1.2h-18.3zM431.1 290.3h9.2v2.5h-9.2zM449.4 290.3h9.2v2.5h-9.2zM449.4 298.5h9.2v1.5h-9.2zM449.4 301.0h9.2v0.8h-9.2zM431.1 301.8h9.2v2.5h-9.2zM431.1 306.0h27.5v1.2h-27.5zM431.1 307.2h27.5v2.5h-27.5zM431.1 309.7h27.5v1.0h-27.5zM431.1 310.7h27.5v2.5h-27.5zM431.1 313.2h27.5v0.8h-27.5zM431.1 321.0h27.5v1.5h-27.5zM440.3 322.5h18.3v1.2h-18.3zM431.1 323.7h27.5v1.5h-27.5zM431.1 325.2h27.5v0.8h-27.5zM431.1 326.8h27.5v1.0h-27.5zM431.1 327.8h27.5v2.0h-27.5zM431.1 329.8h27.5v2.0h-27.5zM431.1 331.8h27.5v2.0h-27.5zM431.1 333.8h27.5v1.0h-27.5zM431.1 334.8h27.5v1.0h-27.5zM431.1 335.8h27.5v1.2h-27.5zM431.1 337.0h27.5v1.5h-27.5zM431.1 338.5h27.5v2.0h-27.5zM431.1 340.5h27.5v0.8h-27.5zM431.1 341.3h27.5v2.5h-27.5zM431.1 343.8h27.5v0.8h-27.5zM431.1 344.6h27.5v1.5h-27.5zM431.1 346.1h27.5v1.0h-27.5zM431.1 347.1h27.5v1.5h-27.5zM431.1 348.6h27.5v2.0h-27.5zM431.1 350.6h27.5v2.5h-27.5zM431.1 353.1h27.5v1.5h-27.5zM431.1 354.6h27.5v1.0h-27.5zM431.1 355.6h27.5v1.0h-27.5zM431.1 356.6h27.5v1.2h-27.5zM431.1 357.8h27.5v2.0h-27.5zM431.1 359.8h27.5v1.0h-27.5zM431.1 360.8h27.5v1.5h-27.5zM431.1 362.3h27.5v1.0h-27.5zM431.1 363.3h27.5v2.0h-27.5zM431.1 365.3h27.5v1.5h-27.5zM431.1 366.8h27.5v0.8h-27.5zM431.1 367.6h27.5v1.0h-27.5zM431.1 368.6h27.5v2.5h-27.5zM431.1 371.1h27.5v1.5h-27.5zM431.1 372.6h27.5v1.0h-27.5zM431.1 373.6h27.5v2.4h-27.5zM431.1 377.0h27.5v2.5h-27.5zM440.3 380.5h9.2v2.5h-9.2zM440.3 386.2h9.2v1.0h-9.2zM431.1 387.2h27.5v0.8h-27.5zM431.1 388.0h27.5v1.0h-27.5zM449.4 389.0h9.2v0.8h-9.2zM431.1 389.8h9.2v0.8h-9.2zM431.1 390.6h27.5v0.4h-27.5zM431.1 391.0h27.5v2.0h-27.5zM431.1 394.5h27.5v1.2h-27.5zM431.1 395.7h27.5v0.8h-27.5zM431.1 396.5h27.5v1.2h-27.5zM431.1 397.7h27.5v1.0h-27.5zM431.1 398.7h27.5v2.5h-27.5zM431.1 401.2h27.5v1.2h-27.5zM431.1 402.4h27.5v0.6h-27.5zM431.1 404.0h27.5v0.8h-27.5zM431.1 404.8h27.5v2.0h-27.5zM431.1 406.8h27.5v1.0h-27.5zM431.1 407.8h27.5v1.0h-27.5zM431.1 408.8h27.5v2.0h-27.5zM431.1 410.8h27.5v2.5h-27.5zM431.1 413.3h27.5v1.5h-27.5zM431.1 414.8h27.5v1.5h-27.5zM431.1 416.3h27.5v2.5h-27.5zM431.1 418.8h27.5v2.5h-27.5zM431.1 421.3h27.5v1.0h-27.5zM431.1 422.3h27.5v1.0h-27.5zM431.1 423.3h27.5v2.0h-27.5zM431.1 425.3h27.5v0.2h-27.5zM472.1 236.8h9.2v1.0h-9.2zM462.9 244.6h27.5v1.5h-27.5zM462.9 246.1h27.5v2.0h-27.5zM462.9 248.1h27.5v1.0h-27.5zM462.9 249.1h27.5v2.5h-27.5zM462.9 251.6h27.5v2.0h-27.5zM462.9 253.6h27.5v1.2h-27.5zM462.9 254.8h27.5v0.8h-27.5zM462.9 255.6h27.5v1.0h-27.5zM462.9 256.6h27.5v1.5h-27.5zM462.9 258.1h27.5v1.5h-27.5zM462.9 259.6h27.5v1.0h-27.5zM462.9 260.6h27.5v0.8h-27.5zM462.9 261.4h27.5v0.6h-27.5zM462.9 269.0h27.5v1.0h-27.5zM462.9 270.0h27.5v1.0h-27.5zM462.9 271.0h27.5v2.0h-27.5zM462.9 273.0h27.5v1.5h-27.5zM462.9 274.5h27.5v0.8h-27.5zM462.9 275.3h18.3v2.5h-18.3zM462.9 277.8h9.2v1.5h-9.2zM462.9 279.3h27.5v0.8h-27.5zM462.9 280.1h27.5v1.0h-27.5zM462.9 281.1h27.5v0.8h-27.5zM462.9 281.9h27.5v1.2h-27.5zM462.9 283.1h27.5v0.8h-27.5zM481.2 283.9h9.2v0.1h-9.2zM472.1 288.0h18.3v0.8h-18.3zM481.2 291.3h9.2v1.2h-9.2zM481.2 292.5h9.2v1.5h-9.2zM462.9 298.6h27.5v1.0h-27.5zM481.2 299.6h9.2v1.0h-9.2zM462.9 306.0h27.5v1.0h-27.5zM462.9 307.0h27.5v0.8h-27.5zM462.9 307.8h27.5v1.2h-27.5zM462.9 309.0h27.5v1.0h-27.5zM462.9 310.0h27.5v1.0h-27.5zM462.9 311.0h27.5v1.5h-27.5zM462.9 312.5h27.5v0.8h-27.5zM462.9 313.3h27.5v0.7h-27.5zM462.9 321.0h27.5v1.0h-27.5zM462.9 322.0h27.5v1.0h-27.5zM462.9 323.0h27.5v1.0h-27.5zM462.9 324.0h27.5v1.5h-27.5zM462.9 325.5h27.5v1.2h-27.5zM462.9 326.7h27.5v0.8h-27.5zM462.9 327.5h27.5v1.0h-27.5zM462.9 328.5h27.5v1.2h-27.5zM462.9 329.7h27.5v1.5h-27.5zM462.9 331.2h27.5v0.8h-27.5zM462.9 332.0h27.5v1.0h-27.5zM462.9 333.0h27.5v1.5h-27.5zM462.9 334.5h27.5v1.0h-27.5zM462.9 335.5h27.5v1.0h-27.5zM462.9 338.0h27.5v1.5h-27.5zM462.9 339.5h27.5v1.0h-27.5zM462.9 340.5h27.5v1.0h-27.5zM462.9 341.5h27.5v2.5h-27.5zM462.9 344.0h27.5v1.0h-27.5zM462.9 345.0h27.5v1.5h-27.5zM462.9 346.5h27.5v0.8h-27.5zM462.9 347.3h27.5v1.0h-27.5zM462.9 348.3h27.5v1.0h-27.5zM462.9 349.3h27.5v2.5h-27.5zM462.9 351.8h27.5v1.0h-27.5zM462.9 352.8h27.5v1.5h-27.5zM462.9 354.3h27.5v2.0h-27.5zM462.9 356.3h27.5v2.5h-27.5zM462.9 358.8h27.5v1.0h-27.5zM462.9 361.8h27.5v1.2h-27.5zM462.9 363.0h27.5v2.5h-27.5zM462.9 365.5h27.5v1.5h-27.5zM462.9 367.0h27.5v1.0h-27.5zM462.9 368.0h27.5v0.8h-27.5zM462.9 368.8h27.5v1.0h-27.5zM462.9 369.8h27.5v1.0h-27.5zM462.9 370.8h27.5v2.0h-27.5zM462.9 372.8h27.5v0.8h-27.5zM462.9 373.6h27.5v1.0h-27.5zM462.9 374.6h27.5v1.0h-27.5zM462.9 375.6h27.5v0.9h-27.5zM481.2 380.8h9.2v1.0h-9.2zM462.9 391.0h27.5v1.0h-27.5zM462.9 392.0h18.3v1.0h-18.3zM462.9 394.5h27.5v0.8h-27.5zM462.9 395.3h27.5v1.0h-27.5zM462.9 396.3h27.5v1.0h-27.5zM462.9 397.3h27.5v1.0h-27.5zM462.9 398.3h27.5v2.0h-27.5zM462.9 400.3h27.5v2.0h-27.5zM472.1 402.3h9.2v0.7h-9.2zM462.9 404.0h27.5v1.5h-27.5zM462.9 405.5h9.2v1.0h-9.2zM462.9 406.5h27.5v2.5h-27.5zM462.9 409.0h27.5v1.0h-27.5zM462.9 410.0h27.5v0.8h-27.5zM462.9 410.8h27.5v1.2h-27.5zM462.9 412.0h27.5v1.2h-27.5zM462.9 413.2h9.2v1.2h-9.2zM481.2 413.2h9.2v1.2h-9.2zM462.9 414.4h27.5v1.0h-27.5zM462.9 415.4h27.5v0.8h-27.5zM462.9 416.2h27.5v1.2h-27.5zM462.9 417.4h27.5v1.0h-27.5zM462.9 418.4h27.5v1.2h-27.5zM462.9 419.6h27.5v1.0h-27.5zM462.9 420.6h27.5v0.8h-27.5zM462.9 421.4h27.5v2.0h-27.5zM462.9 423.4h27.5v0.8h-27.5zM462.9 424.2h27.5v1.3h-27.5z" fill="#fef38c" shape-rendering="crispEdges"/>
<path d="M303.6 203.0h27.5v1.2h-27.5zM303.6 204.2h27.5v1.0h-27.5zM303.6 205.2h27.5v0.8h-27.5zM335.5 203.0h27.5v0.8h-27.5zM335.5 203.8h27.5v2.2h-27.5z" fill="#f7ea58" shape-rendering="crispEdges"/>
<path d="M303.6 248.0h27.5v2.5h-27.5zM303.6 250.5h27.5v1.0h-27.5zM303.6 251.5h27.5v0.5h-27.5zM303.6 252.0h9.2v2.5h-9.2zM303.6 254.5h18.3v1.2h-18.3zM321.9 255.7h9.2v1.0h-9.2zM312.8 259.2h18.3v0.8h-18.3zM303.6 322.0h27.5v0.8h-27.5zM312.8 322.8h9.2v1.0h-9.2zM312.8 323.8h9.2v1.5h-9.2zM303.6 325.3h9.2v2.5h-9.2zM312.8 332.2h9.2v1.2h-9.2zM303.6 336.4h9.2v0.8h-9.2zM321.9 336.4h9.2v0.8h-9.2zM321.9 337.2h9.2v1.2h-9.2zM312.8 339.2h9.2v1.8h-9.2zM321.9 343.6h9.2v1.0h-9.2zM312.8 356.0h9.2v1.2h-9.2zM312.8 357.2h9.2v0.8h-9.2zM312.8 358.0h18.3v1.0h-18.3zM321.9 359.0h9.2v1.0h-9.2zM321.9 373.0h9.2v0.8h-9.2zM303.6 373.8h9.2v1.2h-9.2zM312.8 384.2h9.2v1.0h-9.2zM321.9 386.4h9.2v1.0h-9.2zM303.6 395.6h27.5v1.0h-27.5zM303.6 396.6h9.2v0.8h-9.2zM321.9 396.6h9.2v0.8h-9.2zM303.6 397.4h18.3v1.0h-18.3zM312.8 398.4h18.3v0.1h-18.3zM303.6 412.0h27.5v2.0h-27.5zM312.8 414.0h9.2v1.0h-9.2zM303.6 420.0h27.5v2.0h-27.5zM303.6 422.0h27.5v2.0h-27.5zM303.6 424.0h27.5v1.0h-27.5zM303.6 425.0h27.5v0.5h-27.5zM335.5 240.0h27.5v2.0h-27.5zM335.5 242.0h27.5v2.0h-27.5zM335.5 283.4h9.2v0.8h-9.2zM344.7 307.0h9.2v1.2h-9.2zM335.5 308.2h9.2v0.8h-9.2zM335.5 311.8h9.2v1.0h-9.2zM353.8 314.8h9.2v1.0h-9.2zM335.5 323.6h27.5v1.0h-27.5zM335.5 324.6h27.5v1.5h-27.5zM335.5 326.1h27.5v1.0h-27.5zM344.7 327.1h9.2v1.5h-9.2zM335.5 328.6h27.5v1.0h-27.5zM335.5 329.6h27.5v2.0h-27.5zM335.5 331.6h18.3v1.0h-18.3zM335.5 332.6h27.5v2.5h-27.5zM335.5 339.8h27.5v1.0h-27.5zM335.5 343.3h27.5v1.5h-27.5zM335.5 344.8h27.5v0.8h-27.5zM353.8 345.6h9.2v1.2h-9.2zM335.5 346.8h27.5v1.2h-27.5zM335.5 348.0h27.5v1.0h-27.5zM335.5 349.0h27.5v2.0h-27.5zM335.5 351.0h27.5v2.0h-27.5zM335.5 353.0h27.5v2.0h-27.5zM353.8 355.0h9.2v2.0h-9.2zM335.5 357.0h27.5v0.8h-27.5zM335.5 357.8h27.5v1.5h-27.5zM335.5 360.0h18.3v1.0h-18.3zM335.5 362.0h9.2v1.2h-9.2zM353.8 362.0h9.2v1.2h-9.2zM353.8 363.2h9.2v1.5h-9.2zM344.7 371.3h18.3v0.8h-18.3zM335.5 374.1h27.5v2.5h-27.5zM335.5 376.6h27.5v1.0h-27.5zM335.5 377.6h27.5v1.0h-27.5zM353.8 378.6h9.2v0.4h-9.2zM335.5 413.8h27.5v1.2h-27.5zM335.5 415.0h27.5v1.5h-27.5zM335.5 417.3h27.5v0.4h-27.5zM367.3 186.8h9.2v1.0h-9.2zM385.6 186.8h9.2v1.0h-9.2zM376.5 187.8h9.2v0.8h-9.2zM385.6 189.6h9.2v1.2h-9.2zM376.5 191.8h18.3v1.0h-18.3zM367.3 192.8h9.2v2.5h-9.2zM367.3 195.3h27.5v1.0h-27.5zM376.5 196.3h18.3v1.0h-18.3zM367.3 197.3h9.2v1.0h-9.2zM385.6 197.3h9.2v1.0h-9.2zM367.3 198.3h18.3v0.7h-18.3zM367.3 200.5h9.2v2.0h-9.2zM385.6 200.5h9.2v2.0h-9.2zM367.3 202.5h27.5v0.8h-27.5zM367.3 203.3h27.5v0.7h-27.5zM367.3 204.0h9.2v1.5h-9.2zM367.3 205.5h9.2v1.5h-9.2zM385.6 205.5h9.2v1.5h-9.2zM367.3 209.0h27.5v1.5h-27.5zM367.3 212.7h27.5v2.5h-27.5zM367.3 215.2h27.5v2.0h-27.5zM367.3 218.7h9.2v0.8h-9.2zM385.6 218.7h9.2v0.8h-9.2zM367.3 237.0h27.5v2.0h-27.5zM367.3 239.0h27.5v1.0h-27.5zM376.5 412.0h9.2v2.0h-9.2zM367.3 414.0h27.5v1.5h-27.5zM367.3 415.5h27.5v1.5h-27.5zM367.3 417.8h9.2v0.2h-9.2zM385.6 417.8h9.2v0.2h-9.2zM376.5 418.0h9.2v2.0h-9.2zM367.3 421.5h27.5v1.0h-27.5zM367.3 422.5h27.5v0.8h-27.5zM367.3 423.3h27.5v1.0h-27.5zM376.5 424.3h9.2v1.2h-9.2zM399.3 182.5h27.5v1.0h-27.5zM399.3 183.5h27.5v1.0h-27.5zM399.3 184.5h27.5v1.5h-27.5zM399.3 191.0h27.5v2.5h-27.5zM399.3 193.5h27.5v0.2h-27.5zM417.6 200.0h9.2v0.8h-9.2zM399.3 201.8h27.5v2.5h-27.5zM399.3 206.8h27.5v0.2h-27.5zM399.3 242.0h27.5v1.5h-27.5zM399.3 243.5h27.5v1.5h-27.5zM399.3 305.0h27.5v1.0h-27.5zM399.3 306.0h27.5v1.4h-27.5zM399.3 308.8h9.2v1.5h-9.2zM417.6 308.8h9.2v1.5h-9.2zM399.3 310.3h27.5v0.8h-27.5zM399.3 311.1h27.5v1.0h-27.5zM399.3 312.1h27.5v1.9h-27.5zM399.3 319.5h27.5v1.0h-27.5zM399.3 320.5h27.5v1.0h-27.5zM399.3 321.5h27.5v1.0h-27.5zM399.3 322.5h27.5v0.8h-27.5zM399.3 323.3h9.2v0.3h-9.2zM399.3 399.5h27.5v1.0h-27.5zM399.3 400.5h27.5v0.5h-27.5zM399.3 411.0h27.5v1.0h-27.5zM431.1 68.0h27.5v1.0h-27.5zM431.1 69.0h27.5v1.2h-27.5zM431.1 70.2h27.5v2.0h-27.5zM431.1 72.2h27.5v1.0h-27.5zM431.1 73.2h27.5v1.0h-27.5zM440.3 76.0h9.2v1.5h-9.2zM431.1 77.5h27.5v1.0h-27.5zM431.1 78.5h27.5v1.2h-27.5zM431.1 79.7h27.5v1.2h-27.5zM440.3 84.2h18.3v2.0h-18.3zM431.1 86.2h27.5v2.5h-27.5zM431.1 88.7h27.5v2.5h-27.5zM431.1 91.2h27.5v0.8h-27.5zM431.1 92.0h9.2v1.2h-9.2zM449.4 92.0h9.2v1.2h-9.2zM431.1 93.2h27.5v1.0h-27.5zM431.1 94.2h27.5v2.0h-27.5zM431.1 96.2h27.5v2.0h-27.5zM431.1 98.2h27.5v0.8h-27.5zM431.1 99.0h27.5v0.8h-27.5zM431.1 99.8h27.5v1.2h-27.5zM440.3 101.0h18.3v1.0h-18.3zM431.1 108.0h27.5v2.5h-27.5zM431.1 110.5h27.5v1.2h-27.5zM449.4 111.7h9.2v1.2h-9.2zM449.4 115.0h9.2v1.2h-9.2zM431.1 116.2h9.2v1.0h-9.2zM431.1 117.2h9.2v2.5h-9.2zM431.1 119.7h9.2v1.0h-9.2zM449.4 119.7h9.2v1.0h-9.2zM431.1 127.9h27.5v1.5h-27.5zM431.1 134.4h27.5v1.5h-27.5zM449.4 138.5h9.2v1.5h-9.2zM449.4 140.0h9.2v1.5h-9.2zM431.1 141.5h9.2v0.8h-9.2zM449.4 141.5h9.2v0.8h-9.2zM440.3 142.3h18.3v2.5h-18.3zM449.4 149.7h9.2v2.0h-9.2zM440.3 152.7h18.3v1.0h-18.3zM431.1 153.7h9.2v0.8h-9.2zM449.4 153.7h9.2v0.8h-9.2zM431.1 154.5h9.2v1.2h-9.2zM431.1 156.9h27.5v1.5h-27.5zM431.1 158.4h9.2v1.6h-9.2zM449.4 161.2h9.2v1.2h-9.2zM449.4 165.2h9.2v0.8h-9.2zM431.1 185.0h27.5v1.0h-27.5zM440.3 188.5h18.3v1.2h-18.3zM431.1 191.7h27.5v1.5h-27.5zM431.1 193.2h27.5v1.8h-27.5zM431.1 204.1h27.5v0.8h-27.5zM431.1 204.9h9.2v1.0h-9.2zM449.4 204.9h9.2v1.0h-9.2zM431.1 205.9h18.3v2.0h-18.3zM431.1 207.9h27.5v1.5h-27.5zM431.1 209.4h9.2v0.8h-9.2zM431.1 211.2h27.5v1.2h-27.5zM431.1 212.4h9.2v1.0h-9.2zM449.4 212.4h9.2v1.0h-9.2zM431.1 213.4h9.2v1.5h-9.2zM449.4 213.4h9.2v1.5h-9.2zM440.3 214.9h9.2v0.8h-9.2zM431.1 215.7h9.2v1.0h-9.2zM449.4 215.7h9.2v1.0h-9.2zM431.1 216.7h27.5v1.2h-27.5zM449.4 218.9h9.2v0.8h-9.2zM440.3 219.7h18.3v1.0h-18.3zM431.1 242.0h27.5v1.5h-27.5zM431.1 243.5h27.5v1.1h-27.5zM431.1 315.5h9.2v1.0h-9.2zM449.4 315.5h9.2v1.0h-9.2zM431.1 316.5h27.5v0.9h-27.5zM431.1 393.0h27.5v1.5h-27.5zM472.1 68.0h9.2v1.0h-9.2zM481.2 80.8h9.2v1.0h-9.2zM462.9 93.6h9.2v1.0h-9.2zM472.1 108.4h9.2v0.8h-9.2zM462.9 109.2h9.2v1.0h-9.2zM481.2 119.8h9.2v0.2h-9.2zM462.9 140.8h9.2v1.2h-9.2zM481.2 156.4h9.2v1.2h-9.2zM462.9 160.0h9.2v1.2h-9.2zM481.2 161.2h9.2v1.5h-9.2zM472.1 162.7h18.3v2.5h-18.3zM481.2 165.2h9.2v2.5h-9.2zM462.9 167.7h27.5v1.2h-27.5zM462.9 168.9h9.2v2.0h-9.2zM481.2 168.9h9.2v2.0h-9.2zM472.1 170.9h9.2v1.2h-9.2zM462.9 172.1h27.5v1.5h-27.5zM462.9 173.6h9.2v0.4h-9.2zM462.9 174.0h27.5v2.5h-27.5zM462.9 179.0h9.2v0.8h-9.2zM462.9 179.8h27.5v0.2h-27.5zM462.9 181.2h27.5v2.0h-27.5zM462.9 183.2h9.2v1.2h-9.2zM462.9 184.4h27.5v2.5h-27.5zM462.9 186.9h27.5v0.6h-27.5zM462.9 191.4h27.5v2.5h-27.5zM462.9 193.9h27.5v2.0h-27.5zM462.9 195.9h27.5v1.0h-27.5zM462.9 196.9h9.2v0.8h-9.2zM481.2 196.9h9.2v0.8h-9.2zM462.9 197.7h27.5v1.0h-27.5zM462.9 198.7h9.2v1.5h-9.2zM481.2 200.2h9.2v1.8h-9.2zM462.9 202.0h27.5v0.8h-27.5zM462.9 202.8h27.5v2.5h-27.5zM462.9 205.3h18.3v2.5h-18.3zM481.2 209.8h9.2v2.5h-9.2zM462.9 215.5h9.2v1.0h-9.2zM481.2 215.5h9.2v1.0h-9.2zM462.9 233.0h27.5v0.8h-27.5zM462.9 233.8h27.5v0.7h-27.5zM462.9 241.0h27.5v1.0h-27.5zM462.9 242.0h27.5v2.0h-27.5zM462.9 244.0h27.5v0.6h-27.5zM462.9 393.0h27.5v1.0h-27.5zM472.1 394.0h18.3v0.5h-18.3z" fill="#a9c4e2" shape-rendering="crispEdges"/>
<path d="M303.6 322.8h9.2v1.0h-9.2zM321.9 322.8h9.2v1.0h-9.2zM303.6 323.8h9.2v1.5h-9.2zM321.9 327.8h9.2v2.0h-9.2zM303.6 331.0h27.5v1.2h-27.5zM303.6 332.2h9.2v1.2h-9.2zM321.9 332.2h9.2v1.2h-9.2zM303.6 333.4h27.5v1.0h-27.5zM303.6 334.4h27.5v2.0h-27.5zM312.8 336.4h9.2v0.8h-9.2zM303.6 337.2h18.3v1.2h-18.3zM303.6 341.0h27.5v0.8h-27.5zM303.6 341.8h27.5v1.0h-27.5zM303.6 342.8h27.5v0.8h-27.5zM303.6 343.6h18.3v1.0h-18.3zM303.6 344.6h27.5v0.8h-27.5zM303.6 345.4h27.5v0.8h-27.5zM303.6 346.2h27.5v1.0h-27.5zM303.6 347.2h27.5v1.0h-27.5zM303.6 348.2h27.5v0.8h-27.5zM303.6 349.0h9.2v0.8h-9.2zM321.9 349.0h9.2v0.8h-9.2zM303.6 349.8h18.3v0.8h-18.3zM312.8 350.6h18.3v1.0h-18.3zM303.6 351.6h27.5v1.0h-27.5zM303.6 352.6h27.5v1.0h-27.5zM303.6 353.6h27.5v1.2h-27.5zM303.6 356.0h9.2v1.2h-9.2zM321.9 356.0h9.2v1.2h-9.2zM303.6 357.2h9.2v0.8h-9.2zM321.9 357.2h9.2v0.8h-9.2zM303.6 358.0h9.2v1.0h-9.2zM312.8 359.0h9.2v1.0h-9.2zM303.6 360.0h27.5v1.0h-27.5zM303.6 361.0h27.5v1.0h-27.5zM303.6 363.0h27.5v1.0h-27.5zM303.6 364.0h27.5v1.0h-27.5zM303.6 365.0h27.5v0.8h-27.5zM312.8 365.8h9.2v1.0h-9.2zM303.6 366.8h27.5v0.8h-27.5zM303.6 367.6h27.5v1.0h-27.5zM303.6 368.6h27.5v1.2h-27.5zM303.6 369.8h27.5v1.2h-27.5zM303.6 371.0h27.5v1.0h-27.5zM303.6 372.0h27.5v1.0h-27.5zM303.6 373.0h18.3v0.8h-18.3zM312.8 373.8h18.3v1.2h-18.3zM303.6 375.0h18.3v1.2h-18.3zM303.6 376.2h18.3v1.0h-18.3zM303.6 377.2h27.5v0.8h-27.5zM303.6 379.2h27.5v0.8h-27.5zM303.6 380.0h27.5v1.2h-27.5zM303.6 381.2h27.5v0.8h-27.5zM312.8 382.0h9.2v1.2h-9.2zM303.6 383.2h27.5v1.0h-27.5zM303.6 384.2h9.2v1.0h-9.2zM321.9 384.2h9.2v1.0h-9.2zM303.6 385.2h9.2v1.2h-9.2zM321.9 385.2h9.2v1.2h-9.2zM303.6 386.4h18.3v1.0h-18.3zM303.6 387.4h27.5v1.0h-27.5zM303.6 388.4h27.5v1.2h-27.5zM312.8 389.6h18.3v1.0h-18.3zM303.6 390.6h27.5v1.1h-27.5zM303.6 415.0h27.5v0.8h-27.5zM303.6 415.8h27.5v1.0h-27.5zM303.6 416.8h27.5v1.0h-27.5zM303.6 417.8h27.5v0.8h-27.5zM303.6 418.6h27.5v0.8h-27.5zM303.6 419.4h27.5v0.6h-27.5zM335.5 244.0h27.5v1.2h-27.5zM335.5 245.2h27.5v1.2h-27.5zM335.5 247.4h27.5v0.8h-27.5zM335.5 248.2h27.5v1.2h-27.5zM335.5 249.4h27.5v1.0h-27.5zM335.5 250.4h27.5v1.2h-27.5zM335.5 251.6h18.3v1.0h-18.3zM335.5 252.6h27.5v1.0h-27.5zM335.5 253.6h27.5v1.0h-27.5zM335.5 254.6h27.5v1.0h-27.5zM335.5 255.6h27.5v0.8h-27.5zM344.7 256.4h18.3v0.8h-18.3zM335.5 257.2h27.5v1.0h-27.5zM335.5 258.2h27.5v1.0h-27.5zM335.5 259.2h9.2v1.0h-9.2zM353.8 259.2h9.2v1.0h-9.2zM335.5 260.2h27.5v0.8h-27.5zM335.5 261.0h27.5v1.0h-27.5zM344.7 262.0h9.2v1.0h-9.2zM335.5 263.0h9.2v0.8h-9.2zM353.8 263.0h9.2v0.8h-9.2zM335.5 263.8h27.5v1.0h-27.5zM353.8 264.8h9.2v1.0h-9.2zM335.5 265.8h27.5v0.2h-27.5zM353.8 266.0h9.2v0.8h-9.2zM335.5 266.8h27.5v0.8h-27.5zM335.5 267.6h27.5v1.0h-27.5zM335.5 268.6h27.5v0.8h-27.5zM335.5 269.4h9.2v0.8h-9.2zM353.8 269.4h9.2v0.8h-9.2zM335.5 270.2h27.5v0.8h-27.5zM335.5 271.0h27.5v1.0h-27.5zM335.5 272.0h27.5v1.2h-27.5zM335.5 273.2h27.5v1.0h-27.5zM335.5 274.2h27.5v1.2h-27.5zM335.5 275.4h27.5v1.2h-27.5zM335.5 276.6h27.5v1.2h-27.5zM335.5 277.8h27.5v1.2h-27.5zM335.5 279.0h27.5v1.0h-27.5zM335.5 280.0h9.2v1.2h-9.2zM353.8 280.0h9.2v1.2h-9.2zM335.5 281.2h27.5v1.0h-27.5zM335.5 282.2h27.5v1.2h-27.5zM353.8 283.4h9.2v0.8h-9.2zM335.5 284.2h27.5v0.8h-27.5zM335.5 285.0h27.5v1.0h-27.5zM335.5 286.0h27.5v1.0h-27.5zM335.5 287.0h27.5v0.8h-27.5zM335.5 287.8h27.5v0.8h-27.5zM335.5 288.6h27.5v1.0h-27.5zM335.5 289.6h27.5v1.2h-27.5zM335.5 290.8h27.5v1.0h-27.5zM335.5 291.8h27.5v1.0h-27.5zM335.5 292.8h27.5v1.0h-27.5zM335.5 293.8h27.5v0.8h-27.5zM335.5 294.6h27.5v1.0h-27.5zM335.5 295.6h27.5v0.8h-27.5zM335.5 296.4h27.5v1.0h-27.5zM335.5 297.4h27.5v0.6h-27.5zM335.5 298.0h27.5v1.0h-27.5zM335.5 299.0h27.5v0.8h-27.5zM335.5 299.8h27.5v1.0h-27.5zM335.5 300.8h27.5v1.0h-27.5zM335.5 301.8h9.2v1.2h-9.2zM353.8 301.8h9.2v1.2h-9.2zM335.5 303.0h27.5v1.2h-27.5zM335.5 304.2h27.5v0.8h-27.5zM335.5 305.0h27.5v0.8h-27.5zM335.5 305.8h27.5v1.2h-27.5zM335.5 307.0h9.2v1.2h-9.2zM344.7 308.2h18.3v0.8h-18.3zM335.5 309.0h27.5v1.0h-27.5zM335.5 310.0h27.5v1.0h-27.5zM335.5 311.0h9.2v0.8h-9.2zM353.8 311.0h9.2v0.8h-9.2zM344.7 311.8h18.3v1.0h-18.3zM335.5 312.8h27.5v1.0h-27.5zM335.5 313.8h27.5v1.0h-27.5zM335.5 314.8h18.3v1.0h-18.3zM335.5 315.8h27.5v1.0h-27.5zM335.5 316.8h27.5v0.8h-27.5zM335.5 317.6h27.5v1.0h-27.5zM335.5 318.6h27.5v0.9h-27.5zM353.8 327.1h9.2v1.5h-9.2zM335.5 335.1h27.5v1.2h-27.5zM335.5 336.3h27.5v1.5h-27.5zM335.5 340.8h27.5v2.5h-27.5zM335.5 355.0h18.3v2.0h-18.3zM335.5 359.3h9.2v0.7h-9.2zM367.3 392.3h27.5v1.2h-27.5zM367.3 393.5h27.5v1.2h-27.5zM367.3 394.7h27.5v1.0h-27.5zM367.3 395.7h27.5v1.0h-27.5zM367.3 396.7h27.5v1.0h-27.5zM367.3 397.7h27.5v1.0h-27.5zM367.3 398.7h27.5v0.8h-27.5zM367.3 399.5h27.5v1.2h-27.5zM367.3 400.7h27.5v0.8h-27.5zM367.3 401.5h27.5v1.0h-27.5zM367.3 402.5h27.5v1.0h-27.5zM367.3 403.5h27.5v0.8h-27.5zM367.3 404.3h9.2v1.2h-9.2zM367.3 405.5h27.5v1.0h-27.5zM367.3 406.5h27.5v1.2h-27.5zM367.3 407.7h27.5v1.0h-27.5zM367.3 408.7h27.5v1.0h-27.5zM367.3 409.7h27.5v1.0h-27.5zM367.3 410.7h27.5v1.0h-27.5zM367.3 411.7h27.5v0.3h-27.5zM367.3 420.0h27.5v1.2h-27.5zM367.3 421.2h27.5v0.3h-27.5zM399.3 223.5h27.5v1.2h-27.5zM399.3 224.7h27.5v1.2h-27.5zM399.3 225.9h27.5v0.8h-27.5zM399.3 226.7h27.5v0.8h-27.5zM399.3 227.5h27.5v1.0h-27.5zM399.3 228.5h27.5v1.0h-27.5zM399.3 229.5h27.5v1.0h-27.5zM399.3 230.5h27.5v1.2h-27.5zM399.3 231.7h27.5v1.0h-27.5zM399.3 232.7h27.5v1.0h-27.5zM399.3 233.7h27.5v1.0h-27.5zM399.3 234.7h27.5v1.0h-27.5zM399.3 235.7h27.5v1.0h-27.5zM399.3 236.7h27.5v1.2h-27.5zM399.3 237.9h27.5v0.8h-27.5zM399.3 238.7h27.5v1.0h-27.5zM399.3 239.7h27.5v0.8h-27.5zM399.3 240.5h27.5v1.0h-27.5zM399.3 241.5h27.5v0.5h-27.5zM431.1 160.0h27.5v1.2h-27.5zM431.1 161.2h9.2v1.2h-9.2zM431.1 162.4h18.3v1.0h-18.3zM431.1 163.4h27.5v1.0h-27.5zM431.1 164.4h27.5v0.8h-27.5zM431.1 165.2h9.2v0.8h-9.2zM431.1 166.0h27.5v0.8h-27.5zM431.1 166.8h9.2v1.0h-9.2zM449.4 166.8h9.2v1.0h-9.2zM431.1 167.8h27.5v1.0h-27.5zM431.1 168.8h27.5v1.2h-27.5zM431.1 170.0h27.5v0.8h-27.5zM431.1 170.8h27.5v1.0h-27.5zM431.1 171.8h27.5v1.2h-27.5zM431.1 173.0h27.5v0.8h-27.5zM431.1 173.8h27.5v1.0h-27.5zM431.1 174.8h27.5v1.0h-27.5zM431.1 175.8h27.5v1.2h-27.5zM431.1 177.0h27.5v1.0h-27.5zM431.1 178.0h27.5v1.0h-27.5zM431.1 179.0h27.5v1.0h-27.5zM449.4 180.0h9.2v1.0h-9.2zM431.1 181.0h27.5v1.2h-27.5zM431.1 182.2h27.5v1.0h-27.5zM431.1 183.2h27.5v1.2h-27.5zM431.1 184.4h27.5v0.6h-27.5zM431.1 189.7h9.2v2.0h-9.2zM431.1 195.0h27.5v1.0h-27.5zM431.1 196.0h27.5v1.2h-27.5zM431.1 197.2h27.5v1.2h-27.5zM431.1 198.4h27.5v0.2h-27.5zM462.9 67.0h18.3v1.0h-18.3zM462.9 68.0h9.2v1.0h-9.2zM481.2 68.0h9.2v1.0h-9.2zM472.1 69.0h18.3v1.0h-18.3zM481.2 70.0h9.2v1.0h-9.2zM462.9 71.0h9.2v1.0h-9.2zM472.1 72.0h18.3v0.8h-18.3zM472.1 72.8h18.3v0.8h-18.3zM481.2 73.6h9.2v1.2h-9.2zM462.9 74.8h18.3v1.2h-18.3zM462.9 76.0h27.5v1.2h-27.5zM462.9 77.2h9.2v1.0h-9.2zM481.2 77.2h9.2v1.0h-9.2zM462.9 78.2h27.5v1.0h-27.5zM472.1 79.2h18.3v0.8h-18.3zM462.9 80.0h27.5v0.8h-27.5zM462.9 80.8h18.3v1.0h-18.3zM481.2 81.8h9.2v1.0h-9.2zM462.9 82.8h27.5v1.0h-27.5zM462.9 84.6h27.5v1.2h-27.5zM462.9 85.8h9.2v1.0h-9.2zM481.2 86.8h9.2v0.8h-9.2zM462.9 87.6h27.5v1.2h-27.5zM462.9 88.8h27.5v1.0h-27.5zM462.9 89.8h27.5v0.8h-27.5zM462.9 90.6h27.5v1.0h-27.5zM462.9 91.6h27.5v1.2h-27.5zM481.2 93.6h9.2v1.0h-9.2zM462.9 94.6h18.3v1.0h-18.3zM462.9 95.6h27.5v1.0h-27.5zM462.9 96.6h27.5v1.0h-27.5zM462.9 97.6h27.5v0.8h-27.5zM462.9 98.4h27.5v0.8h-27.5zM462.9 99.2h27.5v1.0h-27.5zM462.9 100.2h27.5v1.0h-27.5zM462.9 101.2h27.5v1.0h-27.5zM462.9 102.2h27.5v1.0h-27.5zM462.9 104.2h18.3v1.0h-18.3zM462.9 105.2h9.2v1.2h-9.2zM481.2 105.2h9.2v1.2h-9.2zM472.1 106.4h9.2v1.0h-9.2zM462.9 107.4h27.5v1.0h-27.5zM462.9 108.4h9.2v0.8h-9.2zM481.2 108.4h9.2v0.8h-9.2zM472.1 109.2h18.3v1.0h-18.3zM462.9 110.2h27.5v1.2h-27.5zM472.1 111.4h18.3v0.8h-18.3zM462.9 112.2h27.5v1.0h-27.5zM472.1 113.2h18.3v1.0h-18.3zM462.9 114.2h27.5v1.2h-27.5zM462.9 115.4h27.5v1.0h-27.5zM462.9 116.4h18.3v1.2h-18.3zM462.9 117.6h18.3v1.2h-18.3zM462.9 118.8h27.5v1.0h-27.5zM462.9 119.8h18.3v0.2h-18.3zM462.9 120.0h27.5v1.2h-27.5zM462.9 121.2h27.5v1.0h-27.5zM462.9 122.2h27.5v0.8h-27.5zM462.9 123.0h27.5v0.8h-27.5zM462.9 123.8h27.5v1.2h-27.5zM462.9 125.0h27.5v0.8h-27.5zM462.9 125.8h27.5v1.0h-27.5zM462.9 126.8h27.5v1.2h-27.5zM462.9 128.0h27.5v1.0h-27.5zM462.9 129.0h27.5v1.2h-27.5zM462.9 130.2h27.5v1.0h-27.5zM462.9 131.2h27.5v1.0h-27.5zM462.9 132.2h27.5v1.0h-27.5zM462.9 133.2h27.5v1.2h-27.5zM462.9 134.4h9.2v1.2h-9.2zM481.2 134.4h9.2v1.2h-9.2zM462.9 135.6h27.5v1.2h-27.5zM462.9 136.8h27.5v1.2h-27.5zM462.9 138.0h27.5v0.8h-27.5zM462.9 138.8h27.5v1.2h-27.5zM462.9 140.0h27.5v0.8h-27.5zM472.1 140.8h18.3v1.2h-18.3zM462.9 142.0h27.5v1.0h-27.5zM462.9 143.0h27.5v1.0h-27.5zM462.9 144.0h27.5v1.2h-27.5zM462.9 145.2h27.5v1.0h-27.5zM462.9 146.2h27.5v1.0h-27.5zM462.9 147.2h27.5v0.8h-27.5zM462.9 148.0h27.5v1.2h-27.5zM462.9 149.2h27.5v0.8h-27.5zM462.9 150.0h27.5v1.0h-27.5zM472.1 151.0h18.3v0.8h-18.3zM462.9 151.8h27.5v1.0h-27.5zM462.9 152.8h27.5v1.0h-27.5zM462.9 153.8h27.5v0.8h-27.5zM462.9 154.6h27.5v0.8h-27.5zM462.9 155.4h27.5v1.0h-27.5zM462.9 156.4h18.3v1.2h-18.3zM462.9 157.6h27.5v1.0h-27.5zM462.9 158.6h27.5v1.2h-27.5zM462.9 159.8h27.5v0.2h-27.5zM472.1 207.8h9.2v2.0h-9.2zM472.1 212.3h18.3v1.0h-18.3zM462.9 214.5h27.5v1.0h-27.5zM462.9 218.5h9.2v1.0h-9.2zM481.2 218.5h9.2v1.0h-9.2zM462.9 376.5h27.5v1.0h-27.5zM462.9 377.5h27.5v0.3h-27.5z" fill="#2b86bf" shape-rendering="crispEdges"/>
<path d="M321.9 323.8h9.2v1.5h-9.2zM312.8 325.3h18.3v2.5h-18.3zM303.6 327.8h18.3v2.0h-18.3zM303.6 329.8h27.5v1.2h-27.5zM303.6 338.4h27.5v0.8h-27.5zM303.6 339.2h9.2v1.8h-9.2zM321.9 339.2h9.2v1.8h-9.2zM321.9 397.4h9.2v1.0h-9.2zM303.6 414.0h9.2v1.0h-9.2zM321.9 414.0h9.2v1.0h-9.2zM353.8 331.6h9.2v1.0h-9.2zM335.5 338.8h27.5v1.0h-27.5zM344.7 359.3h18.3v0.7h-18.3zM367.3 199.0h27.5v1.5h-27.5zM376.5 200.5h9.2v2.0h-9.2zM431.1 74.2h9.2v1.0h-9.2zM449.4 74.2h9.2v1.0h-9.2zM431.1 76.0h9.2v1.5h-9.2zM449.4 76.0h9.2v1.5h-9.2zM431.1 80.9h27.5v1.0h-27.5zM431.1 81.9h27.5v0.8h-27.5zM449.4 162.4h9.2v1.0h-9.2zM431.1 186.0h27.5v2.5h-27.5zM431.1 188.5h9.2v1.2h-9.2zM440.3 189.7h18.3v2.0h-18.3zM431.1 198.6h27.5v2.0h-27.5zM431.1 200.6h27.5v2.5h-27.5zM440.3 203.1h18.3v1.0h-18.3zM431.1 210.2h9.2v1.0h-9.2zM449.4 210.2h9.2v1.0h-9.2zM440.3 212.4h9.2v1.0h-9.2zM440.3 213.4h9.2v1.5h-9.2zM431.1 214.9h9.2v0.8h-9.2zM449.4 214.9h9.2v0.8h-9.2zM431.1 219.7h9.2v1.0h-9.2zM472.1 71.0h18.3v1.0h-18.3zM481.2 74.8h9.2v1.2h-9.2zM472.1 85.8h18.3v1.0h-18.3zM462.9 86.8h18.3v0.8h-18.3zM462.9 92.8h9.2v0.8h-9.2zM481.2 92.8h9.2v0.8h-9.2zM462.9 113.2h9.2v1.0h-9.2zM481.2 160.0h9.2v1.2h-9.2zM462.9 161.2h18.3v1.5h-18.3zM462.9 162.7h9.2v2.5h-9.2zM462.9 165.2h9.2v2.5h-9.2zM472.1 173.6h18.3v0.4h-18.3zM481.2 205.3h9.2v2.5h-9.2zM462.9 207.8h9.2v2.0h-9.2zM481.2 207.8h9.2v2.0h-9.2zM462.9 209.8h18.3v2.5h-18.3zM462.9 212.3h9.2v1.0h-9.2zM462.9 213.3h27.5v1.2h-27.5zM472.1 215.5h9.2v1.0h-9.2zM462.9 216.5h27.5v2.0h-27.5zM472.1 218.5h9.2v1.0h-9.2zM462.9 219.5h27.5v1.5h-27.5z" fill="#6fa0d2" shape-rendering="crispEdges"/>
<path d="M312.8 349.0h9.2v0.8h-9.2zM321.9 349.8h9.2v0.8h-9.2zM303.6 350.6h9.2v1.0h-9.2zM303.6 354.8h27.5v1.2h-27.5zM303.6 359.0h9.2v1.0h-9.2zM303.6 362.0h27.5v1.0h-27.5zM303.6 365.8h9.2v1.0h-9.2zM321.9 365.8h9.2v1.0h-9.2zM321.9 375.0h9.2v1.2h-9.2zM321.9 376.2h9.2v1.0h-9.2zM303.6 378.0h27.5v1.2h-27.5zM303.6 382.0h9.2v1.2h-9.2zM321.9 382.0h9.2v1.2h-9.2zM312.8 385.2h9.2v1.2h-9.2zM303.6 389.6h9.2v1.0h-9.2zM335.5 246.4h27.5v1.0h-27.5zM353.8 251.6h9.2v1.0h-9.2zM335.5 256.4h9.2v0.8h-9.2zM344.7 259.2h9.2v1.0h-9.2zM335.5 262.0h9.2v1.0h-9.2zM353.8 262.0h9.2v1.0h-9.2zM344.7 263.0h9.2v0.8h-9.2zM335.5 264.8h18.3v1.0h-18.3zM335.5 266.0h18.3v0.8h-18.3zM344.7 269.4h9.2v0.8h-9.2zM344.7 280.0h9.2v1.2h-9.2zM344.7 283.4h9.2v0.8h-9.2zM344.7 301.8h9.2v1.2h-9.2zM353.8 307.0h9.2v1.2h-9.2zM344.7 311.0h9.2v0.8h-9.2zM376.5 404.3h18.3v1.2h-18.3zM440.3 161.2h9.2v1.2h-9.2zM440.3 165.2h9.2v0.8h-9.2zM440.3 166.8h9.2v1.0h-9.2zM431.1 180.0h18.3v1.0h-18.3zM481.2 67.0h9.2v1.0h-9.2zM462.9 69.0h9.2v1.0h-9.2zM462.9 70.0h18.3v1.0h-18.3zM462.9 72.0h9.2v0.8h-9.2zM462.9 72.8h9.2v0.8h-9.2zM462.9 73.6h18.3v1.2h-18.3zM472.1 77.2h9.2v1.0h-9.2zM462.9 79.2h9.2v0.8h-9.2zM462.9 81.8h18.3v1.0h-18.3zM462.9 83.8h27.5v0.8h-27.5zM472.1 92.8h9.2v0.8h-9.2zM472.1 93.6h9.2v1.0h-9.2zM481.2 94.6h9.2v1.0h-9.2zM462.9 103.2h27.5v1.0h-27.5zM481.2 104.2h9.2v1.0h-9.2zM472.1 105.2h9.2v1.2h-9.2zM462.9 106.4h9.2v1.0h-9.2zM481.2 106.4h9.2v1.0h-9.2zM462.9 111.4h9.2v0.8h-9.2zM481.2 116.4h9.2v1.2h-9.2zM481.2 117.6h9.2v1.2h-9.2zM472.1 134.4h9.2v1.2h-9.2zM462.9 151.0h9.2v0.8h-9.2z" fill="#8cb5dd" shape-rendering="crispEdges"/>
<rect x="499" y="171" width="8.2" height="35.6" fill="#2b82bd"/>
<rect x="499" y="206.6" width="8.2" height="17.4" fill="#a6c0e0"/>
<rect x="499" y="241.8" width="8.2" height="18.2" fill="#f9ed8c"/>
<rect x="499" y="260" width="8.2" height="35.7" fill="#e8e31a"/>
<text x="511" y="175.0" font-size="8.2" fill="#222">4</text>
<text x="511" y="205.0" font-size="8.2" fill="#222">2</text>
<text x="511" y="236.8" font-size="8.2" fill="#222">0</text>
<text x="510.2" y="268.4" font-size="8.2" fill="#222">-2</text>
<text x="510.2" y="299.0" font-size="8.2" fill="#222">-4</text>
<path d="M308.2 65.8L308.2 61.0 M317.4 65.8L317.4 61.4 M326.5 65.8L326.5 61.4 M317.4 61.4L326.5 61.4 M321.9 61.4L321.9 61.0 M308.2 61.0L321.9 61.0 M340.1 65.8L340.1 61.0 M349.2 65.8L349.2 61.4 M358.4 65.8L358.4 61.4 M349.2 61.4L358.4 61.4 M353.8 61.4L353.8 61.0 M340.1 61.0L353.8 61.0 M371.9 65.8L371.9 61.0 M381.1 65.8L381.1 61.4 M390.2 65.8L390.2 61.4 M381.1 61.4L390.2 61.4 M385.6 61.4L385.6 61.0 M371.9 61.0L385.6 61.0 M403.9 65.8L403.9 61.0 M413.1 65.8L413.1 61.4 M422.2 65.8L422.2 61.4 M413.1 61.4L422.2 61.4 M417.6 61.4L417.6 61.0 M403.9 61.0L417.6 61.0 M435.7 65.8L435.7 61.0 M444.9 65.8L444.9 61.4 M454.0 65.8L454.0 61.4 M444.9 61.4L454.0 61.4 M449.4 61.4L449.4 61.0 M435.7 61.0L449.4 61.0 M467.5 65.8L467.5 61.0 M476.6 65.8L476.6 61.4 M485.8 65.8L485.8 61.4 M476.6 61.4L485.8 61.4 M481.2 61.4L481.2 61.0 M467.5 61.0L481.2 61.0 M315.1 61.0L315.1 41.6 M347.0 61.0L347.0 41.6 M315.1 41.6L347.0 41.6 M328.5 41.6L328.5 29.3 M378.8 61.0L378.8 49.5 M410.8 61.0L410.8 49.5 M378.8 49.5L410.8 49.5 M392.5 49.5L392.5 38.0 M442.6 61.0L442.6 49.5 M474.4 61.0L474.4 49.5 M442.6 49.5L474.4 49.5 M456.3 49.5L456.3 38.0 M392.5 38.0L456.3 38.0 M424.5 38.0L424.5 29.3 M328.5 29.3L424.5 29.3" stroke="#262626" stroke-width="1.1" fill="none" stroke-linecap="square"/>
<path d="M298.8 66.2V66.6 M298.8 66.2H303.2 M298.8 66.6H303.2 M301.1 67.1V67.6 M301.1 67.1H303.2 M301.1 67.6H303.2 M297.8 66.4V67.3 M297.8 66.4H298.8 M297.8 67.3H301.1 M301.4 68.7V69.3 M301.4 68.7H303.2 M301.4 69.3H303.2 M294.9 69.0V69.8 M294.9 69.0H301.4 M294.9 69.8H303.2 M293.9 68.1V69.4 M293.9 68.1H303.2 M293.9 69.4H294.9 M292.0 66.9V68.8 M292.0 66.9H297.8 M292.0 68.8H293.9 M292.0 66.2V67.8 M302.4 71.5V72.1 M302.4 71.5H303.2 M302.4 72.1H303.2 M302.3 70.9V71.8 M302.3 70.9H303.2 M302.3 71.8H302.4 M302.2 70.3V71.3 M302.2 70.3H303.2 M302.2 71.3H302.3 M299.6 72.7V73.3 M299.6 72.7H303.2 M299.6 73.3H303.2 M300.4 73.8V74.2 M300.4 73.8H303.2 M300.4 74.2H303.2 M298.0 74.5V74.9 M298.0 74.5H303.2 M298.0 74.9H303.2 M297.1 74.0V74.7 M297.1 74.0H300.4 M297.1 74.7H298.0 M296.1 73.0V74.3 M296.1 73.0H299.6 M296.1 74.3H297.1 M295.2 70.8V73.7 M295.2 70.8H302.2 M295.2 73.7H296.1 M294.3 72.2V75.5 M294.3 72.2H295.2 M294.3 75.5H303.2 M303.2 76.1V76.7 M303.2 76.1H303.2 M303.2 76.7H303.2 M303.2 76.4V77.0 M303.2 76.4H303.2 M303.2 77.0H303.2 M303.1 75.8V76.7 M303.1 75.8H303.2 M303.1 76.7H303.2 M303.0 75.8V76.2 M303.0 75.8H303.2 M303.0 76.2H303.1 M301.7 76.0V77.0 M301.7 76.0H303.0 M301.7 77.0H303.2 M303.0 78.5V79.1 M303.0 78.5H303.2 M303.0 79.1H303.2 M302.8 78.8V79.4 M302.8 78.8H303.0 M302.8 79.4H303.2 M302.3 79.1V79.7 M302.3 79.1H302.8 M302.3 79.7H303.2 M302.2 79.4V80.3 M302.2 79.4H302.3 M302.2 80.3H303.2 M302.4 81.5V82.1 M302.4 81.5H303.2 M302.4 82.1H303.2 M302.3 81.8V82.7 M302.3 81.8H302.4 M302.3 82.7H303.2 M302.2 80.9V82.2 M302.2 80.9H303.2 M302.2 82.2H302.3 M302.9 83.2V83.7 M302.9 83.2H303.2 M302.9 83.7H303.2 M302.9 84.1V84.6 M302.9 84.1H303.2 M302.9 84.6H303.2 M302.8 83.4V84.3 M302.8 83.4H302.9 M302.8 84.3H302.9 M302.0 85.0V85.5 M302.0 85.0H303.2 M302.0 85.5H303.2 M301.8 85.2V86.0 M301.8 85.2H302.0 M301.8 86.0H303.2 M301.5 83.9V85.6 M301.5 83.9H302.8 M301.5 85.6H301.8 M301.3 81.6V84.8 M301.3 81.6H302.2 M301.3 84.8H301.5 M300.8 79.8V83.2 M300.8 79.8H302.2 M300.8 83.2H301.3 M301.3 86.6V87.2 M301.3 86.6H303.2 M301.3 87.2H303.2 M300.1 81.5V86.9 M300.1 81.5H300.8 M300.1 86.9H301.3 M299.4 77.9V84.2 M299.4 77.9H303.2 M299.4 84.2H300.1 M298.4 77.3V81.0 M298.4 77.3H303.2 M298.4 81.0H299.4 M297.3 76.5V79.2 M297.3 76.5H301.7 M297.3 79.2H298.4 M302.1 87.8V88.4 M302.1 87.8H303.2 M302.1 88.4H303.2 M296.6 77.8V88.1 M296.6 77.8H297.3 M296.6 88.1H302.1 M294.9 83.0V89.0 M294.9 83.0H296.6 M294.9 89.0H303.2 M292.5 73.9V86.0 M292.5 73.9H294.3 M292.5 86.0H294.9 M302.6 90.6V91.2 M302.6 90.6H303.2 M302.6 91.2H303.2 M302.5 90.0V90.9 M302.5 90.0H303.2 M302.5 90.9H302.6 M301.1 89.5V90.5 M301.1 89.5H303.2 M301.1 90.5H302.5 M302.9 91.8V92.4 M302.9 91.8H303.2 M302.9 92.4H303.2 M302.9 92.1V93.0 M302.9 92.1H302.9 M302.9 93.0H303.2 M300.8 90.0V92.6 M300.8 90.0H301.1 M300.8 92.6H302.9 M302.9 93.6V94.0 M302.9 93.6H303.2 M302.9 94.0H303.2 M302.8 94.5V94.9 M302.8 94.5H303.2 M302.8 94.9H303.2 M302.7 93.8V94.7 M302.7 93.8H302.9 M302.7 94.7H302.8 M301.9 94.2V95.4 M301.9 94.2H302.7 M301.9 95.4H303.2 M300.4 91.3V94.8 M300.4 91.3H300.8 M300.4 94.8H301.9 M301.8 96.0V96.6 M301.8 96.0H303.2 M301.8 96.6H303.2 M299.8 93.1V96.3 M299.8 93.1H300.4 M299.8 96.3H301.8 M303.1 97.2V97.8 M303.1 97.2H303.2 M303.1 97.8H303.2 M302.9 97.5V98.4 M302.9 97.5H303.1 M302.9 98.4H303.2 M302.4 99.0V99.6 M302.4 99.0H303.2 M302.4 99.6H303.2 M303.1 100.4V101.0 M303.1 100.4H303.2 M303.1 101.0H303.2 M303.0 100.1V100.7 M303.0 100.1H303.2 M303.0 100.7H303.1 M302.9 100.4V101.6 M302.9 100.4H303.0 M302.9 101.6H303.2 M302.0 100.0V101.0 M302.0 100.0H303.2 M302.0 101.0H302.9 M301.8 99.3V100.5 M301.8 99.3H302.4 M301.8 100.5H302.0 M301.6 98.0V99.9 M301.6 98.0H302.9 M301.6 99.9H301.8 M302.9 102.2V102.8 M302.9 102.2H303.2 M302.9 102.8H303.2 M301.1 99.0V102.5 M301.1 99.0H301.6 M301.1 102.5H302.9 M303.2 103.4V104.0 M303.2 103.4H303.2 M303.2 104.0H303.2 M303.0 103.7V104.3 M303.0 103.7H303.2 M303.0 104.3H303.2 M302.8 104.0V104.3 M302.8 104.0H303.0 M302.8 104.3H303.2 M302.3 104.6V105.2 M302.3 104.6H303.2 M302.3 105.2H303.2 M302.3 104.1V104.9 M302.3 104.1H302.8 M302.3 104.9H302.3 M300.9 100.7V104.5 M300.9 100.7H301.1 M300.9 104.5H302.3 M302.3 105.8V106.4 M302.3 105.8H303.2 M302.3 106.4H303.2 M301.9 105.5V106.1 M301.9 105.5H303.2 M301.9 106.1H302.3 M300.4 102.6V105.8 M300.4 102.6H300.9 M300.4 105.8H301.9 M303.0 107.0V107.6 M303.0 107.0H303.2 M303.0 107.6H303.2 M302.9 106.7V107.3 M302.9 106.7H303.2 M302.9 107.3H303.0 M303.1 108.2V108.8 M303.1 108.2H303.2 M303.1 108.8H303.2 M303.1 107.9V108.5 M303.1 107.9H303.2 M303.1 108.5H303.1 M302.8 107.0V108.2 M302.8 107.0H302.9 M302.8 108.2H303.1 M301.3 109.4V109.9 M301.3 109.4H303.2 M301.3 109.9H303.2 M302.8 110.4V111.0 M302.8 110.4H303.2 M302.8 111.0H303.2 M301.2 109.6V110.7 M301.2 109.6H301.3 M301.2 110.7H302.8 M300.9 107.6V110.2 M300.9 107.6H302.8 M300.9 110.2H301.2 M302.6 111.6V112.2 M302.6 111.6H303.2 M302.6 112.2H303.2 M302.4 111.3V111.9 M302.4 111.3H303.2 M302.4 111.9H302.6 M300.3 108.9V111.6 M300.3 108.9H300.9 M300.3 111.6H302.4 M301.2 112.8V113.4 M301.2 112.8H303.2 M301.2 113.4H303.2 M301.1 113.1V114.0 M301.1 113.1H301.2 M301.1 114.0H303.2 M300.7 113.5V114.6 M300.7 113.5H301.1 M300.7 114.6H303.2 M299.6 110.2V114.1 M299.6 110.2H300.3 M299.6 114.1H300.7 M302.1 115.2V115.8 M302.1 115.2H303.2 M302.1 115.8H303.2 M299.3 112.2V115.5 M299.3 112.2H299.6 M299.3 115.5H302.1 M298.3 104.2V113.8 M298.3 104.2H300.4 M298.3 113.8H299.3 M297.1 94.7V109.0 M297.1 94.7H299.8 M297.1 109.0H298.3 M302.3 116.4V117.0 M302.3 116.4H303.2 M302.3 117.0H303.2 M303.1 118.2V118.8 M303.1 118.2H303.2 M303.1 118.8H303.2 M303.0 118.5V119.1 M303.0 118.5H303.1 M303.0 119.1H303.2 M302.9 117.9V118.8 M302.9 117.9H303.2 M302.9 118.8H303.0 M302.9 117.6V118.3 M302.9 117.6H303.2 M302.9 118.3H302.9 M302.9 119.4V120.0 M302.9 119.4H303.2 M302.9 120.0H303.2 M302.8 119.7V120.6 M302.8 119.7H302.9 M302.8 120.6H303.2 M302.2 122.4V123.0 M302.2 122.4H303.2 M302.2 123.0H303.2 M302.0 121.8V122.7 M302.0 121.8H303.2 M302.0 122.7H302.2 M301.8 121.2V122.2 M301.8 121.2H303.2 M301.8 122.2H302.0 M301.7 120.1V121.7 M301.7 120.1H302.8 M301.7 121.7H301.8 M302.9 123.6V124.2 M302.9 123.6H303.2 M302.9 124.2H303.2 M302.5 123.3V123.9 M302.5 123.3H303.2 M302.5 123.9H302.9 M301.6 120.9V123.6 M301.6 120.9H301.7 M301.6 123.6H302.5 M301.3 122.2V124.8 M301.3 122.2H301.6 M301.3 124.8H303.2 M301.0 118.0V123.5 M301.0 118.0H302.9 M301.0 123.5H301.3 M300.4 116.7V120.7 M300.4 116.7H302.3 M300.4 120.7H301.0 M302.7 128.4V129.0 M302.7 128.4H303.2 M302.7 129.0H303.2 M302.4 129.5V130.0 M302.4 129.5H303.2 M302.4 130.0H303.2 M302.4 128.7V129.7 M302.4 128.7H302.7 M302.4 129.7H302.4 M302.3 127.8V129.2 M302.3 127.8H303.2 M302.3 129.2H302.4 M302.2 127.2V128.5 M302.2 127.2H303.2 M302.2 128.5H302.3 M302.7 130.5V131.1 M302.7 130.5H303.2 M302.7 131.1H303.2 M302.0 127.8V130.8 M302.0 127.8H302.2 M302.0 130.8H302.7 M301.8 126.6V129.3 M301.8 126.6H303.2 M301.8 129.3H302.0 M302.8 131.6V132.1 M302.8 131.6H303.2 M302.8 132.1H303.2 M302.6 132.5V132.9 M302.6 132.5H303.2 M302.6 132.9H303.2 M302.4 131.9V132.7 M302.4 131.9H302.8 M302.4 132.7H302.6 M301.6 127.9V132.3 M301.6 127.9H301.8 M301.6 132.3H302.4 M303.1 134.7V135.3 M303.1 134.7H303.2 M303.1 135.3H303.2 M303.1 134.1V135.0 M303.1 134.1H303.2 M303.1 135.0H303.1 M302.0 134.6V135.6 M302.0 134.6H303.1 M302.0 135.6H303.2 M301.9 133.5V135.1 M301.9 133.5H303.2 M301.9 135.1H302.0 M301.4 130.1V134.3 M301.4 130.1H301.6 M301.4 134.3H301.9 M300.9 126.0V132.2 M300.9 126.0H303.2 M300.9 132.2H301.4 M300.7 125.4V129.1 M300.7 125.4H303.2 M300.7 129.1H300.9 M299.6 118.7V127.2 M299.6 118.7H300.4 M299.6 127.2H300.7 M301.3 135.9V136.5 M301.3 135.9H303.2 M301.3 136.5H303.2 M302.4 137.1V137.7 M302.4 137.1H303.2 M302.4 137.7H303.2 M302.5 138.3V138.9 M302.5 138.3H303.2 M302.5 138.9H303.2 M302.2 137.4V138.6 M302.2 137.4H302.4 M302.2 138.6H302.5 M302.3 139.4V139.9 M302.3 139.4H303.2 M302.3 139.9H303.2 M301.5 140.4V140.8 M301.5 140.4H303.2 M301.5 140.8H303.2 M301.4 139.6V140.6 M301.4 139.6H302.3 M301.4 140.6H301.5 M302.8 141.2V141.8 M302.8 141.2H303.2 M302.8 141.8H303.2 M300.9 140.1V141.5 M300.9 140.1H301.4 M300.9 141.5H302.8 M301.7 142.4V143.0 M301.7 142.4H303.2 M301.7 143.0H303.2 M300.7 140.8V142.7 M300.7 140.8H300.9 M300.7 142.7H301.7 M300.5 138.0V141.8 M300.5 138.0H302.2 M300.5 141.8H300.7 M300.0 139.9V143.6 M300.0 139.9H300.5 M300.0 143.6H303.2 M301.5 144.2V144.8 M301.5 144.2H303.2 M301.5 144.8H303.2 M299.4 141.8V144.5 M299.4 141.8H300.0 M299.4 144.5H301.5 M298.6 136.2V143.1 M298.6 136.2H301.3 M298.6 143.1H299.4 M301.8 145.4V146.0 M301.8 145.4H303.2 M301.8 146.0H303.2 M298.1 139.7V145.7 M298.1 139.7H298.6 M298.1 145.7H301.8 M297.1 123.0V142.7 M297.1 123.0H299.6 M297.1 142.7H298.1 M295.2 101.9V132.8 M295.2 101.9H297.1 M295.2 132.8H297.1 M302.2 146.6V147.2 M302.2 146.6H303.2 M302.2 147.2H303.2 M302.2 149.0V149.6 M302.2 149.0H303.2 M302.2 149.6H303.2 M302.8 152.0V152.6 M302.8 152.0H303.2 M302.8 152.6H303.2 M302.8 152.3V153.2 M302.8 152.3H302.8 M302.8 153.2H303.2 M302.4 153.7V154.1 M302.4 153.7H303.2 M302.4 154.1H303.2 M302.2 152.8V153.9 M302.2 152.8H302.8 M302.2 153.9H302.4 M302.1 151.4V153.3 M302.1 151.4H303.2 M302.1 153.3H302.2 M301.9 150.8V152.4 M301.9 150.8H303.2 M301.9 152.4H302.1 M301.7 150.2V151.6 M301.7 150.2H303.2 M301.7 151.6H301.9 M301.4 149.3V150.9 M301.4 149.3H302.2 M301.4 150.9H301.7 M302.6 154.7V155.3 M302.6 154.7H303.2 M302.6 155.3H303.2 M301.3 150.1V155.0 M301.3 150.1H301.4 M301.3 155.0H302.6 M301.0 148.4V152.6 M301.0 148.4H303.2 M301.0 152.6H301.3 M300.8 150.5V155.9 M300.8 150.5H301.0 M300.8 155.9H303.2 M300.6 147.8V153.2 M300.6 147.8H303.2 M300.6 153.2H300.8 M301.7 156.5V157.1 M301.7 156.5H303.2 M301.7 157.1H303.2 M300.2 150.5V156.8 M300.2 150.5H300.6 M300.2 156.8H301.7 M299.6 146.9V153.7 M299.6 146.9H302.2 M299.6 153.7H300.2 M302.4 158.3V158.9 M302.4 158.3H303.2 M302.4 158.9H303.2 M301.9 159.5V160.0 M301.9 159.5H303.2 M301.9 160.0H303.2 M303.0 161.1V161.7 M303.0 161.1H303.2 M303.0 161.7H303.2 M302.7 160.5V161.4 M302.7 160.5H303.2 M302.7 161.4H303.0 M301.6 159.7V161.0 M301.6 159.7H301.9 M301.6 161.0H302.7 M301.4 158.6V160.3 M301.4 158.6H302.4 M301.4 160.3H301.6 M300.9 159.5V162.3 M300.9 159.5H301.4 M300.9 162.3H303.2 M300.6 157.7V160.9 M300.6 157.7H303.2 M300.6 160.9H300.9 M300.4 159.3V162.9 M300.4 159.3H300.6 M300.4 162.9H303.2 M299.7 161.1V163.5 M299.7 161.1H300.4 M299.7 163.5H303.2 M302.3 164.1V164.7 M302.3 164.1H303.2 M302.3 164.7H303.2 M299.2 162.3V164.4 M299.2 162.3H299.7 M299.2 164.4H302.3 M297.4 150.3V163.3 M297.4 150.3H299.6 M297.4 163.3H299.2 M293.5 117.3V156.8 M293.5 117.3H295.2 M293.5 156.8H297.4 M286.0 79.9V137.1 M286.0 79.9H292.5 M286.0 137.1H293.5 M286.0 108.5V114.5 M282.5 66.2V114.5 M282.5 66.2H292.0 M282.5 114.5H286.0 M302.1 165.9V166.5 M302.1 165.9H303.2 M302.1 166.5H303.2 M297.2 165.3V166.2 M297.2 165.3H303.2 M297.2 166.2H302.1 M297.4 167.1V167.7 M297.4 167.1H303.2 M297.4 167.7H303.2 M301.1 168.3V168.9 M301.1 168.3H303.2 M301.1 168.9H303.2 M296.0 167.4V168.6 M296.0 167.4H297.4 M296.0 168.6H301.1 M302.8 169.5V170.1 M302.8 169.5H303.2 M302.8 170.1H303.2 M302.0 169.8V170.7 M302.0 169.8H302.8 M302.0 170.7H303.2 M299.8 171.2V171.6 M299.8 171.2H303.2 M299.8 171.6H303.2 M299.1 171.4V172.1 M299.1 171.4H299.8 M299.1 172.1H303.2 M298.7 171.7V172.7 M298.7 171.7H299.1 M298.7 172.7H303.2 M299.5 173.3V173.9 M299.5 173.3H303.2 M299.5 173.9H303.2 M297.5 172.2V173.6 M297.5 172.2H298.7 M297.5 173.6H299.5 M296.8 172.9V174.5 M296.8 172.9H297.5 M296.8 174.5H303.2 M301.4 175.7V176.3 M301.4 175.7H303.2 M301.4 176.3H303.2 M301.1 175.1V176.0 M301.1 175.1H303.2 M301.1 176.0H301.4 M300.8 175.5V176.9 M300.8 175.5H301.1 M300.8 176.9H303.2 M295.0 173.7V176.2 M295.0 173.7H296.8 M295.0 176.2H300.8 M293.3 170.2V174.9 M293.3 170.2H302.0 M293.3 174.9H295.0 M292.5 168.0V172.6 M292.5 168.0H296.0 M292.5 172.6H293.3 M291.8 165.8V170.3 M291.8 165.8H297.2 M291.8 170.3H292.5 M296.8 177.5V178.1 M296.8 177.5H303.2 M296.8 178.1H303.2 M299.4 179.3V179.9 M299.4 179.3H303.2 M299.4 179.9H303.2 M299.8 181.1V181.7 M299.8 181.1H303.2 M299.8 181.7H303.2 M299.0 182.3V182.9 M299.0 182.3H303.2 M299.0 182.9H303.2 M299.4 183.4V184.0 M299.4 183.4H303.2 M299.4 184.0H303.2 M300.0 184.6V185.1 M300.0 184.6H303.2 M300.0 185.1H303.2 M298.6 183.7V184.9 M298.6 183.7H299.4 M298.6 184.9H300.0 M299.5 185.7V186.3 M299.5 185.7H303.2 M299.5 186.3H303.2 M297.5 184.3V186.0 M297.5 184.3H298.6 M297.5 186.0H299.5 M296.5 182.6V185.1 M296.5 182.6H299.0 M296.5 185.1H297.5 M295.1 181.4V183.8 M295.1 181.4H299.8 M295.1 183.8H296.5 M294.3 180.5V182.6 M294.3 180.5H303.2 M294.3 182.6H295.1 M300.1 187.5V188.1 M300.1 187.5H303.2 M300.1 188.1H303.2 M299.8 186.9V187.8 M299.8 186.9H303.2 M299.8 187.8H300.1 M299.3 187.3V188.7 M299.3 187.3H299.8 M299.3 188.7H303.2 M292.7 181.5V188.0 M292.7 181.5H294.3 M292.7 188.0H299.3 M291.8 179.6V184.8 M291.8 179.6H299.4 M291.8 184.8H292.7 M290.9 178.7V182.2 M290.9 178.7H303.2 M290.9 182.2H291.8 M288.0 180.4V189.3 M288.0 180.4H290.9 M288.0 189.3H303.2 M286.8 177.8V184.9 M286.8 177.8H296.8 M286.8 184.9H288.0 M295.5 189.9V190.5 M295.5 189.9H303.2 M295.5 190.5H303.2 M298.3 191.1V191.7 M298.3 191.1H303.2 M298.3 191.7H303.2 M294.3 190.2V191.4 M294.3 190.2H295.5 M294.3 191.4H298.3 M285.6 181.3V190.8 M285.6 181.3H286.8 M285.6 190.8H294.3 M283.0 168.0V186.1 M283.0 168.0H291.8 M283.0 186.1H285.6 M283.0 172.9V177.0 M299.3 192.8V193.1 M299.3 192.8H303.2 M299.3 193.1H303.2 M301.8 193.5V193.8 M301.8 193.5H303.2 M301.8 193.8H303.2 M298.6 192.9V193.6 M298.6 192.9H299.3 M298.6 193.6H301.8 M297.8 192.3V193.3 M297.8 192.3H303.2 M297.8 193.3H298.6 M302.8 194.3V194.9 M302.8 194.3H303.2 M302.8 194.9H303.2 M301.4 194.6V195.5 M301.4 194.6H302.8 M301.4 195.5H303.2 M297.0 192.8V195.0 M297.0 192.8H297.8 M297.0 195.0H301.4 M301.1 196.1V196.7 M301.1 196.1H303.2 M301.1 196.7H303.2 M301.7 197.9V198.5 M301.7 197.9H303.2 M301.7 198.5H303.2 M302.3 199.1V199.7 M302.3 199.1H303.2 M302.3 199.7H303.2 M302.7 202.1V202.7 M302.7 202.1H303.2 M302.7 202.7H303.2 M302.7 201.5V202.4 M302.7 201.5H303.2 M302.7 202.4H302.7 M302.4 203.0V203.3 M302.4 203.0H303.2 M302.4 203.3H303.2 M302.2 201.9V203.1 M302.2 201.9H302.7 M302.2 203.1H302.4 M302.0 202.5V203.9 M302.0 202.5H302.2 M302.0 203.9H303.2 M301.9 200.9V203.2 M301.9 200.9H303.2 M301.9 203.2H302.0 M301.6 200.3V202.0 M301.6 200.3H303.2 M301.6 202.0H301.9 M301.4 199.4V201.2 M301.4 199.4H302.3 M301.4 201.2H301.6 M303.0 204.5V205.1 M303.0 204.5H303.2 M303.0 205.1H303.2 M302.9 205.7V206.3 M302.9 205.7H303.2 M302.9 206.3H303.2 M302.8 204.8V206.0 M302.8 204.8H303.0 M302.8 206.0H302.9 M302.2 204.2V205.4 M302.2 204.2H303.2 M302.2 205.4H302.8 M301.2 200.3V204.8 M301.2 200.3H301.4 M301.2 204.8H302.2 M300.8 198.2V202.5 M300.8 198.2H301.7 M300.8 202.5H301.2 M301.4 206.9V207.5 M301.4 206.9H303.2 M301.4 207.5H303.2 M300.6 200.3V207.2 M300.6 200.3H300.8 M300.6 207.2H301.4 M301.4 208.1V208.7 M301.4 208.1H303.2 M301.4 208.7H303.2 M300.3 203.8V208.4 M300.3 203.8H300.6 M300.3 208.4H301.4 M299.6 197.3V206.1 M299.6 197.3H303.2 M299.6 206.1H300.3 M299.1 201.7V209.3 M299.1 201.7H299.6 M299.1 209.3H303.2 M298.9 196.4V205.5 M298.9 196.4H301.1 M298.9 205.5H299.1 M298.2 200.9V209.9 M298.2 200.9H298.9 M298.2 209.9H303.2 M294.4 193.9V205.4 M294.4 193.9H297.0 M294.4 205.4H298.2 M301.5 210.5V211.1 M301.5 210.5H303.2 M301.5 211.1H303.2 M300.3 211.6V212.0 M300.3 211.6H303.2 M300.3 212.0H303.2 M299.5 211.8V212.5 M299.5 211.8H300.3 M299.5 212.5H303.2 M298.6 212.2V213.1 M298.6 212.2H299.5 M298.6 213.1H303.2 M297.7 212.6V213.7 M297.7 212.6H298.6 M297.7 213.7H303.2 M301.6 214.3V214.9 M301.6 214.3H303.2 M301.6 214.9H303.2 M297.1 213.2V214.6 M297.1 213.2H297.7 M297.1 214.6H301.6 M296.6 210.8V213.9 M296.6 210.8H301.5 M296.6 213.9H297.1 M292.4 199.7V212.3 M292.4 199.7H294.4 M292.4 212.3H296.6 M299.2 216.1V216.7 M299.2 216.1H303.2 M299.2 216.7H303.2 M296.2 215.5V216.4 M296.2 215.5H303.2 M296.2 216.4H299.2 M300.9 217.9V218.5 M300.9 217.9H303.2 M300.9 218.5H303.2 M295.5 218.9V219.2 M295.5 218.9H303.2 M295.5 219.2H303.2 M299.7 219.7V220.0 M299.7 219.7H303.2 M299.7 220.0H303.2 M294.8 219.0V219.9 M294.8 219.0H295.5 M294.8 219.9H299.7 M293.9 218.2V219.4 M293.9 218.2H300.9 M293.9 219.4H294.8 M300.4 220.5V221.1 M300.4 220.5H303.2 M300.4 221.1H303.2 M295.9 220.8V221.7 M295.9 220.8H300.4 M295.9 221.7H303.2 M292.1 218.8V221.2 M292.1 218.8H293.9 M292.1 221.2H295.9 M289.9 217.3V220.0 M289.9 217.3H303.2 M289.9 220.0H292.1 M287.7 216.0V218.7 M287.7 216.0H296.2 M287.7 218.7H289.9 M285.0 206.0V217.3 M285.0 206.0H292.4 M285.0 217.3H287.7 M285.0 203.0V211.7 M277.8 172.9V203.0 M277.8 172.9H283.0 M277.8 203.0H285.0 M270.2 79.8V187.8 M270.2 79.8H282.5 M270.2 187.8H277.8 M297.4 222.3V222.9 M297.4 222.3H303.2 M297.4 222.9H303.2 M301.0 223.5V224.1 M301.0 223.5H303.2 M301.0 224.1H303.2 M303.1 224.7V225.3 M303.1 224.7H303.2 M303.1 225.3H303.2 M302.5 225.0V225.9 M302.5 225.0H303.1 M302.5 225.9H303.2 M301.0 225.4V226.5 M301.0 225.4H302.5 M301.0 226.5H303.2 M299.0 227.1V227.7 M299.0 227.1H303.2 M299.0 227.7H303.2 M297.8 228.8V229.1 M297.8 228.8H303.2 M297.8 229.1H303.2 M301.2 229.6V230.0 M301.2 229.6H303.2 M301.2 230.0H303.2 M296.7 228.9V229.8 M296.7 228.9H297.8 M296.7 229.8H301.2 M295.8 228.3V229.4 M295.8 228.3H303.2 M295.8 229.4H296.7 M295.1 227.4V228.8 M295.1 227.4H299.0 M295.1 228.8H295.8 M294.3 226.0V228.1 M294.3 226.0H301.0 M294.3 228.1H295.1 M293.6 227.0V230.3 M293.6 227.0H294.3 M293.6 230.3H303.2 M292.0 223.8V228.7 M292.0 223.8H301.0 M292.0 228.7H293.6 M296.8 230.9V231.5 M296.8 230.9H303.2 M296.8 231.5H303.2 M291.0 226.2V231.2 M291.0 226.2H292.0 M291.0 231.2H296.8 M289.0 222.6V228.7 M289.0 222.6H297.4 M289.0 228.7H291.0 M295.7 232.1V232.7 M295.7 232.1H303.2 M295.7 232.7H303.2 M288.0 225.7V232.4 M288.0 225.7H289.0 M288.0 232.4H295.7 M288.0 229.0V229.7 M300.8 233.3V233.9 M300.8 233.3H303.2 M300.8 233.9H303.2 M301.8 234.5V235.1 M301.8 234.5H303.2 M301.8 235.1H303.2 M300.9 235.7V236.3 M300.9 235.7H303.2 M300.9 236.3H303.2 M301.2 237.5V238.1 M301.2 237.5H303.2 M301.2 238.1H303.2 M300.9 236.9V237.8 M300.9 236.9H303.2 M300.9 237.8H301.2 M303.0 239.9V240.5 M303.0 239.9H303.2 M303.0 240.5H303.2 M302.8 239.3V240.2 M302.8 239.3H303.2 M302.8 240.2H303.0 M302.6 239.0V239.8 M302.6 239.0H303.2 M302.6 239.8H302.8 M301.3 238.7V239.4 M301.3 238.7H303.2 M301.3 239.4H302.6 M296.6 239.0V240.8 M296.6 239.0H301.3 M296.6 240.8H303.2 M295.2 237.3V239.9 M295.2 237.3H300.9 M295.2 239.9H296.6 M294.3 236.0V238.6 M294.3 236.0H300.9 M294.3 238.6H295.2 M292.9 234.8V237.3 M292.9 234.8H301.8 M292.9 237.3H294.3 M300.2 241.1V241.7 M300.2 241.1H303.2 M300.2 241.7H303.2 M292.1 236.1V241.4 M292.1 236.1H292.9 M292.1 241.4H300.2 M289.0 233.6V238.7 M289.0 233.6H300.8 M289.0 238.7H292.1 M289.0 236.2V239.6 M278.7 229.7V239.6 M278.7 229.7H288.0 M278.7 239.6H289.0 M302.3 243.5V244.1 M302.3 243.5H303.2 M302.3 244.1H303.2 M302.8 244.7V245.3 M302.8 244.7H303.2 M302.8 245.3H303.2 M302.1 243.8V245.0 M302.1 243.8H302.3 M302.1 245.0H302.8 M302.9 245.9V246.5 M302.9 245.9H303.2 M302.9 246.5H303.2 M302.5 245.6V246.2 M302.5 245.6H303.2 M302.5 246.2H302.9 M302.5 245.9V247.1 M302.5 245.9H302.5 M302.5 247.1H303.2 M298.7 247.6V248.0 M298.7 247.6H303.2 M298.7 248.0H303.2 M298.0 247.8V248.5 M298.0 247.8H298.7 M298.0 248.5H303.2 M296.8 246.5V248.2 M296.8 246.5H302.5 M296.8 248.2H298.0 M295.7 244.4V247.3 M295.7 244.4H302.1 M295.7 247.3H296.8 M299.1 249.1V249.7 M299.1 249.1H303.2 M299.1 249.7H303.2 M293.9 245.9V249.4 M293.9 245.9H295.7 M293.9 249.4H299.1 M292.8 242.9V247.6 M292.8 242.9H303.2 M292.8 247.6H293.9 M290.0 242.3V245.3 M290.0 242.3H303.2 M290.0 245.3H292.8 M290.0 242.5V243.8 M303.0 251.5V252.1 M303.0 251.5H303.2 M303.0 252.1H303.2 M302.7 251.8V252.4 M302.7 251.8H303.0 M302.7 252.4H303.2 M302.6 252.1V252.7 M302.6 252.1H302.7 M302.6 252.7H303.2 M302.4 252.4V253.0 M302.4 252.4H302.6 M302.4 253.0H303.2 M300.5 252.7V253.0 M300.5 252.7H302.4 M300.5 253.0H303.2 M302.0 253.3V253.9 M302.0 253.3H303.2 M302.0 253.9H303.2 M302.1 254.5V255.1 M302.1 254.5H303.2 M302.1 255.1H303.2 M302.3 255.7V256.3 M302.3 255.7H303.2 M302.3 256.3H303.2 M301.8 254.8V256.0 M301.8 254.8H302.1 M301.8 256.0H302.3 M302.3 256.9V257.5 M302.3 256.9H303.2 M302.3 257.5H303.2 M302.1 257.2V258.1 M302.1 257.2H302.3 M302.1 258.1H303.2 M300.7 257.6V258.7 M300.7 257.6H302.1 M300.7 258.7H303.2 M300.4 255.4V258.2 M300.4 255.4H301.8 M300.4 258.2H300.7 M302.7 259.2V259.8 M302.7 259.2H303.2 M302.7 259.8H303.2 M302.6 260.4V261.0 M302.6 260.4H303.2 M302.6 261.0H303.2 M302.5 259.5V260.7 M302.5 259.5H302.7 M302.5 260.7H302.6 M299.8 256.8V260.1 M299.8 256.8H300.4 M299.8 260.1H302.5 M301.4 261.6V262.2 M301.4 261.6H303.2 M301.4 262.2H303.2 M299.1 258.4V261.9 M299.1 258.4H299.8 M299.1 261.9H301.4 M298.3 253.6V260.2 M298.3 253.6H302.0 M298.3 260.2H299.1 M299.4 262.8V263.4 M299.4 262.8H303.2 M299.4 263.4H303.2 M296.9 256.9V263.1 M296.9 256.9H298.3 M296.9 263.1H299.4 M296.3 260.0V264.0 M296.3 260.0H296.9 M296.3 264.0H303.2 M295.0 252.8V262.0 M295.0 252.8H300.5 M295.0 262.0H296.3 M293.2 250.9V257.4 M293.2 250.9H303.2 M293.2 257.4H295.0 M298.5 264.6V265.2 M298.5 264.6H303.2 M298.5 265.2H303.2 M292.0 254.2V264.9 M292.0 254.2H293.2 M292.0 264.9H298.5 M290.9 250.3V259.5 M290.9 250.3H303.2 M290.9 259.5H292.0 M299.9 265.8V266.4 M299.9 265.8H303.2 M299.9 266.4H303.2 M300.1 267.6V268.2 M300.1 267.6H303.2 M300.1 268.2H303.2 M296.3 267.9V268.8 M296.3 267.9H300.1 M296.3 268.8H303.2 M295.3 267.0V268.3 M295.3 267.0H303.2 M295.3 268.3H296.3 M293.7 267.7V269.3 M293.7 267.7H295.3 M293.7 269.3H303.2 M296.7 269.9V270.5 M296.7 269.9H303.2 M296.7 270.5H303.2 M300.8 271.1V271.7 M300.8 271.1H303.2 M300.8 271.7H303.2 M296.2 270.2V271.4 M296.2 270.2H296.7 M296.2 271.4H300.8 M292.1 268.5V270.8 M292.1 268.5H293.7 M292.1 270.8H296.2 M290.5 266.1V269.7 M290.5 266.1H299.9 M290.5 269.7H292.1 M288.4 254.9V267.9 M288.4 254.9H290.9 M288.4 267.9H290.5 M301.2 272.3V272.9 M301.2 272.3H303.2 M301.2 272.9H303.2 M297.2 273.5V274.1 M297.2 273.5H303.2 M297.2 274.1H303.2 M296.3 272.6V273.8 M296.3 272.6H301.2 M296.3 273.8H297.2 M301.8 275.3V275.9 M301.8 275.3H303.2 M301.8 275.9H303.2 M298.9 274.7V275.6 M298.9 274.7H303.2 M298.9 275.6H301.8 M299.9 277.1V277.7 M299.9 277.1H303.2 M299.9 277.7H303.2 M298.0 277.4V278.3 M298.0 277.4H299.9 M298.0 278.3H303.2 M299.4 278.9V279.5 M299.4 278.9H303.2 M299.4 279.5H303.2 M302.3 280.1V280.7 M302.3 280.1H303.2 M302.3 280.7H303.2 M300.2 281.3V281.7 M300.2 281.3H303.2 M300.2 281.7H303.2 M299.3 280.4V281.5 M299.3 280.4H302.3 M299.3 281.5H300.2 M300.3 282.1V282.7 M300.3 282.1H303.2 M300.3 282.7H303.2 M298.8 281.0V282.4 M298.8 281.0H299.3 M298.8 282.4H300.3 M300.2 283.3V283.9 M300.2 283.3H303.2 M300.2 283.9H303.2 M298.1 281.7V283.6 M298.1 281.7H298.8 M298.1 283.6H300.2 M302.1 285.1V285.7 M302.1 285.1H303.2 M302.1 285.7H303.2 M300.5 284.5V285.4 M300.5 284.5H303.2 M300.5 285.4H302.1 M297.3 282.6V284.9 M297.3 282.6H298.1 M297.3 284.9H300.5 M296.4 279.2V283.8 M296.4 279.2H299.4 M296.4 283.8H297.3 M295.8 277.9V281.5 M295.8 277.9H298.0 M295.8 281.5H296.4 M294.4 276.5V279.7 M294.4 276.5H303.2 M294.4 279.7H295.8 M292.2 275.2V278.1 M292.2 275.2H298.9 M292.2 278.1H294.4 M289.5 273.2V276.6 M289.5 273.2H296.3 M289.5 276.6H292.2 M286.0 261.4V274.9 M286.0 261.4H288.4 M286.0 274.9H289.5 M286.0 257.0V268.2 M295.7 286.9V287.5 M295.7 286.9H303.2 M295.7 287.5H303.2 M295.0 286.3V287.2 M295.0 286.3H303.2 M295.0 287.2H295.7 M302.3 288.7V289.3 M302.3 288.7H303.2 M302.3 289.3H303.2 M301.6 288.1V289.0 M301.6 288.1H303.2 M301.6 289.0H302.3 M301.0 290.5V291.1 M301.0 290.5H303.2 M301.0 291.1H303.2 M299.2 289.9V290.8 M299.2 289.9H303.2 M299.2 290.8H301.0 M298.4 290.3V291.7 M298.4 290.3H299.2 M298.4 291.7H303.2 M302.3 292.3V292.9 M302.3 292.3H303.2 M302.3 292.9H303.2 M301.5 292.6V293.5 M301.5 292.6H302.3 M301.5 293.5H303.2 M302.6 294.1V294.6 M302.6 294.1H303.2 M302.6 294.6H303.2 M299.5 295.2V295.8 M299.5 295.2H303.2 M299.5 295.8H303.2 M298.9 294.4V295.5 M298.9 294.4H302.6 M298.9 295.5H299.5 M297.9 294.9V296.4 M297.9 294.9H298.9 M297.9 296.4H303.2 M297.5 293.0V295.6 M297.5 293.0H301.5 M297.5 295.6H297.9 M296.2 294.3V297.0 M296.2 294.3H297.5 M296.2 297.0H303.2 M301.3 297.6V298.2 M301.3 297.6H303.2 M301.3 298.2H303.2 M295.2 295.7V297.9 M295.2 295.7H296.2 M295.2 297.9H301.3 M294.5 291.0V296.8 M294.5 291.0H298.4 M294.5 296.8H295.2 M292.1 288.6V293.9 M292.1 288.6H301.6 M292.1 293.9H294.5 M290.2 286.8V291.2 M290.2 286.8H295.0 M290.2 291.2H292.1 M297.2 298.8V299.3 M297.2 298.8H303.2 M297.2 299.3H303.2 M301.7 299.9V300.5 M301.7 299.9H303.2 M301.7 300.5H303.2 M301.4 300.2V301.1 M301.4 300.2H301.7 M301.4 301.1H303.2 M296.2 299.0V300.7 M296.2 299.0H297.2 M296.2 300.7H301.4 M294.9 299.9V301.7 M294.9 299.9H296.2 M294.9 301.7H303.2 M299.9 302.9V303.5 M299.9 302.9H303.2 M299.9 303.5H303.2 M299.5 303.2V304.1 M299.5 303.2H299.9 M299.5 304.1H303.2 M297.9 302.3V303.7 M297.9 302.3H303.2 M297.9 303.7H299.5 M293.2 300.8V303.0 M293.2 300.8H294.9 M293.2 303.0H297.9 M299.5 305.3V305.9 M299.5 305.3H303.2 M299.5 305.9H303.2 M299.0 304.7V305.6 M299.0 304.7H303.2 M299.0 305.6H299.5 M298.3 305.2V306.5 M298.3 305.2H299.0 M298.3 306.5H303.2 M302.1 307.1V307.7 M302.1 307.1H303.2 M302.1 307.7H303.2 M301.1 307.4V308.3 M301.1 307.4H302.1 M301.1 308.3H303.2 M300.7 309.4V310.0 M300.7 309.4H303.2 M300.7 310.0H303.2 M299.4 308.9V309.7 M299.4 308.9H303.2 M299.4 309.7H300.7 M300.0 310.6V311.2 M300.0 310.6H303.2 M300.0 311.2H303.2 M298.4 309.3V310.9 M298.4 309.3H299.4 M298.4 310.9H300.0 M297.1 307.9V310.1 M297.1 307.9H301.1 M297.1 310.1H298.4 M295.5 305.9V309.0 M295.5 305.9H298.3 M295.5 309.0H297.1 M301.5 312.9V313.4 M301.5 312.9H303.2 M301.5 313.4H303.2 M303.0 313.9V314.5 M303.0 313.9H303.2 M303.0 314.5H303.2 M302.9 314.2V315.1 M302.9 314.2H303.0 M302.9 315.1H303.2 M302.9 314.7V315.7 M302.9 314.7H302.9 M302.9 315.7H303.2 M301.4 313.1V315.2 M301.4 313.1H301.5 M301.4 315.2H302.9 M301.1 312.4V314.2 M301.1 312.4H303.2 M301.1 314.2H301.4 M300.5 311.8V313.3 M300.5 311.8H303.2 M300.5 313.3H301.1 M301.8 316.3V316.9 M301.8 316.3H303.2 M301.8 316.9H303.2 M300.0 312.5V316.6 M300.0 312.5H300.5 M300.0 316.6H301.8 M301.2 317.5V318.1 M301.2 317.5H303.2 M301.2 318.1H303.2 M300.9 317.8V318.7 M300.9 317.8H301.2 M300.9 318.7H303.2 M299.3 314.6V318.2 M299.3 314.6H300.0 M299.3 318.2H300.9 M300.6 319.3V319.9 M300.6 319.3H303.2 M300.6 319.9H303.2 M298.6 316.4V319.6 M298.6 316.4H299.3 M298.6 319.6H300.6 M297.7 318.0V320.5 M297.7 318.0H298.6 M297.7 320.5H303.2 M301.4 321.1V321.7 M301.4 321.1H303.2 M301.4 321.7H303.2 M296.6 319.3V321.4 M296.6 319.3H297.7 M296.6 321.4H301.4 M293.8 307.4V320.3 M293.8 307.4H295.5 M293.8 320.3H296.6 M290.7 301.9V313.9 M290.7 301.9H293.2 M290.7 313.9H293.8 M285.0 289.0V307.9 M285.0 289.0H290.2 M285.0 307.9H290.7 M285.0 298.4V313.0 M282.0 257.0V313.0 M282.0 257.0H286.0 M282.0 313.0H285.0 M275.4 242.5V284.9 M275.4 242.5H290.0 M275.4 284.9H282.0 M268.3 234.7V262.8 M268.3 234.7H278.7 M268.3 262.8H275.4 M296.0 322.3V322.9 M296.0 322.3H303.2 M296.0 322.9H303.2 M299.6 323.5V324.1 M299.6 323.5H303.2 M299.6 324.1H303.2 M301.9 327.1V327.7 M301.9 327.1H303.2 M301.9 327.7H303.2 M301.8 326.5V327.4 M301.8 326.5H303.2 M301.8 327.4H301.9 M297.9 325.9V326.9 M297.9 325.9H303.2 M297.9 326.9H301.8 M295.6 326.4V328.3 M295.6 326.4H297.9 M295.6 328.3H303.2 M295.0 325.3V327.4 M295.0 325.3H303.2 M295.0 327.4H295.6 M294.3 324.7V326.3 M294.3 324.7H303.2 M294.3 326.3H295.0 M293.3 323.8V325.5 M293.3 323.8H299.6 M293.3 325.5H294.3 M292.2 324.7V328.9 M292.2 324.7H293.3 M292.2 328.9H303.2 M290.6 322.6V326.8 M290.6 322.6H296.0 M290.6 326.8H292.2 M288.6 324.7V329.5 M288.6 324.7H290.6 M288.6 329.5H303.2 M300.9 330.1V330.7 M300.9 330.1H303.2 M300.9 330.7H303.2 M297.4 330.4V331.3 M297.4 330.4H300.9 M297.4 331.3H303.2 M300.8 331.9V332.5 M300.8 331.9H303.2 M300.8 332.5H303.2 M299.9 333.1V333.7 M299.9 333.1H303.2 M299.9 333.7H303.2 M299.4 332.2V333.4 M299.4 332.2H300.8 M299.4 333.4H299.9 M297.4 334.3V334.9 M297.4 334.3H303.2 M297.4 334.9H303.2 M302.5 336.5V337.0 M302.5 336.5H303.2 M302.5 337.0H303.2 M300.6 337.5V338.0 M300.6 337.5H303.2 M300.6 338.0H303.2 M300.3 336.8V337.7 M300.3 336.8H302.5 M300.3 337.7H300.6 M299.2 338.4V338.8 M299.2 338.4H303.2 M299.2 338.8H303.2 M298.1 337.2V338.6 M298.1 337.2H300.3 M298.1 338.6H299.2 M297.8 336.1V337.9 M297.8 336.1H303.2 M297.8 337.9H298.1 M296.4 335.5V337.0 M296.4 335.5H303.2 M296.4 337.0H297.8 M302.5 339.9V340.5 M302.5 339.9H303.2 M302.5 340.5H303.2 M302.2 339.3V340.2 M302.2 339.3H303.2 M302.2 340.2H302.5 M302.1 339.7V341.1 M302.1 339.7H302.2 M302.1 341.1H303.2 M295.0 336.2V340.4 M295.0 336.2H296.4 M295.0 340.4H302.1 M294.4 334.6V338.3 M294.4 334.6H297.4 M294.4 338.3H295.0 M293.5 332.8V336.5 M293.5 332.8H299.4 M293.5 336.5H294.4 M300.8 341.7V342.3 M300.8 341.7H303.2 M300.8 342.3H303.2 M298.7 342.0V342.9 M298.7 342.0H300.8 M298.7 342.9H303.2 M291.6 334.6V342.4 M291.6 334.6H293.5 M291.6 342.4H298.7 M289.0 330.8V338.5 M289.0 330.8H297.4 M289.0 338.5H291.6 M296.1 344.1V344.7 M296.1 344.1H303.2 M296.1 344.7H303.2 M294.5 343.5V344.4 M294.5 343.5H303.2 M294.5 344.4H296.1 M286.9 334.7V343.9 M286.9 334.7H289.0 M286.9 343.9H294.5 M281.0 327.1V339.3 M281.0 327.1H288.6 M281.0 339.3H286.9 M281.0 332.0V333.2 M300.5 345.3V345.9 M300.5 345.3H303.2 M300.5 345.9H303.2 M297.4 346.5V347.1 M297.4 346.5H303.2 M297.4 347.1H303.2 M302.9 348.9V349.5 M302.9 348.9H303.2 M302.9 349.5H303.2 M301.5 348.3V349.2 M301.5 348.3H303.2 M301.5 349.2H302.9 M299.0 350.0V350.4 M299.0 350.0H303.2 M299.0 350.4H303.2 M297.9 350.2V351.0 M297.9 350.2H299.0 M297.9 351.0H303.2 M297.2 348.8V350.6 M297.2 348.8H301.5 M297.2 350.6H297.9 M299.4 351.6V352.2 M299.4 351.6H303.2 M299.4 352.2H303.2 M301.6 352.8V353.4 M301.6 352.8H303.2 M301.6 353.4H303.2 M298.5 351.9V353.1 M298.5 351.9H299.4 M298.5 353.1H301.6 M295.9 349.7V352.5 M295.9 349.7H297.2 M295.9 352.5H298.5 M300.4 354.0V354.6 M300.4 354.0H303.2 M300.4 354.6H303.2 M294.6 351.1V354.3 M294.6 351.1H295.9 M294.6 354.3H300.4 M293.3 347.7V352.7 M293.3 347.7H303.2 M293.3 352.7H294.6 M292.1 346.8V350.2 M292.1 346.8H297.4 M292.1 350.2H293.3 M291.2 348.5V355.2 M291.2 348.5H292.1 M291.2 355.2H303.2 M289.7 345.6V351.9 M289.7 345.6H300.5 M289.7 351.9H291.2 M301.2 355.8V356.4 M301.2 355.8H303.2 M301.2 356.4H303.2 M287.9 348.7V356.1 M287.9 348.7H289.7 M287.9 356.1H301.2 M301.7 357.6V358.2 M301.7 357.6H303.2 M301.7 358.2H303.2 M299.5 357.0V357.9 M299.5 357.0H303.2 M299.5 357.9H301.7 M301.8 358.8V359.4 M301.8 358.8H303.2 M301.8 359.4H303.2 M293.8 359.9V360.4 M293.8 359.9H303.2 M293.8 360.4H303.2 M292.2 359.1V360.2 M292.2 359.1H301.8 M292.2 360.2H293.8 M291.3 357.5V359.6 M291.3 357.5H299.5 M291.3 359.6H292.2 M300.0 360.9V361.5 M300.0 360.9H303.2 M300.0 361.5H303.2 M300.3 363.3V363.7 M300.3 363.3H303.2 M300.3 363.7H303.2 M302.3 364.0V364.6 M302.3 364.0H303.2 M302.3 364.6H303.2 M302.8 365.2V365.8 M302.8 365.2H303.2 M302.8 365.8H303.2 M302.2 364.3V365.5 M302.2 364.3H302.3 M302.2 365.5H302.8 M300.0 363.5V364.9 M300.0 363.5H300.3 M300.0 364.9H302.2 M302.9 367.0V367.4 M302.9 367.0H303.2 M302.9 367.4H303.2 M303.0 367.9V368.4 M303.0 367.9H303.2 M303.0 368.4H303.2 M302.8 367.2V368.2 M302.8 367.2H302.9 M302.8 368.2H303.0 M301.7 366.4V367.7 M301.7 366.4H303.2 M301.7 367.7H302.8 M299.4 364.2V367.1 M299.4 364.2H300.0 M299.4 367.1H301.7 M298.7 362.7V365.6 M298.7 362.7H303.2 M298.7 365.6H299.4 M302.6 368.8V369.4 M302.6 368.8H303.2 M302.6 369.4H303.2 M301.4 370.0V370.6 M301.4 370.0H303.2 M301.4 370.6H303.2 M301.1 369.1V370.3 M301.1 369.1H302.6 M301.1 370.3H301.4 M297.9 364.2V369.7 M297.9 364.2H298.7 M297.9 369.7H301.1 M297.4 367.0V371.2 M297.4 367.0H297.9 M297.4 371.2H303.2 M298.8 371.8V372.4 M298.8 371.8H303.2 M298.8 372.4H303.2 M296.4 369.1V372.1 M296.4 369.1H297.4 M296.4 372.1H298.8 M295.0 362.1V370.6 M295.0 362.1H303.2 M295.0 370.6H296.4 M293.5 361.2V366.4 M293.5 361.2H300.0 M293.5 366.4H295.0 M289.1 358.5V363.8 M289.1 358.5H291.3 M289.1 363.8H293.5 M282.8 352.4V361.2 M282.8 352.4H287.9 M282.8 361.2H289.1 M301.4 373.0V373.6 M301.4 373.0H303.2 M301.4 373.6H303.2 M301.2 373.3V374.2 M301.2 373.3H301.4 M301.2 374.2H303.2 M299.0 374.8V375.4 M299.0 374.8H303.2 M299.0 375.4H303.2 M301.8 376.0V376.6 M301.8 376.0H303.2 M301.8 376.6H303.2 M301.7 376.3V377.2 M301.7 376.3H301.8 M301.7 377.2H303.2 M301.8 378.1V378.6 M301.8 378.1H303.2 M301.8 378.6H303.2 M300.6 379.1V379.6 M300.6 379.1H303.2 M300.6 379.6H303.2 M300.4 378.4V379.3 M300.4 378.4H301.8 M300.4 379.3H300.6 M294.9 377.8V378.9 M294.9 377.8H303.2 M294.9 378.9H300.4 M294.3 376.8V378.3 M294.3 376.8H301.7 M294.3 378.3H294.9 M292.9 375.1V377.6 M292.9 375.1H299.0 M292.9 377.6H294.3 M291.6 373.8V376.3 M291.6 373.8H301.2 M291.6 376.3H292.9 M302.8 382.5V383.1 M302.8 382.5H303.2 M302.8 383.1H303.2 M302.5 383.7V384.3 M302.5 383.7H303.2 M302.5 384.3H303.2 M302.4 382.8V384.0 M302.4 382.8H302.8 M302.4 384.0H302.5 M302.2 384.9V385.5 M302.2 384.9H303.2 M302.2 385.5H303.2 M302.9 386.6V387.0 M302.9 386.6H303.2 M302.9 387.0H303.2 M301.9 387.5V387.9 M301.9 387.5H303.2 M301.9 387.9H303.2 M301.6 386.8V387.7 M301.6 386.8H302.9 M301.6 387.7H301.9 M301.4 386.1V387.2 M301.4 386.1H303.2 M301.4 387.2H301.6 M301.0 385.2V386.7 M301.0 385.2H302.2 M301.0 386.7H301.4 M300.5 385.9V388.3 M300.5 385.9H301.0 M300.5 388.3H303.2 M299.9 383.4V387.1 M299.9 383.4H302.4 M299.9 387.1H300.5 M299.0 381.9V385.3 M299.0 381.9H303.2 M299.0 385.3H299.9 M301.9 388.9V389.5 M301.9 388.9H303.2 M301.9 389.5H303.2 M298.5 383.6V389.2 M298.5 383.6H299.0 M298.5 389.2H301.9 M297.9 381.3V386.4 M297.9 381.3H303.2 M297.9 386.4H298.5 M296.8 380.7V383.8 M296.8 380.7H303.2 M296.8 383.8H297.9 M295.6 382.3V390.1 M295.6 382.3H296.8 M295.6 390.1H303.2 M294.2 380.1V386.2 M294.2 380.1H303.2 M294.2 386.2H295.6 M293.3 383.1V390.7 M293.3 383.1H294.2 M293.3 390.7H303.2 M289.9 375.1V386.9 M289.9 375.1H291.6 M289.9 386.9H293.3 M279.0 356.8V381.0 M279.0 356.8H282.8 M279.0 381.0H289.9 M279.0 368.9V378.5 M273.5 332.0V378.5 M273.5 332.0H281.0 M273.5 378.5H279.0 M299.5 391.3V391.9 M299.5 391.3H303.2 M299.5 391.9H303.2 M302.4 392.5V393.1 M302.4 392.5H303.2 M302.4 393.1H303.2 M299.7 392.8V393.5 M299.7 392.8H302.4 M299.7 393.5H303.2 M300.8 393.9V394.5 M300.8 393.9H303.2 M300.8 394.5H303.2 M299.3 393.1V394.2 M299.3 393.1H299.7 M299.3 394.2H300.8 M302.8 395.1V395.7 M302.8 395.1H303.2 M302.8 395.7H303.2 M301.1 396.3V396.9 M301.1 396.3H303.2 M301.1 396.9H303.2 M300.7 395.4V396.6 M300.7 395.4H302.8 M300.7 396.6H301.1 M298.6 393.7V396.0 M298.6 393.7H299.3 M298.6 396.0H300.7 M299.7 397.5V398.1 M299.7 397.5H303.2 M299.7 398.1H303.2 M297.5 394.8V397.8 M297.5 394.8H298.6 M297.5 397.8H299.7 M297.1 396.3V398.7 M297.1 396.3H297.5 M297.1 398.7H303.2 M295.4 391.6V397.5 M295.4 391.6H299.5 M295.4 397.5H297.1 M297.5 399.3V399.9 M297.5 399.3H303.2 M297.5 399.9H303.2 M294.8 394.6V399.6 M294.8 394.6H295.4 M294.8 399.6H297.5 M297.7 400.5V401.1 M297.7 400.5H303.2 M297.7 401.1H303.2 M293.5 397.1V400.8 M293.5 397.1H294.8 M293.5 400.8H297.7 M291.6 398.9V401.7 M291.6 398.9H293.5 M291.6 401.7H303.2 M296.6 402.3V402.9 M296.6 402.3H303.2 M296.6 402.9H303.2 M289.0 400.3V402.6 M289.0 400.3H291.6 M289.0 402.6H296.6 M298.9 403.5V404.0 M298.9 403.5H303.2 M298.9 404.0H303.2 M297.6 404.3V404.8 M297.6 404.3H303.2 M297.6 404.8H303.2 M297.0 403.7V404.6 M297.0 403.7H298.9 M297.0 404.6H297.6 M285.0 401.5V404.1 M285.0 401.5H289.0 M285.0 404.1H297.0 M285.0 395.6V402.8 M300.5 405.9V406.5 M300.5 405.9H303.2 M300.5 406.5H303.2 M299.3 405.3V406.2 M299.3 405.3H303.2 M299.3 406.2H300.5 M296.9 405.8V407.1 M296.9 405.8H299.3 M296.9 407.1H303.2 M301.4 408.3V408.9 M301.4 408.3H303.2 M301.4 408.9H303.2 M300.8 407.7V408.6 M300.8 407.7H303.2 M300.8 408.6H301.4 M300.5 408.1V409.5 M300.5 408.1H300.8 M300.5 409.5H303.2 M293.6 408.8V409.8 M293.6 408.8H300.5 M293.6 409.8H303.2 M301.6 410.2V410.8 M301.6 410.2H303.2 M301.6 410.8H303.2 M300.8 410.5V411.4 M300.8 410.5H301.6 M300.8 411.4H303.2 M292.9 409.3V410.9 M292.9 409.3H293.6 M292.9 410.9H300.8 M291.9 406.4V410.1 M291.9 406.4H296.9 M291.9 410.1H292.9 M290.3 408.3V412.0 M290.3 408.3H291.9 M290.3 412.0H303.2 M302.0 413.8V414.4 M302.0 413.8H303.2 M302.0 414.4H303.2 M301.2 415.0V415.6 M301.2 415.0H303.2 M301.2 415.6H303.2 M301.0 414.1V415.3 M301.0 414.1H302.0 M301.0 415.3H301.2 M297.0 416.2V416.8 M297.0 416.2H303.2 M297.0 416.8H303.2 M298.4 417.4V418.0 M298.4 417.4H303.2 M298.4 418.0H303.2 M302.9 419.2V419.8 M302.9 419.2H303.2 M302.9 419.8H303.2 M302.1 418.6V419.5 M302.1 418.6H303.2 M302.1 419.5H302.9 M299.9 421.4V421.7 M299.9 421.4H303.2 M299.9 421.7H303.2 M299.5 421.0V421.6 M299.5 421.0H303.2 M299.5 421.6H299.9 M299.0 421.3V422.2 M299.0 421.3H299.5 M299.0 422.2H303.2 M299.9 422.8V423.4 M299.9 422.8H303.2 M299.9 423.4H303.2 M298.5 421.7V423.1 M298.5 421.7H299.0 M298.5 423.1H299.9 M297.8 420.4V422.4 M297.8 420.4H303.2 M297.8 422.4H298.5 M297.3 419.0V421.4 M297.3 419.0H302.1 M297.3 421.4H297.8 M302.6 423.9V424.3 M302.6 423.9H303.2 M302.6 424.3H303.2 M302.8 424.8V425.3 M302.8 424.8H303.2 M302.8 425.3H303.2 M302.5 424.1V425.1 M302.5 424.1H302.6 M302.5 425.1H302.8 M296.6 420.2V424.6 M296.6 420.2H297.3 M296.6 424.6H302.5 M295.1 417.7V422.4 M295.1 417.7H298.4 M295.1 422.4H296.6 M293.6 416.5V420.0 M293.6 416.5H297.0 M293.6 420.0H295.1 M292.9 414.7V418.3 M292.9 414.7H301.0 M292.9 418.3H293.6 M290.6 413.2V416.5 M290.6 413.2H303.2 M290.6 416.5H292.9 M287.5 412.6V414.8 M287.5 412.6H303.2 M287.5 414.8H290.6 M284.0 410.1V413.7 M284.0 410.1H290.3 M284.0 413.7H287.5 M284.0 411.9V414.5 M269.7 395.6V414.5 M269.7 395.6H285.0 M269.7 414.5H284.0 M267.4 355.0V405.0 M267.4 355.0H273.5 M267.4 405.0H269.7 M266.8 248.7V380.0 M266.8 248.7H268.3 M266.8 380.0H267.4 M266.3 133.2V314.0 M266.3 133.2H270.2 M266.3 314.0H266.8" stroke="#000" stroke-width="0.95" fill="none"/>
<rect x="299.2" y="66" width="4.2" height="359.5" fill="#000"/>
<text x="0" y="0" font-size="6.65" fill="#222" transform="translate(305.88 429.3) rotate(90)">Parental_ED_R2</text>
<text x="0" y="0" font-size="6.65" fill="#222" transform="translate(315.05 429.3) rotate(90)">Parental_ED_R1</text>
<text x="0" y="0" font-size="6.65" fill="#222" transform="translate(324.22 429.3) rotate(90)">Parental_ED_R3</text>
<text x="0" y="0" font-size="6.65" fill="#222" transform="translate(337.78 429.3) rotate(90)">Parental_G_R2</text>
<text x="0" y="0" font-size="6.65" fill="#222" transform="translate(346.95 429.3) rotate(90)">Parental_G_R1</text>
<text x="0" y="0" font-size="6.65" fill="#222" transform="translate(356.12 429.3) rotate(90)">Parental_G_R3</text>
<text x="0" y="0" font-size="6.65" fill="#222" transform="translate(369.58 429.3) rotate(90)">Parental_LY_R1</text>
<text x="0" y="0" font-size="6.65" fill="#222" transform="translate(378.75 429.3) rotate(90)">Parental_LY_R2</text>
<text x="0" y="0" font-size="6.65" fill="#222" transform="translate(387.92 429.3) rotate(90)">Parental_LY_R3</text>
<text x="0" y="0" font-size="6.65" fill="#222" transform="translate(401.58 429.3) rotate(90)">Parental_ER_R1</text>
<text x="0" y="0" font-size="6.65" fill="#222" transform="translate(410.75 429.3) rotate(90)">Parental_ER_R2</text>
<text x="0" y="0" font-size="6.65" fill="#222" transform="translate(419.92 429.3) rotate(90)">Parental_ER_R3</text>
<text x="0" y="0" font-size="6.65" fill="#222" transform="translate(433.38 429.3) rotate(90)">Parental_PM_R3</text>
<text x="0" y="0" font-size="6.65" fill="#222" transform="translate(442.55 429.3) rotate(90)">Parental_PM_R1</text>
<text x="0" y="0" font-size="6.65" fill="#222" transform="translate(451.72 429.3) rotate(90)">Parental_PM_R2</text>
<text x="0" y="0" font-size="6.65" fill="#222" transform="translate(465.18 429.3) rotate(90)">Parental_MIT_R2</text>
<text x="0" y="0" font-size="6.65" fill="#222" transform="translate(474.35 429.3) rotate(90)">Parental_MIT_R1</text>
<text x="0" y="0" font-size="6.65" fill="#222" transform="translate(483.52 429.3) rotate(90)">Parental_MIT_R3</text>
</svg>
</body></html>
